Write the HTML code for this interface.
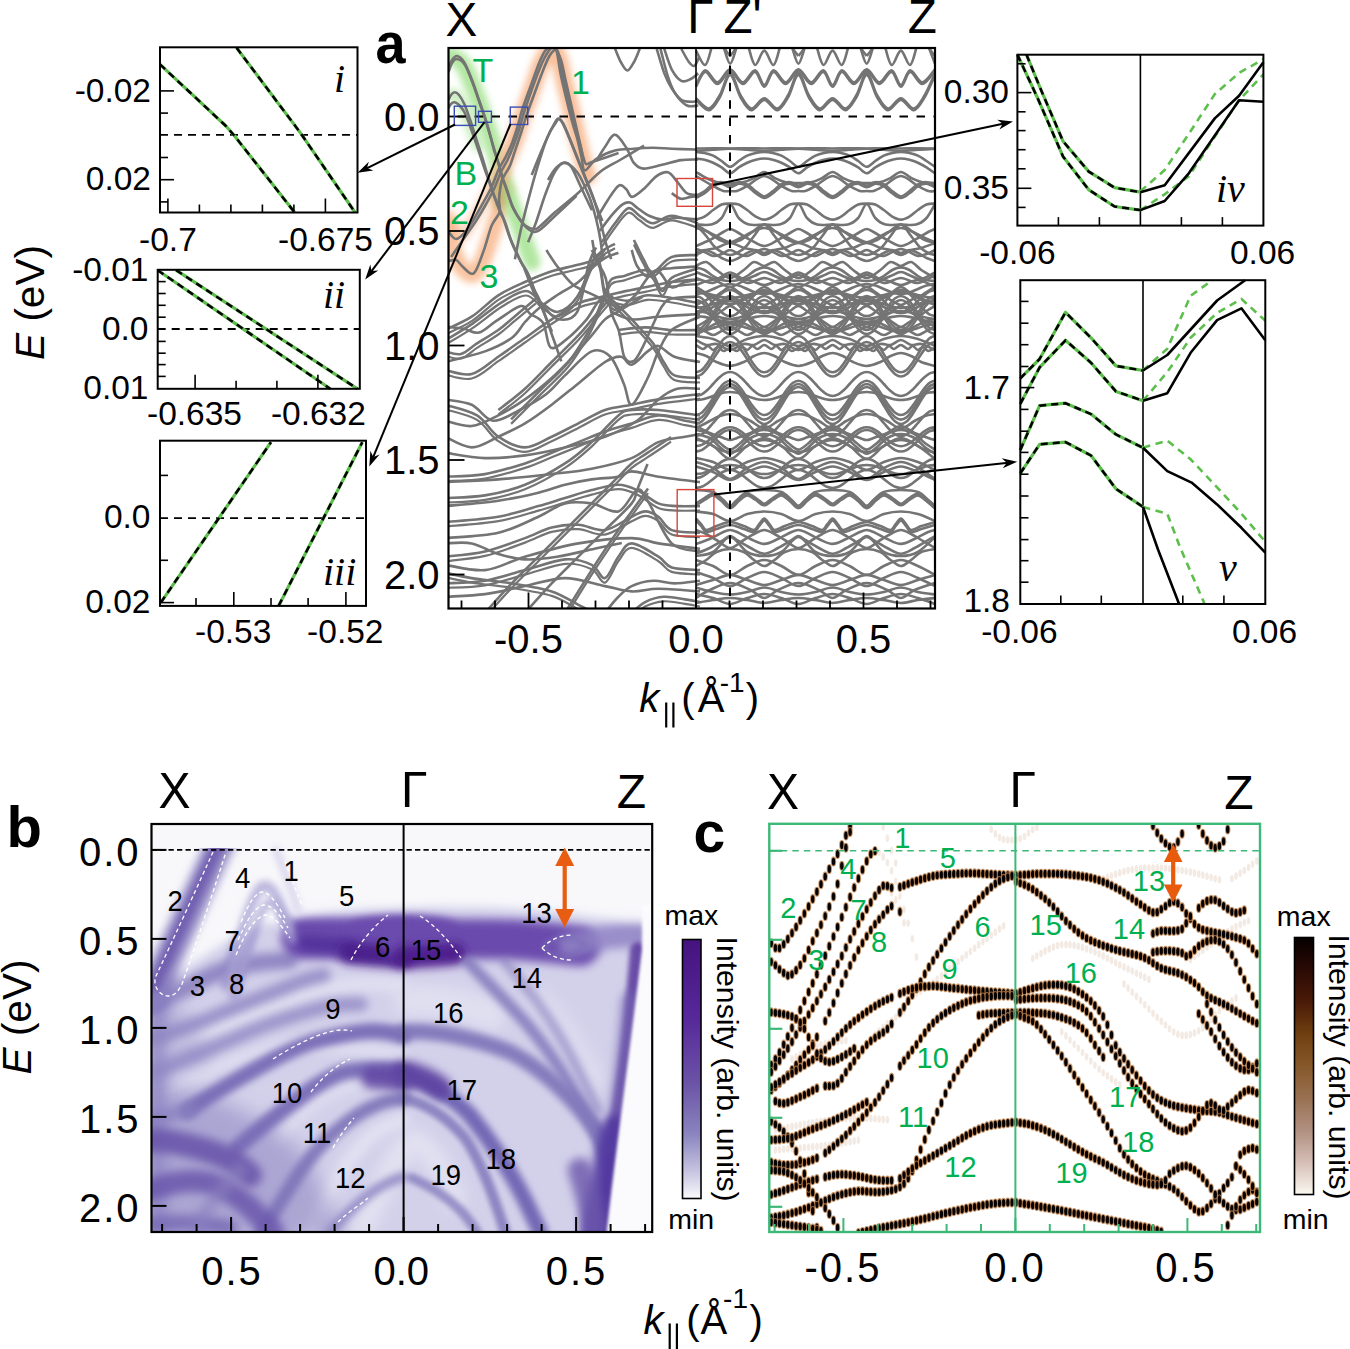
<!DOCTYPE html>
<html><head><meta charset="utf-8"><style>
html,body{margin:0;padding:0;background:#fff;overflow:hidden;}
svg{display:block;}
</style></head><body>
<svg width="1350" height="1349" viewBox="0 0 1350 1349">
<rect width="1350" height="1349" fill="#fff"/>
<defs><clipPath id="ca"><rect x="448.5" y="48" width="486.5" height="560.5"/></clipPath>
<filter id="glow" filterUnits="userSpaceOnUse" x="0" y="0" width="1350" height="1349"><feGaussianBlur stdDeviation="3.5"/></filter></defs>
<g clip-path="url(#ca)">
<path d="M449.0,225.0 C449.5,228.3 450.5,238.8 452.0,245.0 C453.5,251.2 455.7,257.5 458.0,262.0 C460.3,266.5 463.3,270.0 466.0,272.0 C468.7,274.0 471.3,275.7 474.0,274.0 C476.7,272.3 479.3,267.7 482.0,262.0 C484.7,256.3 487.3,247.8 490.0,240.0 C492.7,232.2 495.5,223.3 498.0,215.0 C500.5,206.7 503.8,194.2 505.0,190.0" fill="none" stroke="#f8b88e" stroke-width="17" stroke-opacity="0.85" stroke-linecap="round" filter="url(#glow)"/>
<path d="M449.0,215.0 C450.0,217.8 452.8,228.5 455.0,232.0 C457.2,235.5 459.5,237.2 462.0,236.0 C464.5,234.8 467.0,229.7 470.0,225.0 C473.0,220.3 476.7,213.8 480.0,208.0 C483.3,202.2 486.7,196.0 490.0,190.0 C493.3,184.0 498.3,175.0 500.0,172.0" fill="none" stroke="#f8b88e" stroke-width="12" stroke-opacity="0.6" stroke-linecap="round" filter="url(#glow)"/>
<path d="M449.0,56.0 C450.2,56.3 453.5,56.3 456.0,58.0 C458.5,59.7 461.3,61.7 464.0,66.0 C466.7,70.3 469.5,78.0 472.0,84.0 C474.5,90.0 476.8,96.0 479.0,102.0 C481.2,108.0 483.0,114.0 485.0,120.0 C487.0,126.0 489.2,132.2 491.0,138.0 C492.8,143.8 494.3,149.3 496.0,155.0 C497.7,160.7 499.3,166.5 501.0,172.0 C502.7,177.5 504.2,182.5 506.0,188.0 C507.8,193.5 509.8,198.8 512.0,205.0 C514.2,211.2 516.7,218.3 519.0,225.0 C521.3,231.7 523.8,238.8 526.0,245.0 C528.2,251.2 531.0,259.2 532.0,262.0" fill="none" stroke="#a8e496" stroke-width="17" stroke-opacity="0.9" stroke-linecap="round" filter="url(#glow)"/>
<path d="M449.0,95.0 C450.2,95.2 453.5,93.8 456.0,96.0 C458.5,98.2 461.7,103.3 464.0,108.0 C466.3,112.7 467.7,117.7 470.0,124.0 C472.3,130.3 476.7,142.3 478.0,146.0" fill="none" stroke="#a8e496" stroke-width="12" stroke-opacity="0.6" stroke-linecap="round" filter="url(#glow)"/>
<path d="M500.0,178.0 C501.0,175.0 503.8,165.5 506.0,160.0 C508.2,154.5 510.7,151.0 513.0,145.0 C515.3,139.0 517.7,130.8 520.0,124.0 C522.3,117.2 524.7,110.7 527.0,104.0 C529.3,97.3 531.7,90.7 534.0,84.0 C536.3,77.3 538.7,69.3 541.0,64.0 C543.3,58.7 546.0,54.5 548.0,52.0 C550.0,49.5 551.2,48.0 553.0,49.0 C554.8,50.0 557.2,52.8 559.0,58.0 C560.8,63.2 562.2,72.3 564.0,80.0 C565.8,87.7 568.2,96.3 570.0,104.0 C571.8,111.7 573.3,118.7 575.0,126.0 C576.7,133.3 578.3,141.0 580.0,148.0 C581.7,155.0 583.7,163.3 585.0,168.0 C586.3,172.7 587.5,174.7 588.0,176.0" fill="none" stroke="#f8b88e" stroke-width="17" stroke-opacity="0.9" stroke-linecap="round" filter="url(#glow)"/>
<ellipse cx="499" cy="193" rx="8" ry="17" fill="#c4a560" fill-opacity="0.7" filter="url(#glow)"/>
<path d="M448.5,68.0 C449.1,66.7 450.6,62.0 452.0,60.0 C453.4,58.0 455.0,55.7 457.0,56.0 C459.0,56.3 461.5,58.0 464.0,62.0 C466.5,66.0 469.5,73.7 472.0,80.0 C474.5,86.3 476.8,93.7 479.0,100.0 C481.2,106.3 483.2,112.2 485.0,118.0 C486.8,123.8 488.5,129.7 490.0,135.0 C491.5,140.3 492.7,145.5 494.0,150.0 C495.3,154.5 496.7,157.5 498.0,162.0 C499.3,166.5 500.7,172.7 502.0,177.0 C503.3,181.3 504.5,183.7 506.0,188.0 C507.5,192.3 509.7,199.3 511.0,203.0 C512.3,206.7 512.8,207.7 514.0,210.0 C515.2,212.3 516.5,214.4 518.4,217.0 C520.2,219.6 522.5,223.6 525.1,225.6 C527.7,227.6 531.6,228.8 534.0,229.0 C536.4,229.2 536.0,229.6 539.5,226.8 C543.0,224.0 548.8,217.8 555.0,212.3 C561.2,206.8 569.5,200.7 577.0,194.0 C584.5,187.3 592.8,177.7 600.0,172.0 C607.2,166.3 612.7,164.4 620.0,160.0 C627.3,155.6 640.0,148.0 644.0,145.6" fill="none" stroke="#747474" stroke-width="2.6" stroke-linejoin="round"/>
<path d="M448.5,72.0 C449.1,70.5 450.6,65.2 452.0,63.0 C453.4,60.8 454.8,58.7 457.0,59.0 C459.2,59.3 462.3,60.8 465.0,65.0 C467.7,69.2 470.5,77.5 473.0,84.0 C475.5,90.5 477.8,97.8 480.0,104.0 C482.2,110.2 484.2,115.3 486.0,121.0 C487.8,126.7 489.5,132.8 491.0,138.0 C492.5,143.2 493.7,147.5 495.0,152.0 C496.3,156.5 497.7,160.5 499.0,165.0 C500.3,169.5 501.7,174.8 503.0,179.0 C504.3,183.2 505.5,185.7 507.0,190.0 C508.5,194.3 510.5,201.2 512.0,205.0 C513.5,208.8 514.7,210.5 516.0,213.0 C517.3,215.5 518.2,217.5 520.0,220.0 C521.8,222.5 524.7,226.0 527.0,228.0 C529.3,230.0 531.7,231.8 534.0,232.0 C536.3,232.2 537.3,231.8 541.0,229.0 C544.7,226.2 550.1,220.5 556.0,215.0 C561.9,209.5 573.1,199.1 576.5,195.9" fill="none" stroke="#747474" stroke-width="2.6" stroke-linejoin="round"/>
<path d="M448.5,100.0 C448.9,99.2 450.0,96.3 451.0,95.0 C452.0,93.7 453.3,92.2 454.6,92.2 C455.9,92.2 457.4,93.0 459.0,95.0 C460.6,97.0 462.4,99.8 464.3,104.0 C466.2,108.2 468.4,114.8 470.2,120.0 C472.0,125.2 473.4,130.0 475.0,135.0 C476.6,140.0 478.3,145.3 479.8,150.0 C481.3,154.7 482.8,159.0 484.0,163.0 C485.2,167.0 486.0,170.2 487.2,174.0 C488.4,177.8 489.8,182.2 491.0,186.0 C492.2,189.8 493.3,193.3 494.7,197.0 C496.1,200.7 497.8,204.7 499.1,208.0 C500.5,211.3 501.1,211.9 502.8,216.7 C504.5,221.5 507.6,231.6 509.5,236.8 C511.4,242.0 512.1,243.8 514.0,247.9 C515.9,252.0 518.4,257.1 520.6,261.2 C522.8,265.3 525.1,267.8 527.3,272.4 C529.5,277.0 532.0,284.4 534.0,289.0 C536.0,293.6 537.5,295.2 539.5,300.0 C541.5,304.8 543.9,312.2 546.0,318.0 C548.1,323.8 549.4,327.8 552.0,335.0 C554.6,342.2 559.8,357.0 561.3,361.4" fill="none" stroke="#747474" stroke-width="2.6" stroke-linejoin="round"/>
<path d="M448.5,108.0 C448.9,107.3 450.0,105.0 451.0,104.0 C452.0,103.0 453.3,102.1 454.6,102.3 C455.9,102.5 457.4,103.4 459.0,105.0 C460.6,106.6 462.5,108.5 464.3,112.0 C466.1,115.5 468.1,120.8 470.0,126.0 C471.9,131.2 474.2,137.7 476.0,143.0 C477.8,148.3 479.5,153.5 481.0,158.0 C482.5,162.5 483.7,166.2 485.0,170.0 C486.3,173.8 487.7,177.2 489.0,181.0 C490.3,184.8 491.7,189.2 493.0,193.0 C494.3,196.8 495.7,200.5 497.0,204.0 C498.3,207.5 499.7,211.0 501.0,214.0 C502.3,217.0 503.3,217.7 505.0,222.0 C506.7,226.3 509.2,235.2 511.0,240.0 C512.8,244.8 514.2,247.0 516.0,251.0 C517.8,255.0 519.8,259.8 522.0,264.0 C524.2,268.2 526.8,271.3 529.0,276.0 C531.2,280.7 533.0,287.0 535.0,292.0 C537.0,297.0 538.2,299.4 541.0,306.0 C543.8,312.6 550.2,327.4 552.0,331.7" fill="none" stroke="#747474" stroke-width="2.6" stroke-linejoin="round"/>
<path d="M551.0,46.0 C550.0,46.8 546.9,48.3 545.0,51.0 C543.1,53.7 541.9,56.1 539.4,62.3 C536.9,68.5 532.7,80.5 529.8,88.4 C526.9,96.4 524.2,103.3 522.1,110.0 C520.0,116.7 518.8,122.6 516.9,128.5 C515.0,134.4 513.0,140.7 511.0,145.6 C509.0,150.5 507.1,154.1 505.0,158.2 C502.9,162.3 500.6,165.2 498.4,170.0 C496.2,174.8 494.3,181.1 491.7,186.7 C489.1,192.3 485.8,198.0 482.8,203.4 C479.8,208.8 476.9,214.2 473.9,219.0 C470.9,223.8 468.0,229.0 465.0,232.3 C462.0,235.6 458.4,238.6 456.1,239.0 C453.8,239.4 452.3,236.3 451.0,235.0 C449.7,233.7 448.9,231.7 448.5,231.0" fill="none" stroke="#747474" stroke-width="2.6" stroke-linejoin="round"/>
<path d="M553.0,46.0 C552.2,47.0 549.8,49.2 548.0,52.0 C546.2,54.8 544.7,56.8 542.0,63.0 C539.3,69.2 534.9,81.0 532.0,89.0 C529.1,97.0 526.7,104.2 524.5,111.0 C522.3,117.8 520.9,124.0 519.0,130.0 C517.1,136.0 514.9,142.0 513.0,147.0 C511.1,152.0 509.5,155.8 507.5,160.0 C505.5,164.2 503.2,167.2 501.0,172.0 C498.8,176.8 496.7,183.3 494.0,189.0 C491.3,194.7 488.0,200.7 485.0,206.0 C482.0,211.3 479.0,216.3 476.0,221.0 C473.0,225.7 471.2,228.0 467.0,234.0 C462.8,240.0 453.7,253.2 451.1,257.0" fill="none" stroke="#747474" stroke-width="2.6" stroke-linejoin="round"/>
<path d="M556.0,48.0 C555.0,49.2 552.0,51.7 550.0,55.0 C548.0,58.3 546.5,61.8 544.0,68.0 C541.5,74.2 537.8,84.3 535.0,92.0 C532.2,99.7 529.3,107.2 527.0,114.0 C524.7,120.8 523.0,126.9 521.0,133.0 C519.0,139.1 516.8,145.4 515.0,150.8 C513.2,156.2 511.5,161.9 510.0,165.6 C508.5,169.3 507.1,170.6 505.8,173.0 C504.5,175.4 503.0,177.2 502.0,180.0 C501.0,182.8 500.5,186.7 500.0,190.0 C499.5,193.3 499.1,196.3 499.0,200.0 C498.9,203.7 500.7,208.0 499.5,212.3 C498.3,216.6 494.3,219.3 491.7,225.6 C489.1,231.9 486.5,242.7 483.9,250.1 C481.3,257.5 478.3,266.2 476.1,270.1 C473.9,274.0 473.0,274.2 470.6,273.5 C468.2,272.8 464.4,268.2 462.0,266.0 C459.6,263.8 458.4,260.9 456.1,260.1 C453.9,259.3 449.8,260.9 448.5,261.0" fill="none" stroke="#747474" stroke-width="2.6" stroke-linejoin="round"/>
<path d="M549.0,47.0 C550.2,47.3 554.1,44.5 556.0,49.0 C557.9,53.5 558.9,65.6 560.6,73.9 C562.3,82.2 564.5,91.0 566.4,99.0 C568.3,107.0 570.4,115.5 572.2,122.0 C574.0,128.6 575.7,132.5 577.2,138.3 C578.8,144.1 580.2,151.7 581.5,157.0 C582.8,162.3 582.4,170.1 584.8,170.4 C587.2,170.8 591.1,162.4 596.1,159.1 C601.1,155.8 608.7,152.3 615.0,150.6 C621.3,148.9 627.6,149.2 633.9,148.7 C640.2,148.2 646.5,147.8 652.8,147.8 C659.1,147.8 664.5,148.4 671.7,148.7 C678.9,149.0 692.0,149.4 696.0,149.5" fill="none" stroke="#747474" stroke-width="2.6" stroke-linejoin="round"/>
<path d="M552.0,47.0 C553.0,47.8 556.2,47.2 558.0,52.0 C559.8,56.8 561.2,67.8 563.0,76.0 C564.8,84.2 567.1,93.0 569.0,101.0 C570.9,109.0 572.8,117.5 574.5,124.0 C576.2,130.5 577.6,134.7 579.0,140.0 C580.4,145.3 581.8,152.0 583.0,156.0 C584.2,160.0 584.5,163.0 586.0,164.0 C587.5,165.0 586.6,163.8 592.0,162.0 C597.4,160.2 614.1,154.6 618.6,153.1" fill="none" stroke="#747474" stroke-width="2.6" stroke-linejoin="round"/>
<path d="M555.0,48.0 C556.0,50.0 559.2,54.3 561.0,60.0 C562.8,65.7 564.3,74.7 566.0,82.0 C567.7,89.3 569.3,96.7 571.0,104.0 C572.7,111.3 574.1,117.8 576.0,126.0 C577.9,134.2 581.2,148.8 582.2,153.3" fill="none" stroke="#747474" stroke-width="2.6" stroke-linejoin="round"/>
<path d="M531.7,175.0 C533.2,171.2 538.0,159.2 541.0,152.0 C544.0,144.8 547.7,136.7 550.0,132.0 C552.3,127.3 553.5,126.1 555.0,124.0 C556.5,121.9 557.4,119.2 558.7,119.2 C560.0,119.2 561.1,120.5 563.0,124.0 C564.9,127.5 567.5,134.0 570.0,140.0 C572.5,146.0 575.3,153.3 578.0,160.0 C580.7,166.7 583.7,174.2 586.0,180.0 C588.3,185.8 589.3,188.2 592.0,195.0 C594.7,201.8 600.7,216.7 602.4,221.0" fill="none" stroke="#747474" stroke-width="2.6" stroke-linejoin="round"/>
<path d="M548.0,180.0 C549.3,178.0 553.1,170.9 556.0,168.0 C558.9,165.1 562.7,162.5 565.4,162.5 C568.1,162.5 569.6,164.2 572.0,168.0 C574.4,171.8 576.7,177.9 580.0,185.0 C583.3,192.1 589.9,206.1 591.9,210.3" fill="none" stroke="#747474" stroke-width="2.6" stroke-linejoin="round"/>
<path d="M615.1,48.8 C616.1,51.0 618.8,58.4 620.8,62.0 C622.9,65.6 625.2,70.5 627.4,70.5 C629.6,70.5 632.0,65.6 634.0,62.0 C636.1,58.4 638.8,51.0 639.7,48.8" fill="none" stroke="#747474" stroke-width="2.6" stroke-linejoin="round"/>
<path d="M656.7,48.8 C658.0,52.9 661.8,66.7 664.3,73.4 C666.8,80.0 669.0,84.1 671.8,88.5 C674.7,92.9 677.8,97.6 681.3,99.8 C684.8,102.0 689.8,101.6 692.6,101.7 C695.5,101.9 697.4,100.9 698.3,100.8" fill="none" stroke="#747474" stroke-width="2.6" stroke-linejoin="round"/>
<path d="M660.5,48.8 C661.8,53.5 665.5,69.6 668.1,77.1 C670.6,84.7 672.5,89.4 675.6,94.1 C678.8,98.9 683.2,103.6 687.0,105.5 C690.7,107.4 696.4,105.5 698.3,105.5" fill="none" stroke="#747474" stroke-width="2.6" stroke-linejoin="round"/>
<path d="M664.3,48.8 C665.5,52.2 669.0,64.2 671.8,69.6 C674.7,74.9 678.1,79.3 681.3,80.9 C684.4,82.5 687.9,80.3 690.7,79.0 C693.6,77.8 697.0,74.3 698.3,73.4" fill="none" stroke="#747474" stroke-width="2.6" stroke-linejoin="round"/>
<path d="M681.3,48.8 C682.6,51.0 686.7,59.2 688.9,62.0 C691.1,64.8 692.8,66.7 694.5,65.8 C696.3,64.8 698.5,57.9 699.3,56.3" fill="none" stroke="#747474" stroke-width="2.6" stroke-linejoin="round"/>
<path d="M514.9,259.2 C515.8,254.5 518.4,240.7 520.6,230.9 C522.8,221.1 525.3,211.4 528.1,200.7 C530.9,190.0 534.4,177.1 537.6,166.7 C540.7,156.3 544.2,145.6 547.0,138.3 C549.8,131.1 552.7,126.5 554.6,123.2 C556.4,119.9 556.9,118.5 558.3,118.5 C559.8,118.5 561.2,119.9 563.1,123.2 C564.9,126.5 566.7,131.1 569.7,138.3 C572.7,145.6 577.2,157.2 581.0,166.7 C584.8,176.1 589.2,186.2 592.3,195.0 C595.5,203.8 597.7,211.7 599.9,219.6 C602.1,227.4 603.7,235.6 605.6,242.2 C607.4,248.8 610.3,256.4 611.2,259.2" fill="none" stroke="#747474" stroke-width="2.6" stroke-linejoin="round"/>
<path d="M596.1,161.0 C597.7,158.5 602.4,150.3 605.6,145.9 C608.7,141.5 611.5,134.2 615.0,134.6 C618.5,134.9 623.2,143.1 626.3,147.8 C629.5,152.5 631.1,159.4 633.9,162.9 C636.7,166.4 638.6,168.2 643.3,168.6 C648.1,168.9 655.9,166.2 662.2,164.8 C668.5,163.4 675.1,160.9 681.1,160.1 C687.1,159.2 695.3,159.6 698.1,159.5" fill="none" stroke="#747474" stroke-width="2.6" stroke-linejoin="round"/>
<path d="M528.1,242.2 C529.4,239.1 532.8,231.2 535.7,223.3 C538.5,215.5 542.0,203.5 545.1,195.0 C548.3,186.5 551.4,177.7 554.6,172.3 C557.7,167.0 560.2,162.9 564.0,162.9 C567.8,162.9 573.1,167.0 577.2,172.3 C581.3,177.7 585.7,188.4 588.6,195.0 C591.4,201.6 592.7,206.7 594.2,212.0 C595.8,217.4 596.9,222.1 598.0,227.1 C599.1,232.2 600.0,236.9 600.8,242.2 C601.6,247.6 602.4,256.4 602.7,259.2" fill="none" stroke="#747474" stroke-width="2.6" stroke-linejoin="round"/>
<path d="M596.1,219.6 C598.0,216.4 603.7,206.3 607.4,200.7 C611.2,195.0 615.6,187.4 618.8,185.6 C621.9,183.7 624.1,187.4 626.3,189.3 C628.5,191.2 629.2,196.9 632.0,196.9 C634.8,196.9 639.2,192.8 643.3,189.3 C647.4,185.9 652.5,178.9 656.6,176.1 C660.7,173.3 664.4,171.4 667.9,172.3 C671.4,173.3 674.2,178.3 677.3,181.8 C680.5,185.2 683.3,190.9 686.8,193.1 C690.2,195.3 696.2,194.7 698.1,195.0" fill="none" stroke="#747474" stroke-width="2.6" stroke-linejoin="round"/>
<path d="M599.9,230.9 C601.8,228.4 607.4,220.2 611.2,215.8 C615.0,211.4 619.4,206.7 622.6,204.4 C625.7,202.2 627.6,201.9 630.1,202.6 C632.6,203.2 634.5,206.0 637.7,208.2 C640.8,210.4 644.9,213.9 649.0,215.8 C653.1,217.7 657.5,219.2 662.2,219.6 C666.9,219.9 671.4,217.7 677.3,217.7 C683.3,217.7 694.7,219.2 698.1,219.6" fill="none" stroke="#747474" stroke-width="2.6" stroke-linejoin="round"/>
<path d="M601.8,242.2 C604.0,239.1 610.6,229.0 615.0,223.3 C619.4,217.7 624.1,209.5 628.2,208.2 C632.3,207.0 635.5,213.3 639.6,215.8 C643.7,218.3 647.4,223.3 652.8,223.3 C658.1,223.3 664.1,215.8 671.7,215.8 C679.2,215.8 693.7,222.1 698.1,223.3" fill="none" stroke="#747474" stroke-width="2.6" stroke-linejoin="round"/>
<path d="M601.8,246.7 C604.0,243.6 610.6,233.5 615.0,227.8 C619.4,222.2 624.1,214.0 628.2,212.7 C632.3,211.5 635.5,217.8 639.6,220.3 C643.7,222.8 647.4,227.8 652.8,227.8 C658.1,227.8 664.1,220.3 671.7,220.3 C679.2,220.3 693.7,226.6 698.1,227.8" fill="none" stroke="#747474" stroke-width="2.2" stroke-linejoin="round"/>
<path d="M671.7,193.1 C673.2,194.1 678.0,198.2 681.1,198.8 C684.3,199.4 687.7,197.4 690.6,196.9 C693.4,196.4 696.9,196.1 698.1,195.9" fill="none" stroke="#747474" stroke-width="2.6" stroke-linejoin="round"/>
<path d="M448.8,338.2 C452.9,335.7 464.5,329.1 473.3,323.1 C482.1,317.1 492.9,307.7 501.7,302.3 C510.5,297.0 519.3,290.7 526.2,291.0 C533.2,291.3 537.9,300.8 543.2,304.2 C548.6,307.7 552.7,313.0 558.3,311.8 C564.0,310.5 571.6,304.9 577.2,296.7 C582.9,288.5 588.2,270.2 592.3,262.7 C596.4,255.1 598.0,254.5 601.8,251.3 C605.6,248.2 612.8,245.0 615.0,243.8" fill="none" stroke="#747474" stroke-width="2.6" stroke-linejoin="round"/>
<path d="M448.8,342.7 C452.9,340.2 464.5,333.6 473.3,327.6 C482.1,321.6 492.9,312.2 501.7,306.8 C510.5,301.5 519.3,295.2 526.2,295.5 C533.2,295.8 537.9,305.3 543.2,308.7 C548.6,312.2 552.7,317.5 558.3,316.3 C564.0,315.0 571.6,309.4 577.2,301.2 C582.9,293.0 588.2,274.7 592.3,267.2 C596.4,259.6 598.0,259.0 601.8,255.8 C605.6,252.7 612.8,249.5 615.0,248.3" fill="none" stroke="#747474" stroke-width="2.2" stroke-linejoin="round"/>
<path d="M448.8,326.9 C451.3,327.2 458.9,327.8 463.9,328.8 C468.9,329.7 473.6,333.8 479.0,332.6 C484.4,331.3 489.1,325.6 496.0,321.2 C502.9,316.8 514.9,307.4 520.6,306.1 C526.2,304.9 526.2,310.8 530.0,313.7 C533.8,316.5 539.8,317.4 543.2,323.1 C546.7,328.8 546.7,345.2 550.8,347.7 C554.9,350.2 561.8,342.9 567.8,338.2 C573.8,333.5 581.0,325.9 586.7,319.3 C592.3,312.7 597.1,300.1 601.8,298.6 C606.5,297.0 609.7,310.2 615.0,309.9 C620.4,309.6 627.6,303.0 633.9,296.7 C640.2,290.4 646.5,276.8 652.8,272.1 C659.1,267.4 664.1,269.3 671.7,268.3 C679.2,267.4 693.7,266.8 698.1,266.4" fill="none" stroke="#747474" stroke-width="2.6" stroke-linejoin="round"/>
<path d="M511.1,419.4 C515.8,414.7 530.0,400.6 539.4,391.1 C548.9,381.7 559.9,372.2 567.8,362.8 C575.7,353.3 581.9,342.3 586.7,334.4 C591.4,326.6 593.3,321.9 596.1,315.6 C598.9,309.3 601.2,302.6 603.7,296.7 C606.2,290.7 607.8,283.1 611.2,279.7 C614.7,276.2 619.1,277.5 624.4,275.9 C629.8,274.3 638.6,270.5 643.3,270.2 C648.1,269.9 649.6,270.5 652.8,274.0 C655.9,277.5 659.1,290.4 662.2,291.0 C665.4,291.6 665.7,281.6 671.7,277.8 C677.7,274.0 693.7,269.9 698.1,268.3" fill="none" stroke="#747474" stroke-width="2.6" stroke-linejoin="round"/>
<path d="M511.1,423.9 C515.8,419.2 530.0,405.1 539.4,395.6 C548.9,386.2 559.9,376.7 567.8,367.3 C575.7,357.8 581.9,346.8 586.7,338.9 C591.4,331.1 593.3,326.4 596.1,320.1 C598.9,313.8 601.2,307.1 603.7,301.2 C606.2,295.2 607.8,287.6 611.2,284.2 C614.7,280.7 619.1,282.0 624.4,280.4 C629.8,278.8 638.6,275.0 643.3,274.7 C648.1,274.4 649.6,275.0 652.8,278.5 C655.9,282.0 659.1,294.9 662.2,295.5 C665.4,296.1 665.7,286.1 671.7,282.3 C677.7,278.5 693.7,274.4 698.1,272.8" fill="none" stroke="#747474" stroke-width="2.2" stroke-linejoin="round"/>
<path d="M592.3,240.0 C593.0,243.1 593.9,252.6 596.1,258.9 C598.3,265.2 603.0,269.0 605.6,277.8 C608.1,286.6 609.0,303.0 611.2,311.8 C613.4,320.6 616.6,323.1 618.8,330.7 C621.0,338.2 621.9,352.1 624.4,357.1 C627.0,362.2 630.7,362.8 633.9,360.9 C637.0,359.0 640.2,351.8 643.3,345.8 C646.5,339.8 649.6,331.6 652.8,325.0 C655.9,318.4 659.1,310.5 662.2,306.1 C665.4,301.7 665.7,300.1 671.7,298.6 C677.7,297.0 693.7,297.0 698.1,296.7" fill="none" stroke="#747474" stroke-width="2.6" stroke-linejoin="round"/>
<path d="M633.9,240.0 C635.5,243.1 640.2,253.5 643.3,258.9 C646.5,264.2 648.1,272.4 652.8,272.1 C657.5,271.8 664.1,259.8 671.7,257.0 C679.2,254.2 693.7,255.4 698.1,255.1" fill="none" stroke="#747474" stroke-width="2.6" stroke-linejoin="round"/>
<path d="M633.9,244.5 C635.5,247.6 640.2,258.0 643.3,263.4 C646.5,268.7 648.1,276.9 652.8,276.6 C657.5,276.3 664.1,264.3 671.7,261.5 C679.2,258.7 693.7,259.9 698.1,259.6" fill="none" stroke="#747474" stroke-width="2.2" stroke-linejoin="round"/>
<path d="M524.3,268.3 C526.2,273.1 532.5,290.4 535.7,296.7 C538.8,303.0 539.4,302.3 543.2,306.1 C547.0,309.9 552.7,318.4 558.3,319.3 C564.0,320.3 572.2,320.9 577.2,311.8 C582.3,302.6 585.4,275.3 588.6,264.6 C591.7,253.9 594.9,250.4 596.1,247.6" fill="none" stroke="#747474" stroke-width="2.6" stroke-linejoin="round"/>
<path d="M445.0,330.0 C449.4,327.8 462.8,322.5 471.7,316.7 C480.6,310.9 489.5,301.1 498.3,295.3 C507.2,289.6 516.1,286.0 525.0,282.0 C533.9,278.0 543.7,274.0 551.7,271.3 C559.7,268.7 566.4,267.8 573.0,266.0 C579.7,264.2 586.4,263.3 591.7,260.7 C597.0,258.0 602.8,251.8 605.0,250.0" fill="none" stroke="#747474" stroke-width="2.6" stroke-linejoin="round"/>
<path d="M445.0,334.5 C449.4,332.3 462.8,327.0 471.7,321.2 C480.6,315.4 489.5,305.6 498.3,299.8 C507.2,294.1 516.1,290.5 525.0,286.5 C533.9,282.5 543.7,278.5 551.7,275.8 C559.7,273.2 566.4,272.3 573.0,270.5 C579.7,268.7 586.4,267.8 591.7,265.2 C597.0,262.5 602.8,256.3 605.0,254.5" fill="none" stroke="#747474" stroke-width="2.2" stroke-linejoin="round"/>
<path d="M445.0,362.0 C451.7,360.3 473.9,355.4 485.0,351.4 C496.1,347.4 505.0,342.9 511.7,338.0 C518.4,333.1 520.6,326.9 525.0,322.0 C529.5,317.1 533.0,313.1 538.4,308.7 C543.7,304.2 550.4,299.8 557.0,295.3 C563.7,290.9 572.1,286.9 578.4,282.0 C584.6,277.1 589.9,270.0 594.4,266.0 C598.8,262.0 601.0,260.2 605.0,258.0 C609.0,255.8 616.2,253.6 618.4,252.7" fill="none" stroke="#747474" stroke-width="2.6" stroke-linejoin="round"/>
<path d="M445.0,370.0 C449.4,370.7 462.8,376.3 471.7,374.0 C480.6,371.8 489.5,362.7 498.3,356.7 C507.2,350.7 516.1,344.2 525.0,338.0 C533.9,331.8 542.8,325.1 551.7,319.4 C560.6,313.6 570.8,306.9 578.4,303.3 C585.9,299.8 590.4,299.8 597.0,298.0 C603.7,296.2 610.4,294.5 618.4,292.7 C626.4,290.9 636.2,289.1 645.1,287.3 C653.9,285.6 662.6,283.3 671.7,282.0 C680.9,280.7 695.3,279.8 700.0,279.3" fill="none" stroke="#747474" stroke-width="2.6" stroke-linejoin="round"/>
<path d="M445.0,374.5 C449.4,375.2 462.8,380.8 471.7,378.5 C480.6,376.3 489.5,367.2 498.3,361.2 C507.2,355.2 516.1,348.7 525.0,342.5 C533.9,336.3 542.8,329.6 551.7,323.9 C560.6,318.1 570.8,311.4 578.4,307.8 C585.9,304.3 590.4,304.3 597.0,302.5 C603.7,300.7 610.4,299.0 618.4,297.2 C626.4,295.4 636.2,293.6 645.1,291.8 C653.9,290.1 662.6,287.8 671.7,286.5 C680.9,285.2 695.3,284.3 700.0,283.8" fill="none" stroke="#747474" stroke-width="2.2" stroke-linejoin="round"/>
<path d="M445.0,399.4 C449.4,400.3 463.7,401.2 471.7,404.7 C479.7,408.3 485.0,419.8 493.0,420.7 C501.0,421.6 510.8,414.5 519.7,410.0 C528.6,405.6 538.8,399.8 546.4,394.0 C553.9,388.3 557.5,382.5 565.0,375.4 C572.6,368.3 584.1,354.5 591.7,351.4 C599.3,348.2 605.0,351.4 610.4,356.7 C615.7,362.0 620.2,375.4 623.7,383.4 C627.3,391.4 627.7,405.6 631.7,404.7 C635.7,403.8 643.3,386.9 647.7,378.0 C652.2,369.1 654.4,359.4 658.4,351.4 C662.4,343.4 664.8,335.8 671.7,330.0 C678.7,324.2 695.3,318.9 700.0,316.7" fill="none" stroke="#747474" stroke-width="2.6" stroke-linejoin="round"/>
<path d="M445.0,404.7 C450.3,406.5 468.1,410.0 477.0,415.4 C485.9,420.7 490.3,431.4 498.3,436.7 C506.3,442.1 516.1,447.4 525.0,447.4 C533.9,447.4 542.8,440.7 551.7,436.7 C560.6,432.7 569.5,427.8 578.4,423.4 C587.3,418.9 596.2,413.2 605.0,410.0 C613.9,406.9 622.8,406.5 631.7,404.7 C640.6,402.9 647.0,401.2 658.4,399.4 C669.8,397.6 693.1,394.9 700.0,394.0" fill="none" stroke="#747474" stroke-width="2.6" stroke-linejoin="round"/>
<path d="M445.0,409.2 C450.3,411.0 468.1,414.5 477.0,419.9 C485.9,425.2 490.3,435.9 498.3,441.2 C506.3,446.6 516.1,451.9 525.0,451.9 C533.9,451.9 542.8,445.2 551.7,441.2 C560.6,437.2 569.5,432.3 578.4,427.9 C587.3,423.4 596.2,417.7 605.0,414.5 C613.9,411.4 622.8,411.0 631.7,409.2 C640.6,407.4 647.0,405.7 658.4,403.9 C669.8,402.1 693.1,399.4 700.0,398.5" fill="none" stroke="#747474" stroke-width="2.2" stroke-linejoin="round"/>
<path d="M445.0,436.7 C449.4,438.5 462.8,447.4 471.7,447.4 C480.6,447.4 489.5,440.7 498.3,436.7 C507.2,432.7 516.1,428.7 525.0,423.4 C533.9,418.0 542.8,411.4 551.7,404.7 C560.6,398.0 569.5,390.5 578.4,383.4 C587.3,376.3 597.9,366.5 605.0,362.0 C612.2,357.6 616.6,356.3 621.0,356.7 C625.5,357.1 627.3,365.6 631.7,364.7 C636.2,363.8 643.3,354.5 647.7,351.4 C652.2,348.2 653.9,345.1 658.4,346.0 C662.8,346.9 667.5,354.0 674.4,356.7 C681.3,359.4 695.7,361.1 700.0,362.0" fill="none" stroke="#747474" stroke-width="2.6" stroke-linejoin="round"/>
<path d="M445.0,476.7 C451.7,476.3 471.7,476.3 485.0,474.1 C498.3,471.8 513.9,466.9 525.0,463.4 C536.1,459.8 542.8,456.3 551.7,452.7 C560.6,449.2 569.5,445.6 578.4,442.1 C587.3,438.5 596.2,434.5 605.0,431.4 C613.9,428.3 622.8,426.0 631.7,423.4 C640.6,420.7 649.5,415.8 658.4,415.4 C667.3,414.9 678.1,419.4 685.1,420.7 C692.0,422.0 697.5,422.9 700.0,423.4" fill="none" stroke="#747474" stroke-width="2.6" stroke-linejoin="round"/>
<path d="M445.0,481.2 C451.7,480.8 471.7,480.8 485.0,478.6 C498.3,476.3 513.9,471.4 525.0,467.9 C536.1,464.3 542.8,460.8 551.7,457.2 C560.6,453.7 569.5,450.1 578.4,446.6 C587.3,443.0 596.2,439.0 605.0,435.9 C613.9,432.8 622.8,430.5 631.7,427.9 C640.6,425.2 649.5,420.3 658.4,419.9 C667.3,419.4 678.1,423.9 685.1,425.2 C692.0,426.5 697.5,427.4 700.0,427.9" fill="none" stroke="#747474" stroke-width="2.2" stroke-linejoin="round"/>
<path d="M445.0,482.1 C453.9,481.6 480.6,480.7 498.3,479.4 C516.1,478.1 536.1,475.8 551.7,474.1 C567.3,472.3 578.4,471.4 591.7,468.7 C605.0,466.1 620.6,462.5 631.7,458.1 C642.8,453.6 649.5,445.6 658.4,442.1 C667.3,438.5 678.1,438.1 685.1,436.7 C692.0,435.4 697.5,434.5 700.0,434.0" fill="none" stroke="#747474" stroke-width="2.6" stroke-linejoin="round"/>
<path d="M445.0,498.1 C451.7,497.6 471.7,497.6 485.0,495.4 C498.3,493.2 511.7,490.1 525.0,484.7 C538.4,479.4 553.9,470.5 565.0,463.4 C576.1,456.3 582.8,450.1 591.7,442.1 C600.6,434.0 611.7,420.7 618.4,415.4 C625.0,410.0 625.0,410.9 631.7,410.0 C638.4,409.2 647.0,409.2 658.4,410.0 C669.8,410.9 693.1,414.5 700.0,415.4" fill="none" stroke="#747474" stroke-width="2.6" stroke-linejoin="round"/>
<path d="M445.0,502.6 C451.7,502.1 471.7,502.1 485.0,499.9 C498.3,497.7 511.7,494.6 525.0,489.2 C538.4,483.9 553.9,475.0 565.0,467.9 C576.1,460.8 582.8,454.6 591.7,446.6 C600.6,438.5 611.7,425.2 618.4,419.9 C625.0,414.5 625.0,415.4 631.7,414.5 C638.4,413.7 647.0,413.7 658.4,414.5 C669.8,415.4 693.1,419.0 700.0,419.9" fill="none" stroke="#747474" stroke-width="2.2" stroke-linejoin="round"/>
<path d="M445.0,506.1 C453.9,505.2 482.8,503.0 498.3,500.7 C513.9,498.5 527.2,495.4 538.4,492.7 C549.5,490.1 556.1,487.0 565.0,484.7 C573.9,482.5 582.8,480.7 591.7,479.4 C600.6,478.1 611.7,478.1 618.4,476.7 C625.0,475.4 625.0,471.4 631.7,471.4 C638.4,471.4 647.0,474.9 658.4,476.7 C669.8,478.5 693.1,481.2 700.0,482.1" fill="none" stroke="#747474" stroke-width="2.6" stroke-linejoin="round"/>
<path d="M445.0,522.1 C453.9,521.2 482.8,519.4 498.3,516.7 C513.9,514.1 527.2,509.2 538.4,506.1 C549.5,503.0 556.1,500.7 565.0,498.1 C573.9,495.4 582.8,492.3 591.7,490.1 C600.6,487.8 610.8,484.7 618.4,484.7 C625.9,484.7 630.4,487.0 637.1,490.1 C643.7,493.2 651.7,500.7 658.4,503.4 C665.1,506.1 670.1,505.6 677.1,506.1 C684.0,506.5 696.2,506.1 700.0,506.1" fill="none" stroke="#747474" stroke-width="2.6" stroke-linejoin="round"/>
<path d="M445.0,526.6 C453.9,525.7 482.8,523.9 498.3,521.2 C513.9,518.6 527.2,513.7 538.4,510.6 C549.5,507.5 556.1,505.2 565.0,502.6 C573.9,499.9 582.8,496.8 591.7,494.6 C600.6,492.3 610.8,489.2 618.4,489.2 C625.9,489.2 630.4,491.5 637.1,494.6 C643.7,497.7 651.7,505.2 658.4,507.9 C665.1,510.6 670.1,510.1 677.1,510.6 C684.0,511.0 696.2,510.6 700.0,510.6" fill="none" stroke="#747474" stroke-width="2.2" stroke-linejoin="round"/>
<path d="M445.0,538.1 C453.9,537.2 482.8,536.3 498.3,532.7 C513.9,529.2 527.2,521.6 538.4,516.7 C549.5,511.8 556.1,505.6 565.0,503.4 C573.9,501.2 582.8,502.1 591.7,503.4 C600.6,504.7 610.8,513.6 618.4,511.4 C625.9,509.2 632.2,491.8 637.1,490.1 C641.9,488.3 641.9,491.8 647.7,500.7 C653.5,509.6 663.0,535.0 671.7,543.4 C680.4,551.9 695.3,550.1 700.0,551.4" fill="none" stroke="#747474" stroke-width="2.6" stroke-linejoin="round"/>
<path d="M445.0,556.7 C451.7,555.9 471.7,554.5 485.0,551.4 C498.3,548.3 513.9,542.1 525.0,538.1 C536.1,534.1 542.8,529.6 551.7,527.4 C560.6,525.2 569.5,524.3 578.4,524.7 C587.3,525.2 596.2,531.4 605.0,530.1 C613.9,528.7 625.0,519.8 631.7,516.7 C638.4,513.6 640.6,511.4 645.1,511.4 C649.5,511.4 653.9,513.6 658.4,516.7 C662.8,519.8 664.8,527.4 671.7,530.1 C678.7,532.7 695.3,532.3 700.0,532.7" fill="none" stroke="#747474" stroke-width="2.6" stroke-linejoin="round"/>
<path d="M445.0,561.2 C451.7,560.4 471.7,559.0 485.0,555.9 C498.3,552.8 513.9,546.6 525.0,542.6 C536.1,538.6 542.8,534.1 551.7,531.9 C560.6,529.7 569.5,528.8 578.4,529.2 C587.3,529.7 596.2,535.9 605.0,534.6 C613.9,533.2 625.0,524.3 631.7,521.2 C638.4,518.1 640.6,515.9 645.1,515.9 C649.5,515.9 653.9,518.1 658.4,521.2 C662.8,524.3 664.8,531.9 671.7,534.6 C678.7,537.2 695.3,536.8 700.0,537.2" fill="none" stroke="#747474" stroke-width="2.2" stroke-linejoin="round"/>
<path d="M445.0,564.8 C451.7,565.6 471.7,571.4 485.0,570.1 C498.3,568.8 509.5,561.2 525.0,556.7 C540.6,552.3 560.6,546.5 578.4,543.4 C596.2,540.3 618.4,538.1 631.7,538.1 C645.1,538.1 647.0,541.6 658.4,543.4 C669.8,545.2 693.1,547.9 700.0,548.7" fill="none" stroke="#747474" stroke-width="2.6" stroke-linejoin="round"/>
<path d="M445.0,583.4 C451.7,583.0 471.7,583.0 485.0,580.8 C498.3,578.5 511.7,573.6 525.0,570.1 C538.4,566.5 553.9,560.3 565.0,559.4 C576.1,558.5 585.0,561.6 591.7,564.8 C598.4,567.9 600.6,579.4 605.0,578.1 C609.5,576.8 613.9,562.5 618.4,556.7 C622.8,551.0 625.0,543.4 631.7,543.4 C638.4,543.4 651.7,552.7 658.4,556.7 C665.1,560.7 664.8,565.2 671.7,567.4 C678.7,569.6 695.3,569.6 700.0,570.1" fill="none" stroke="#747474" stroke-width="2.6" stroke-linejoin="round"/>
<path d="M445.0,587.9 C451.7,587.5 471.7,587.5 485.0,585.3 C498.3,583.0 511.7,578.1 525.0,574.6 C538.4,571.0 553.9,564.8 565.0,563.9 C576.1,563.0 585.0,566.1 591.7,569.3 C598.4,572.4 600.6,583.9 605.0,582.6 C609.5,581.3 613.9,567.0 618.4,561.2 C622.8,555.5 625.0,547.9 631.7,547.9 C638.4,547.9 651.7,557.2 658.4,561.2 C665.1,565.2 664.8,569.7 671.7,571.9 C678.7,574.1 695.3,574.1 700.0,574.6" fill="none" stroke="#747474" stroke-width="2.2" stroke-linejoin="round"/>
<path d="M445.0,596.8 C451.7,596.3 471.7,595.9 485.0,594.1 C498.3,592.3 511.7,588.8 525.0,586.1 C538.4,583.4 551.7,578.1 565.0,578.1 C578.4,578.1 593.9,583.9 605.0,586.1 C616.2,588.3 622.8,591.0 631.7,591.4 C640.6,591.9 647.0,588.8 658.4,588.8 C669.8,588.8 693.1,591.0 700.0,591.4" fill="none" stroke="#747474" stroke-width="2.6" stroke-linejoin="round"/>
<path d="M485.0,612.8 C489.5,607.9 502.8,592.8 511.7,583.4 C520.6,574.1 529.5,565.6 538.4,556.7 C547.2,547.9 556.1,539.0 565.0,530.1 C573.9,521.2 582.8,512.3 591.7,503.4 C600.6,494.5 611.7,483.4 618.4,476.7 C625.0,470.1 626.8,467.4 631.7,463.4 C636.6,459.4 641.2,457.1 647.7,452.7 C654.3,448.4 667.1,439.8 671.0,437.2" fill="none" stroke="#747474" stroke-width="2.6" stroke-linejoin="round"/>
<path d="M485.0,617.3 C489.5,612.4 502.8,597.3 511.7,587.9 C520.6,578.6 529.5,570.1 538.4,561.2 C547.2,552.4 556.1,543.5 565.0,534.6 C573.9,525.7 582.8,516.8 591.7,507.9 C600.6,499.0 611.7,487.9 618.4,481.2 C625.0,474.6 626.8,471.9 631.7,467.9 C636.6,463.9 641.2,461.6 647.7,457.2 C654.3,452.9 667.1,444.3 671.0,441.7" fill="none" stroke="#747474" stroke-width="2.2" stroke-linejoin="round"/>
<path d="M525.0,612.8 C529.5,607.9 542.8,592.8 551.7,583.4 C560.6,574.1 569.5,565.6 578.4,556.7 C587.3,547.9 596.2,539.0 605.0,530.1 C613.9,521.2 626.4,510.1 631.7,503.4 C637.1,496.7 634.4,496.6 637.1,490.1 C639.7,483.5 645.7,468.4 647.5,464.1" fill="none" stroke="#747474" stroke-width="2.6" stroke-linejoin="round"/>
<path d="M565.0,612.8 C569.5,605.7 582.8,583.9 591.7,570.1 C600.6,556.3 611.7,539.9 618.4,530.1 C625.0,520.3 626.8,518.3 631.7,511.4 C636.7,504.5 645.3,492.4 648.0,488.6" fill="none" stroke="#747474" stroke-width="2.6" stroke-linejoin="round"/>
<path d="M565.0,617.3 C569.5,610.2 582.8,588.4 591.7,574.6 C600.6,560.8 611.7,544.4 618.4,534.6 C625.0,524.8 626.8,522.8 631.7,515.9 C636.7,509.0 645.3,496.9 648.0,493.1" fill="none" stroke="#747474" stroke-width="2.2" stroke-linejoin="round"/>
<path d="M445.0,543.4 C449.4,543.4 462.8,541.6 471.7,543.4 C480.6,545.2 489.5,551.4 498.3,554.1 C507.2,556.7 515.2,559.0 525.0,559.4 C534.8,559.9 545.5,558.5 557.0,556.7 C568.6,555.0 583.6,551.1 594.4,548.7 C605.2,546.4 617.2,543.9 621.8,542.9" fill="none" stroke="#747474" stroke-width="2.6" stroke-linejoin="round"/>
<path d="M591.7,250.0 C593.0,252.2 597.5,256.2 599.7,263.3 C601.9,270.4 602.4,286.0 605.0,292.7 C607.7,299.3 611.3,298.9 615.7,303.3 C620.2,307.8 625.5,312.7 631.7,319.4 C637.9,326.0 647.7,336.2 653.1,343.4 C658.4,350.5 660.2,356.7 663.7,362.0 C667.3,367.4 668.3,372.7 674.4,375.4 C680.4,378.0 695.7,377.6 700.0,378.0" fill="none" stroke="#747474" stroke-width="2.6" stroke-linejoin="round"/>
<path d="M591.7,254.5 C593.0,256.7 597.5,260.7 599.7,267.8 C601.9,274.9 602.4,290.5 605.0,297.2 C607.7,303.8 611.3,303.4 615.7,307.8 C620.2,312.3 625.5,317.2 631.7,323.9 C637.9,330.5 647.7,340.7 653.1,347.9 C658.4,355.0 660.2,361.2 663.7,366.5 C667.3,371.9 668.3,377.2 674.4,379.9 C680.4,382.5 695.7,382.1 700.0,382.5" fill="none" stroke="#747474" stroke-width="2.2" stroke-linejoin="round"/>
<path d="M631.7,250.0 C632.6,252.7 634.4,261.6 637.1,266.0 C639.7,270.4 644.2,275.8 647.7,276.7 C651.3,277.6 654.4,269.6 658.4,271.3 C662.4,273.1 667.3,285.6 671.7,287.3 C676.2,289.1 680.4,283.3 685.1,282.0 C689.8,280.7 697.5,279.8 700.0,279.3" fill="none" stroke="#747474" stroke-width="2.6" stroke-linejoin="round"/>
<path d="M605.0,295.3 C608.6,296.2 619.3,300.7 626.4,300.7 C633.5,300.7 640.2,295.8 647.7,295.3 C655.3,294.9 663.0,296.7 671.7,298.0 C680.4,299.3 695.3,302.5 700.0,303.3" fill="none" stroke="#747474" stroke-width="2.6" stroke-linejoin="round"/>
<path d="M605.0,299.8 C608.6,300.7 619.3,305.2 626.4,305.2 C633.5,305.2 640.2,300.3 647.7,299.8 C655.3,299.4 663.0,301.2 671.7,302.5 C680.4,303.8 695.3,307.0 700.0,307.8" fill="none" stroke="#747474" stroke-width="2.2" stroke-linejoin="round"/>
<path d="M610.4,311.3 C613.9,312.7 623.7,318.5 631.7,319.4 C639.7,320.2 647.0,317.6 658.4,316.7 C669.8,315.8 693.1,314.5 700.0,314.0" fill="none" stroke="#747474" stroke-width="2.6" stroke-linejoin="round"/>
<path d="M618.4,330.0 C622.8,329.6 636.2,327.4 645.1,327.4 C653.9,327.4 662.6,329.6 671.7,330.0 C680.9,330.5 695.3,330.0 700.0,330.0" fill="none" stroke="#747474" stroke-width="2.6" stroke-linejoin="round"/>
<path d="M618.4,334.5 C622.8,334.1 636.2,331.9 645.1,331.9 C653.9,331.9 662.6,334.1 671.7,334.5 C680.9,335.0 695.3,334.5 700.0,334.5" fill="none" stroke="#747474" stroke-width="2.2" stroke-linejoin="round"/>
<path d="M445.0,420.7 C449.4,421.6 462.8,426.9 471.7,426.0 C480.6,425.2 489.5,419.8 498.3,415.4 C507.2,410.9 516.1,405.6 525.0,399.4 C533.9,393.1 543.7,385.1 551.7,378.0 C559.7,370.9 566.4,363.8 573.0,356.7 C579.7,349.6 586.4,341.6 591.7,335.4 C597.0,329.1 600.6,323.4 605.0,319.4 C609.5,315.4 612.2,315.1 618.4,311.3 C624.6,307.6 638.4,299.3 642.4,296.9" fill="none" stroke="#747474" stroke-width="2.6" stroke-linejoin="round"/>
<path d="M498.3,410.0 C502.8,406.5 516.1,396.7 525.0,388.7 C533.9,380.7 542.8,370.9 551.7,362.0 C560.6,353.1 571.3,342.9 578.4,335.4 C585.5,327.8 588.7,323.3 594.4,316.7 C600.1,310.0 609.6,299.0 612.6,295.4" fill="none" stroke="#747474" stroke-width="2.6" stroke-linejoin="round"/>
<path d="M498.3,414.5 C502.8,411.0 516.1,401.2 525.0,393.2 C533.9,385.2 542.8,375.4 551.7,366.5 C560.6,357.6 571.3,347.4 578.4,339.9 C585.5,332.3 588.7,327.8 594.4,321.2 C600.1,314.5 609.6,303.5 612.6,299.9" fill="none" stroke="#747474" stroke-width="2.2" stroke-linejoin="round"/>
<path d="M445.0,452.7 C451.7,453.6 471.7,457.6 485.0,458.1 C498.3,458.5 511.7,457.2 525.0,455.4 C538.4,453.6 551.7,450.5 565.0,447.4 C578.4,444.3 593.0,441.2 605.0,436.7 C617.0,432.3 628.2,426.9 637.1,420.7 C645.9,414.5 651.7,404.7 658.4,399.4 C665.1,394.0 670.1,390.5 677.1,388.7 C684.0,386.9 696.2,388.7 700.0,388.7" fill="none" stroke="#747474" stroke-width="2.6" stroke-linejoin="round"/>
<path d="M445.0,572.8 C449.4,573.6 460.6,576.3 471.7,578.1 C482.8,579.9 498.3,581.2 511.7,583.4 C525.0,585.6 540.6,587.9 551.7,591.4 C562.8,595.0 571.3,601.2 578.4,604.8 C585.5,608.3 591.7,611.4 594.4,612.8" fill="none" stroke="#747474" stroke-width="2.6" stroke-linejoin="round"/>
<path d="M445.0,577.3 C449.4,578.1 460.6,580.8 471.7,582.6 C482.8,584.4 498.3,585.7 511.7,587.9 C525.0,590.1 540.6,592.4 551.7,595.9 C562.8,599.5 571.3,605.7 578.4,609.3 C585.5,612.8 591.7,615.9 594.4,617.3" fill="none" stroke="#747474" stroke-width="2.2" stroke-linejoin="round"/>
<path d="M605.0,612.8 C607.3,610.1 613.9,601.2 618.4,596.8 C622.8,592.3 625.9,588.8 631.7,586.1 C637.5,583.4 645.9,581.2 653.1,580.8 C660.2,580.3 666.6,583.4 674.4,583.4 C682.2,583.4 695.7,581.2 700.0,580.8" fill="none" stroke="#747474" stroke-width="2.6" stroke-linejoin="round"/>
<path d="M631.7,612.8 C633.9,611.0 639.7,604.8 645.1,602.1 C650.4,599.4 657.1,597.2 663.7,596.8 C670.4,596.3 679.0,598.5 685.1,599.4 C691.1,600.3 697.5,601.6 700.0,602.1" fill="none" stroke="#747474" stroke-width="2.6" stroke-linejoin="round"/>
<path d="M631.7,617.3 C633.9,615.5 639.7,609.3 645.1,606.6 C650.4,603.9 657.1,601.7 663.7,601.3 C670.4,600.8 679.0,603.0 685.1,603.9 C691.1,604.8 697.5,606.1 700.0,606.6" fill="none" stroke="#747474" stroke-width="2.2" stroke-linejoin="round"/>
<path d="M546.4,250.0 C548.1,252.7 552.6,260.2 557.0,266.0 C561.5,271.8 566.8,279.8 573.0,284.7 C579.3,289.6 586.6,291.5 594.4,295.3 C602.1,299.2 615.2,305.8 619.4,307.9" fill="none" stroke="#747474" stroke-width="2.6" stroke-linejoin="round"/>
<path d="M445.0,351.4 C447.7,351.8 455.7,355.4 461.0,354.0 C466.3,352.7 470.8,347.4 477.0,343.4 C483.2,339.4 492.1,334.5 498.3,330.0 C504.6,325.6 508.1,321.9 514.4,316.7 C520.6,311.5 532.3,301.7 535.9,298.8" fill="none" stroke="#747474" stroke-width="2.6" stroke-linejoin="round"/>
<path d="M445.0,355.9 C447.7,356.3 455.7,359.9 461.0,358.5 C466.3,357.2 470.8,351.9 477.0,347.9 C483.2,343.9 492.1,339.0 498.3,334.5 C504.6,330.1 508.1,326.4 514.4,321.2 C520.6,316.0 532.3,306.2 535.9,303.3" fill="none" stroke="#747474" stroke-width="2.2" stroke-linejoin="round"/>
<path d="M696.0,50.6 C697.5,53.0 702.5,65.8 705.2,65.0 C707.9,64.2 710.5,50.5 712.0,46.0 C713.6,41.5 713.5,39.3 714.8,38.0 C716.1,36.7 718.5,36.7 719.9,38.0 C721.3,39.3 721.6,41.7 723.3,46.0 C725.0,50.3 727.9,63.7 730.1,63.7 C732.4,63.7 735.3,50.3 737.0,46.0 C738.7,41.7 739.0,39.3 740.4,38.0 C741.8,36.7 744.2,36.7 745.5,38.0 C746.8,39.3 746.6,41.5 748.2,46.0 C749.8,50.5 752.4,64.2 755.1,65.0 C757.7,65.8 761.2,50.6 764.3,50.6 C767.4,50.6 770.8,65.8 773.5,65.0 C776.2,64.2 778.7,50.5 780.3,46.0 C781.9,41.5 781.8,39.3 783.1,38.0 C784.4,36.7 786.8,36.7 788.2,38.0 C789.6,39.3 789.9,41.7 791.6,46.0 C793.3,50.3 796.2,63.7 798.4,63.7 C800.7,63.7 803.5,50.3 805.3,46.0 C807.0,41.7 807.2,39.3 808.7,38.0 C810.1,36.7 812.5,36.7 813.8,38.0 C815.1,39.3 814.9,41.5 816.5,46.0 C818.1,50.5 820.7,64.2 823.4,65.0 C826.0,65.8 829.5,50.6 832.6,50.6 C835.6,50.6 839.1,65.8 841.8,65.0 C844.5,64.2 847.0,50.5 848.6,46.0 C850.2,41.5 850.0,39.3 851.4,38.0 C852.7,36.7 855.0,36.7 856.5,38.0 C857.9,39.3 858.2,41.7 859.9,46.0 C861.6,50.3 864.4,63.7 866.7,63.7 C869.0,63.7 871.8,50.3 873.5,46.0 C875.3,41.7 875.5,39.3 877.0,38.0 C878.4,36.7 880.8,36.7 882.1,38.0 C883.4,39.3 883.2,41.5 884.8,46.0 C886.4,50.5 889.0,64.2 891.6,65.0 C894.3,65.8 897.8,50.6 900.9,50.6 C903.9,50.6 907.4,65.8 910.1,65.0 C912.8,64.2 915.3,50.5 916.9,46.0 C918.5,41.5 918.3,39.3 919.6,38.0 C920.9,36.7 923.3,36.7 924.8,38.0 C926.2,39.3 926.5,41.7 928.2,46.0 C929.9,50.3 933.9,60.8 935.0,63.7" fill="none" stroke="#747474" stroke-width="2.6" stroke-linejoin="round"/>
<path d="M720.6,38.0 C721.3,39.8 723.4,46.0 725.0,49.0 C726.6,52.0 729.3,54.8 730.1,56.0" fill="none" stroke="#747474" stroke-width="2.6" stroke-linejoin="round"/>
<path d="M739.7,38.0 C739.0,39.8 736.9,46.0 735.3,49.0 C733.7,52.0 731.0,54.8 730.1,56.0" fill="none" stroke="#747474" stroke-width="2.6" stroke-linejoin="round"/>
<path d="M788.9,38.0 C789.6,39.8 791.7,46.0 793.3,49.0 C794.9,52.0 797.6,54.8 798.4,56.0" fill="none" stroke="#747474" stroke-width="2.6" stroke-linejoin="round"/>
<path d="M808.0,38.0 C807.2,39.8 805.1,46.0 803.6,49.0 C802.0,52.0 799.3,54.8 798.4,56.0" fill="none" stroke="#747474" stroke-width="2.6" stroke-linejoin="round"/>
<path d="M857.2,38.0 C857.9,39.8 860.0,46.0 861.6,49.0 C863.2,52.0 865.9,54.8 866.7,56.0" fill="none" stroke="#747474" stroke-width="2.6" stroke-linejoin="round"/>
<path d="M876.3,38.0 C875.5,39.8 873.4,46.0 871.8,49.0 C870.2,52.0 867.6,54.8 866.7,56.0" fill="none" stroke="#747474" stroke-width="2.6" stroke-linejoin="round"/>
<path d="M925.4,38.0 C926.2,39.8 928.3,46.0 929.9,49.0 C931.5,52.0 934.1,54.8 935.0,56.0" fill="none" stroke="#747474" stroke-width="2.6" stroke-linejoin="round"/>
<path d="M696.0,85.1 C697.5,82.6 701.6,70.7 705.2,70.2 C708.8,69.7 713.4,82.5 717.5,82.3 C721.7,82.1 725.9,69.3 730.1,69.3 C734.4,69.3 738.6,82.1 742.8,82.3 C746.9,82.5 751.5,69.7 755.1,70.2 C758.7,70.7 761.2,85.1 764.3,85.1 C767.4,85.1 769.9,70.7 773.5,70.2 C777.1,69.7 781.6,82.5 785.8,82.3 C789.9,82.1 794.2,69.3 798.4,69.3 C802.6,69.3 806.9,82.1 811.1,82.3 C815.2,82.5 819.8,69.7 823.4,70.2 C826.9,70.7 829.5,85.1 832.6,85.1 C835.6,85.1 838.2,70.7 841.8,70.2 C845.4,69.7 849.9,82.5 854.1,82.3 C858.2,82.1 862.5,69.3 866.7,69.3 C870.9,69.3 875.2,82.1 879.3,82.3 C883.5,82.5 888.1,69.7 891.6,70.2 C895.2,70.7 897.8,85.1 900.9,85.1 C903.9,85.1 906.5,70.7 910.1,70.2 C913.7,69.7 918.2,82.5 922.4,82.3 C926.5,82.1 932.9,71.5 935.0,69.3" fill="none" stroke="#747474" stroke-width="2.6" stroke-linejoin="round"/>
<path d="M696.0,86.8 C697.5,84.3 701.6,72.5 705.2,72.0 C708.8,71.5 713.4,84.2 717.5,84.0 C721.7,83.8 725.9,71.0 730.1,71.0 C734.4,71.0 738.6,83.8 742.8,84.0 C746.9,84.2 751.5,71.5 755.1,72.0 C758.7,72.5 761.2,86.8 764.3,86.8 C767.4,86.8 769.9,72.5 773.5,72.0 C777.1,71.5 781.6,84.2 785.8,84.0 C789.9,83.8 794.2,71.0 798.4,71.0 C802.6,71.0 806.9,83.8 811.1,84.0 C815.2,84.2 819.8,71.5 823.4,72.0 C826.9,72.5 829.5,86.8 832.6,86.8 C835.6,86.8 838.2,72.5 841.8,72.0 C845.4,71.5 849.9,84.2 854.1,84.0 C858.2,83.8 862.5,71.0 866.7,71.0 C870.9,71.0 875.2,83.8 879.3,84.0 C883.5,84.2 888.1,71.5 891.6,72.0 C895.2,72.5 897.8,86.8 900.9,86.8 C903.9,86.8 906.5,72.5 910.1,72.0 C913.7,71.5 918.2,84.2 922.4,84.0 C926.5,83.8 932.9,73.2 935.0,71.0" fill="none" stroke="#747474" stroke-width="2.6" stroke-linejoin="round"/>
<path d="M696.0,98.2 C698.2,99.9 705.0,109.0 709.0,108.5 C713.0,108.0 716.4,100.9 719.9,95.0 C723.4,89.1 726.7,73.0 730.1,73.0 C733.6,73.0 736.9,89.1 740.4,95.0 C743.9,100.9 747.3,108.0 751.3,108.5 C755.3,109.0 760.0,98.2 764.3,98.2 C768.6,98.2 773.3,109.0 777.3,108.5 C781.2,108.0 784.7,100.9 788.2,95.0 C791.7,89.1 795.0,73.0 798.4,73.0 C801.8,73.0 805.1,89.1 808.7,95.0 C812.2,100.9 815.6,108.0 819.6,108.5 C823.6,109.0 828.2,98.2 832.6,98.2 C836.9,98.2 841.6,109.0 845.5,108.5 C849.5,108.0 852.9,100.9 856.5,95.0 C860.0,89.1 863.3,73.0 866.7,73.0 C870.1,73.0 873.4,89.1 877.0,95.0 C880.5,100.9 883.9,108.0 887.9,108.5 C891.9,109.0 896.5,98.2 900.9,98.2 C905.2,98.2 909.8,109.0 913.8,108.5 C917.8,108.0 921.2,100.9 924.8,95.0 C928.3,89.1 933.3,76.7 935.0,73.0" fill="none" stroke="#747474" stroke-width="2.6" stroke-linejoin="round"/>
<path d="M696.0,99.9 C698.2,101.6 705.0,110.7 709.0,110.2 C713.0,109.7 716.4,102.9 719.9,97.0 C723.4,91.1 726.7,75.0 730.1,75.0 C733.6,75.0 736.9,91.1 740.4,97.0 C743.9,102.9 747.3,109.7 751.3,110.2 C755.3,110.7 760.0,99.9 764.3,99.9 C768.6,99.9 773.3,110.7 777.3,110.2 C781.2,109.7 784.7,102.9 788.2,97.0 C791.7,91.1 795.0,75.0 798.4,75.0 C801.8,75.0 805.1,91.1 808.7,97.0 C812.2,102.9 815.6,109.7 819.6,110.2 C823.6,110.7 828.2,99.9 832.6,99.9 C836.9,99.9 841.6,110.7 845.5,110.2 C849.5,109.7 852.9,102.9 856.5,97.0 C860.0,91.1 863.3,75.0 866.7,75.0 C870.1,75.0 873.4,91.1 877.0,97.0 C880.5,102.9 883.9,109.7 887.9,110.2 C891.9,110.7 896.5,99.9 900.9,99.9 C905.2,99.9 909.8,110.7 913.8,110.2 C917.8,109.7 921.2,102.9 924.8,97.0 C928.3,91.1 933.3,78.7 935.0,75.0" fill="none" stroke="#747474" stroke-width="2.6" stroke-linejoin="round"/>
<path d="M696.0,148.5 C698.8,148.5 707.4,148.3 713.1,148.3 C718.8,148.3 724.5,148.5 730.1,148.5 C735.8,148.5 741.5,148.3 747.2,148.3 C752.9,148.3 758.6,148.5 764.3,148.5 C770.0,148.5 775.7,148.3 781.4,148.3 C787.0,148.3 792.7,148.5 798.4,148.5 C804.1,148.5 809.8,148.3 815.5,148.3 C821.2,148.3 826.9,148.5 832.6,148.5 C838.3,148.5 844.0,148.3 849.6,148.3 C855.3,148.3 861.0,148.5 866.7,148.5 C872.4,148.5 878.1,148.3 883.8,148.3 C889.5,148.3 895.2,148.5 900.9,148.5 C906.5,148.5 912.2,148.3 917.9,148.3 C923.6,148.3 932.2,148.5 935.0,148.5" fill="none" stroke="#747474" stroke-width="2.6" stroke-linejoin="round"/>
<path d="M696.0,151.0 C698.8,150.8 707.4,150.2 713.1,149.8 C718.8,149.4 724.5,148.8 730.1,148.8 C735.8,148.8 741.5,149.4 747.2,149.8 C752.9,150.2 758.6,151.0 764.3,151.0 C770.0,151.0 775.7,150.2 781.4,149.8 C787.0,149.4 792.7,148.8 798.4,148.8 C804.1,148.8 809.8,149.4 815.5,149.8 C821.2,150.2 826.9,151.0 832.6,151.0 C838.3,151.0 844.0,150.2 849.6,149.8 C855.3,149.4 861.0,148.8 866.7,148.8 C872.4,148.8 878.1,149.4 883.8,149.8 C889.5,150.2 895.2,151.0 900.9,151.0 C906.5,151.0 912.2,150.2 917.9,149.8 C923.6,149.4 932.2,149.0 935.0,148.8" fill="none" stroke="#747474" stroke-width="2.6" stroke-linejoin="round"/>
<path d="M696.0,152.0 C697.4,152.2 701.7,152.4 704.5,153.0 C707.4,153.6 710.2,154.3 713.1,155.6 C715.9,156.9 718.8,159.1 721.6,161.0 C724.5,162.9 727.3,166.8 730.1,166.8 C733.0,166.8 735.8,162.9 738.7,161.0 C741.5,159.1 744.4,156.9 747.2,155.6 C750.1,154.3 752.9,153.6 755.8,153.0 C758.6,152.4 761.4,152.0 764.3,152.0 C767.1,152.0 770.0,152.4 772.8,153.0 C775.7,153.6 778.5,154.3 781.4,155.6 C784.2,156.9 787.0,159.1 789.9,161.0 C792.7,162.9 795.6,166.8 798.4,166.8 C801.3,166.8 804.1,162.9 807.0,161.0 C809.8,159.1 812.7,156.9 815.5,155.6 C818.3,154.3 821.2,153.6 824.0,153.0 C826.9,152.4 829.7,152.0 832.6,152.0 C835.4,152.0 838.3,152.4 841.1,153.0 C844.0,153.6 846.8,154.3 849.6,155.6 C852.5,156.9 855.3,159.1 858.2,161.0 C861.0,162.9 863.9,166.8 866.7,166.8 C869.6,166.8 872.4,162.9 875.3,161.0 C878.1,159.1 880.9,156.9 883.8,155.6 C886.6,154.3 889.5,153.6 892.3,153.0 C895.2,152.4 898.0,152.0 900.9,152.0 C903.7,152.0 906.5,152.4 909.4,153.0 C912.2,153.6 915.1,154.3 917.9,155.6 C920.8,156.9 923.6,159.1 926.5,161.0 C929.3,162.9 933.6,165.8 935.0,166.8" fill="none" stroke="#747474" stroke-width="2.6" stroke-linejoin="round"/>
<path d="M696.0,158.5 C697.4,158.7 701.7,159.0 704.5,159.7 C707.4,160.4 710.2,161.4 713.1,162.7 C715.9,164.0 718.8,165.6 721.6,167.4 C724.5,169.2 727.3,173.3 730.1,173.3 C733.0,173.3 735.8,169.2 738.7,167.4 C741.5,165.6 744.4,164.0 747.2,162.7 C750.1,161.4 752.9,160.4 755.8,159.7 C758.6,159.0 761.4,158.5 764.3,158.5 C767.1,158.5 770.0,159.0 772.8,159.7 C775.7,160.4 778.5,161.4 781.4,162.7 C784.2,164.0 787.0,165.6 789.9,167.4 C792.7,169.2 795.6,173.3 798.4,173.3 C801.3,173.3 804.1,169.2 807.0,167.4 C809.8,165.6 812.7,164.0 815.5,162.7 C818.3,161.4 821.2,160.4 824.0,159.7 C826.9,159.0 829.7,158.5 832.6,158.5 C835.4,158.5 838.3,159.0 841.1,159.7 C844.0,160.4 846.8,161.4 849.6,162.7 C852.5,164.0 855.3,165.6 858.2,167.4 C861.0,169.2 863.9,173.3 866.7,173.3 C869.6,173.3 872.4,169.2 875.3,167.4 C878.1,165.6 880.9,164.0 883.8,162.7 C886.6,161.4 889.5,160.4 892.3,159.7 C895.2,159.0 898.0,158.5 900.9,158.5 C903.7,158.5 906.5,159.0 909.4,159.7 C912.2,160.4 915.1,161.4 917.9,162.7 C920.8,164.0 923.6,165.6 926.5,167.4 C929.3,169.2 933.6,172.3 935.0,173.3" fill="none" stroke="#747474" stroke-width="2.6" stroke-linejoin="round"/>
<path d="M696.0,172.0 C697.7,173.0 702.8,176.3 706.2,178.0 C709.7,179.7 712.5,181.2 716.5,182.0 C720.5,182.8 725.6,183.0 730.1,183.0 C734.7,183.0 739.8,182.8 743.8,182.0 C747.8,181.2 750.6,179.7 754.0,178.0 C757.5,176.3 760.9,172.0 764.3,172.0 C767.7,172.0 771.1,176.3 774.5,178.0 C777.9,179.7 780.8,181.2 784.8,182.0 C788.8,182.8 793.9,183.0 798.4,183.0 C803.0,183.0 808.1,182.8 812.1,182.0 C816.1,181.2 818.9,179.7 822.3,178.0 C825.7,176.3 829.2,172.0 832.6,172.0 C836.0,172.0 839.4,176.3 842.8,178.0 C846.2,179.7 849.1,181.2 853.1,182.0 C857.0,182.8 862.2,183.0 866.7,183.0 C871.3,183.0 876.4,182.8 880.4,182.0 C884.4,181.2 887.2,179.7 890.6,178.0 C894.0,176.3 897.4,172.0 900.9,172.0 C904.3,172.0 907.7,176.3 911.1,178.0 C914.5,179.7 917.4,181.2 921.3,182.0 C925.3,182.8 932.7,182.8 935.0,183.0" fill="none" stroke="#747474" stroke-width="2.6" stroke-linejoin="round"/>
<path d="M696.0,176.0 C698.8,177.7 708.5,183.5 713.1,186.0 C717.6,188.5 720.5,190.2 723.3,191.0 C726.2,191.8 727.9,191.0 730.1,191.0 C732.4,191.0 734.1,191.8 737.0,191.0 C739.8,190.2 742.7,188.5 747.2,186.0 C751.8,183.5 758.6,176.0 764.3,176.0 C770.0,176.0 776.8,183.5 781.4,186.0 C785.9,188.5 788.8,190.2 791.6,191.0 C794.4,191.8 796.2,191.0 798.4,191.0 C800.7,191.0 802.4,191.8 805.3,191.0 C808.1,190.2 810.9,188.5 815.5,186.0 C820.1,183.5 826.9,176.0 832.6,176.0 C838.3,176.0 845.1,183.5 849.6,186.0 C854.2,188.5 857.0,190.2 859.9,191.0 C862.7,191.8 864.4,191.0 866.7,191.0 C869.0,191.0 870.7,191.8 873.5,191.0 C876.4,190.2 879.2,188.5 883.8,186.0 C888.3,183.5 895.2,176.0 900.9,176.0 C906.5,176.0 913.4,183.5 917.9,186.0 C922.5,188.5 925.3,190.2 928.2,191.0 C931.0,191.8 933.9,191.0 935.0,191.0" fill="none" stroke="#747474" stroke-width="2.6" stroke-linejoin="round"/>
<path d="M696.0,219.6 C697.4,219.1 701.7,218.2 704.5,216.6 C707.4,215.0 710.2,212.0 713.1,210.0 C715.9,208.0 718.8,205.6 721.6,204.5 C724.5,203.4 727.3,203.6 730.1,203.6 C733.0,203.6 735.8,203.4 738.7,204.5 C741.5,205.6 744.4,208.0 747.2,210.0 C750.1,212.0 752.9,215.0 755.8,216.6 C758.6,218.2 761.4,219.6 764.3,219.6 C767.1,219.6 770.0,218.2 772.8,216.6 C775.7,215.0 778.5,212.0 781.4,210.0 C784.2,208.0 787.0,205.6 789.9,204.5 C792.7,203.4 795.6,203.6 798.4,203.6 C801.3,203.6 804.1,203.4 807.0,204.5 C809.8,205.6 812.7,208.0 815.5,210.0 C818.3,212.0 821.2,215.0 824.0,216.6 C826.9,218.2 829.7,219.6 832.6,219.6 C835.4,219.6 838.3,218.2 841.1,216.6 C844.0,215.0 846.8,212.0 849.6,210.0 C852.5,208.0 855.3,205.6 858.2,204.5 C861.0,203.4 863.9,203.6 866.7,203.6 C869.6,203.6 872.4,203.4 875.3,204.5 C878.1,205.6 880.9,208.0 883.8,210.0 C886.6,212.0 889.5,215.0 892.3,216.6 C895.2,218.2 898.0,219.6 900.9,219.6 C903.7,219.6 906.5,218.2 909.4,216.6 C912.2,215.0 915.1,212.0 917.9,210.0 C920.8,208.0 923.6,205.6 926.5,204.5 C929.3,203.4 933.6,203.8 935.0,203.6" fill="none" stroke="#747474" stroke-width="2.6" stroke-linejoin="round"/>
<path d="M696.0,224.5 C698.6,224.5 707.1,225.6 711.4,224.5 C715.6,223.4 718.5,221.4 721.6,218.0 C724.7,214.6 727.3,204.0 730.1,204.0 C733.0,204.0 735.5,214.6 738.7,218.0 C741.8,221.4 744.7,223.4 748.9,224.5 C753.2,225.6 759.2,224.5 764.3,224.5 C769.4,224.5 775.4,225.6 779.7,224.5 C783.9,223.4 786.8,221.4 789.9,218.0 C793.0,214.6 795.6,204.0 798.4,204.0 C801.3,204.0 803.8,214.6 807.0,218.0 C810.1,221.4 812.9,223.4 817.2,224.5 C821.5,225.6 827.5,224.5 832.6,224.5 C837.7,224.5 843.7,225.6 847.9,224.5 C852.2,223.4 855.0,221.4 858.2,218.0 C861.3,214.6 863.9,204.0 866.7,204.0 C869.6,204.0 872.1,214.6 875.3,218.0 C878.4,221.4 881.2,223.4 885.5,224.5 C889.8,225.6 895.7,224.5 900.9,224.5 C906.0,224.5 912.0,225.6 916.2,224.5 C920.5,223.4 923.3,221.4 926.5,218.0 C929.6,214.6 933.6,206.3 935.0,204.0" fill="none" stroke="#747474" stroke-width="2.6" stroke-linejoin="round"/>
<path d="M696.0,224.5 C698.0,225.8 704.0,229.4 708.0,232.0 C711.9,234.6 716.2,238.2 719.9,240.0 C723.6,241.8 726.7,242.8 730.1,242.8 C733.6,242.8 736.7,241.8 740.4,240.0 C744.1,238.2 748.4,234.6 752.3,232.0 C756.3,229.4 760.3,224.5 764.3,224.5 C768.3,224.5 772.3,229.4 776.2,232.0 C780.2,234.6 784.5,238.2 788.2,240.0 C791.9,241.8 795.0,242.8 798.4,242.8 C801.8,242.8 805.0,241.8 808.7,240.0 C812.4,238.2 816.6,234.6 820.6,232.0 C824.6,229.4 828.6,224.5 832.6,224.5 C836.6,224.5 840.5,229.4 844.5,232.0 C848.5,234.6 852.8,238.2 856.5,240.0 C860.2,241.8 863.3,242.8 866.7,242.8 C870.1,242.8 873.3,241.8 877.0,240.0 C880.7,238.2 884.9,234.6 888.9,232.0 C892.9,229.4 896.9,224.5 900.9,224.5 C904.8,224.5 908.8,229.4 912.8,232.0 C916.8,234.6 921.1,238.2 924.8,240.0 C928.5,241.8 933.3,242.3 935.0,242.8" fill="none" stroke="#747474" stroke-width="2.6" stroke-linejoin="round"/>
<path d="M696.0,224.5 C697.7,226.4 703.1,232.2 706.2,236.0 C709.4,239.8 711.9,244.2 714.8,247.0 C717.6,249.8 720.8,251.7 723.3,253.0 C725.9,254.3 727.9,255.0 730.1,255.0 C732.4,255.0 734.4,254.3 737.0,253.0 C739.5,251.7 742.7,249.8 745.5,247.0 C748.4,244.2 750.9,239.8 754.0,236.0 C757.2,232.2 760.9,224.5 764.3,224.5 C767.7,224.5 771.4,232.2 774.5,236.0 C777.7,239.8 780.2,244.2 783.1,247.0 C785.9,249.8 789.0,251.7 791.6,253.0 C794.2,254.3 796.2,255.0 798.4,255.0 C800.7,255.0 802.7,254.3 805.3,253.0 C807.8,251.7 810.9,249.8 813.8,247.0 C816.6,244.2 819.2,239.8 822.3,236.0 C825.5,232.2 829.2,224.5 832.6,224.5 C836.0,224.5 839.7,232.2 842.8,236.0 C845.9,239.8 848.5,244.2 851.4,247.0 C854.2,249.8 857.3,251.7 859.9,253.0 C862.4,254.3 864.4,255.0 866.7,255.0 C869.0,255.0 871.0,254.3 873.5,253.0 C876.1,251.7 879.2,249.8 882.1,247.0 C884.9,244.2 887.5,239.8 890.6,236.0 C893.7,232.2 897.4,224.5 900.9,224.5 C904.3,224.5 908.0,232.2 911.1,236.0 C914.2,239.8 916.8,244.2 919.6,247.0 C922.5,249.8 925.6,251.7 928.2,253.0 C930.7,254.3 933.9,254.7 935.0,255.0" fill="none" stroke="#747474" stroke-width="2.6" stroke-linejoin="round"/>
<path d="M696.0,255.0 C697.7,254.2 702.8,251.2 706.2,250.0 C709.7,248.8 712.5,249.2 716.5,248.0 C720.5,246.8 725.6,243.0 730.1,243.0 C734.7,243.0 739.8,246.8 743.8,248.0 C747.8,249.2 750.6,248.8 754.0,250.0 C757.5,251.2 760.9,255.0 764.3,255.0 C767.7,255.0 771.1,251.2 774.5,250.0 C777.9,248.8 780.8,249.2 784.8,248.0 C788.8,246.8 793.9,243.0 798.4,243.0 C803.0,243.0 808.1,246.8 812.1,248.0 C816.1,249.2 818.9,248.8 822.3,250.0 C825.7,251.2 829.2,255.0 832.6,255.0 C836.0,255.0 839.4,251.2 842.8,250.0 C846.2,248.8 849.1,249.2 853.1,248.0 C857.0,246.8 862.2,243.0 866.7,243.0 C871.3,243.0 876.4,246.8 880.4,248.0 C884.4,249.2 887.2,248.8 890.6,250.0 C894.0,251.2 897.4,255.0 900.9,255.0 C904.3,255.0 907.7,251.2 911.1,250.0 C914.5,248.8 917.4,249.2 921.3,248.0 C925.3,246.8 932.7,243.8 935.0,243.0" fill="none" stroke="#747474" stroke-width="2.6" stroke-linejoin="round"/>
<path d="M696.0,266.0 C697.7,265.3 702.8,261.3 706.2,262.0 C709.7,262.7 712.5,267.3 716.5,270.0 C720.5,272.7 725.6,278.0 730.1,278.0 C734.7,278.0 739.8,272.7 743.8,270.0 C747.8,267.3 750.6,262.7 754.0,262.0 C757.5,261.3 760.9,266.0 764.3,266.0 C767.7,266.0 771.1,261.3 774.5,262.0 C777.9,262.7 780.8,267.3 784.8,270.0 C788.8,272.7 793.9,278.0 798.4,278.0 C803.0,278.0 808.1,272.7 812.1,270.0 C816.1,267.3 818.9,262.7 822.3,262.0 C825.7,261.3 829.2,266.0 832.6,266.0 C836.0,266.0 839.4,261.3 842.8,262.0 C846.2,262.7 849.1,267.3 853.1,270.0 C857.0,272.7 862.2,278.0 866.7,278.0 C871.3,278.0 876.4,272.7 880.4,270.0 C884.4,267.3 887.2,262.7 890.6,262.0 C894.0,261.3 897.4,266.0 900.9,266.0 C904.3,266.0 907.7,261.3 911.1,262.0 C914.5,262.7 917.4,267.3 921.3,270.0 C925.3,272.7 932.7,276.7 935.0,278.0" fill="none" stroke="#747474" stroke-width="2.6" stroke-linejoin="round"/>
<path d="M696.0,228.0 C697.7,228.5 702.3,229.3 706.2,231.0 C710.2,232.7 715.9,236.1 719.9,238.0 C723.9,239.9 726.7,242.2 730.1,242.2 C733.6,242.2 736.4,239.9 740.4,238.0 C744.4,236.1 750.1,232.7 754.0,231.0 C758.0,229.3 760.9,228.0 764.3,228.0 C767.7,228.0 770.5,229.3 774.5,231.0 C778.5,232.7 784.2,236.1 788.2,238.0 C792.2,239.9 795.0,242.2 798.4,242.2 C801.8,242.2 804.7,239.9 808.7,238.0 C812.7,236.1 818.3,232.7 822.3,231.0 C826.3,229.3 829.2,228.0 832.6,228.0 C836.0,228.0 838.8,229.3 842.8,231.0 C846.8,232.7 852.5,236.1 856.5,238.0 C860.5,239.9 863.3,242.2 866.7,242.2 C870.1,242.2 873.0,239.9 877.0,238.0 C880.9,236.1 886.6,232.7 890.6,231.0 C894.6,229.3 897.4,228.0 900.9,228.0 C904.3,228.0 907.1,229.3 911.1,231.0 C915.1,232.7 920.8,236.1 924.8,238.0 C928.7,239.9 933.3,241.5 935.0,242.2" fill="none" stroke="#747474" stroke-width="2.6" stroke-linejoin="round"/>
<path d="M696.0,246.0 C698.3,245.0 705.1,242.3 709.7,240.0 C714.2,237.7 719.9,233.8 723.3,232.0 C726.7,230.2 727.9,229.0 730.1,229.0 C732.4,229.0 733.6,230.2 737.0,232.0 C740.4,233.8 746.1,237.7 750.6,240.0 C755.2,242.3 759.7,246.0 764.3,246.0 C768.8,246.0 773.4,242.3 777.9,240.0 C782.5,237.7 788.2,233.8 791.6,232.0 C795.0,230.2 796.2,229.0 798.4,229.0 C800.7,229.0 801.8,230.2 805.3,232.0 C808.7,233.8 814.4,237.7 818.9,240.0 C823.5,242.3 828.0,246.0 832.6,246.0 C837.1,246.0 841.7,242.3 846.2,240.0 C850.8,237.7 856.5,233.8 859.9,232.0 C863.3,230.2 864.4,229.0 866.7,229.0 C869.0,229.0 870.1,230.2 873.5,232.0 C877.0,233.8 882.6,237.7 887.2,240.0 C891.8,242.3 896.3,246.0 900.9,246.0 C905.4,246.0 910.0,242.3 914.5,240.0 C919.1,237.7 924.8,233.8 928.2,232.0 C931.6,230.2 933.9,229.5 935.0,229.0" fill="none" stroke="#747474" stroke-width="2.6" stroke-linejoin="round"/>
<path d="M696.0,249.0 C697.4,249.5 701.7,250.8 704.5,252.0 C707.4,253.2 710.2,255.7 713.1,256.0 C715.9,256.3 718.8,255.0 721.6,254.0 C724.5,253.0 727.3,250.0 730.1,250.0 C733.0,250.0 735.8,253.0 738.7,254.0 C741.5,255.0 744.4,256.3 747.2,256.0 C750.1,255.7 752.9,253.2 755.8,252.0 C758.6,250.8 761.4,249.0 764.3,249.0 C767.1,249.0 770.0,250.8 772.8,252.0 C775.7,253.2 778.5,255.7 781.4,256.0 C784.2,256.3 787.0,255.0 789.9,254.0 C792.7,253.0 795.6,250.0 798.4,250.0 C801.3,250.0 804.1,253.0 807.0,254.0 C809.8,255.0 812.7,256.3 815.5,256.0 C818.3,255.7 821.2,253.2 824.0,252.0 C826.9,250.8 829.7,249.0 832.6,249.0 C835.4,249.0 838.3,250.8 841.1,252.0 C844.0,253.2 846.8,255.7 849.6,256.0 C852.5,256.3 855.3,255.0 858.2,254.0 C861.0,253.0 863.9,250.0 866.7,250.0 C869.6,250.0 872.4,253.0 875.3,254.0 C878.1,255.0 880.9,256.3 883.8,256.0 C886.6,255.7 889.5,253.2 892.3,252.0 C895.2,250.8 898.0,249.0 900.9,249.0 C903.7,249.0 906.5,250.8 909.4,252.0 C912.2,253.2 915.1,255.7 917.9,256.0 C920.8,256.3 923.6,255.0 926.5,254.0 C929.3,253.0 933.6,250.7 935.0,250.0" fill="none" stroke="#747474" stroke-width="2.6" stroke-linejoin="round"/>
<path d="M696.0,253.0 C697.4,252.5 701.7,250.0 704.5,250.0 C707.4,250.0 710.2,251.7 713.1,253.0 C715.9,254.3 718.8,256.7 721.6,258.0 C724.5,259.3 727.3,261.0 730.1,261.0 C733.0,261.0 735.8,259.3 738.7,258.0 C741.5,256.7 744.4,254.3 747.2,253.0 C750.1,251.7 752.9,250.0 755.8,250.0 C758.6,250.0 761.4,253.0 764.3,253.0 C767.1,253.0 770.0,250.0 772.8,250.0 C775.7,250.0 778.5,251.7 781.4,253.0 C784.2,254.3 787.0,256.7 789.9,258.0 C792.7,259.3 795.6,261.0 798.4,261.0 C801.3,261.0 804.1,259.3 807.0,258.0 C809.8,256.7 812.7,254.3 815.5,253.0 C818.3,251.7 821.2,250.0 824.0,250.0 C826.9,250.0 829.7,253.0 832.6,253.0 C835.4,253.0 838.3,250.0 841.1,250.0 C844.0,250.0 846.8,251.7 849.6,253.0 C852.5,254.3 855.3,256.7 858.2,258.0 C861.0,259.3 863.9,261.0 866.7,261.0 C869.6,261.0 872.4,259.3 875.3,258.0 C878.1,256.7 880.9,254.3 883.8,253.0 C886.6,251.7 889.5,250.0 892.3,250.0 C895.2,250.0 898.0,253.0 900.9,253.0 C903.7,253.0 906.5,250.0 909.4,250.0 C912.2,250.0 915.1,251.7 917.9,253.0 C920.8,254.3 923.6,256.7 926.5,258.0 C929.3,259.3 933.6,260.5 935.0,261.0" fill="none" stroke="#747474" stroke-width="2.6" stroke-linejoin="round"/>
<path d="M696.0,267.4 C697.4,267.8 701.7,268.6 704.5,270.0 C707.4,271.4 710.2,274.3 713.1,276.0 C715.9,277.7 718.8,279.2 721.6,280.0 C724.5,280.8 727.3,281.0 730.1,281.0 C733.0,281.0 735.8,280.8 738.7,280.0 C741.5,279.2 744.4,277.7 747.2,276.0 C750.1,274.3 752.9,271.4 755.8,270.0 C758.6,268.6 761.4,267.4 764.3,267.4 C767.1,267.4 770.0,268.6 772.8,270.0 C775.7,271.4 778.5,274.3 781.4,276.0 C784.2,277.7 787.0,279.2 789.9,280.0 C792.7,280.8 795.6,281.0 798.4,281.0 C801.3,281.0 804.1,280.8 807.0,280.0 C809.8,279.2 812.7,277.7 815.5,276.0 C818.3,274.3 821.2,271.4 824.0,270.0 C826.9,268.6 829.7,267.4 832.6,267.4 C835.4,267.4 838.3,268.6 841.1,270.0 C844.0,271.4 846.8,274.3 849.6,276.0 C852.5,277.7 855.3,279.2 858.2,280.0 C861.0,280.8 863.9,281.0 866.7,281.0 C869.6,281.0 872.4,280.8 875.3,280.0 C878.1,279.2 880.9,277.7 883.8,276.0 C886.6,274.3 889.5,271.4 892.3,270.0 C895.2,268.6 898.0,267.4 900.9,267.4 C903.7,267.4 906.5,268.6 909.4,270.0 C912.2,271.4 915.1,274.3 917.9,276.0 C920.8,277.7 923.6,279.2 926.5,280.0 C929.3,280.8 933.6,280.8 935.0,281.0" fill="none" stroke="#747474" stroke-width="2.6" stroke-linejoin="round"/>
<path d="M696.0,272.0 C697.7,272.7 702.8,274.8 706.2,276.0 C709.7,277.2 712.5,279.6 716.5,279.0 C720.5,278.4 725.6,272.5 730.1,272.5 C734.7,272.5 739.8,278.4 743.8,279.0 C747.8,279.6 750.6,277.2 754.0,276.0 C757.5,274.8 760.9,272.0 764.3,272.0 C767.7,272.0 771.1,274.8 774.5,276.0 C777.9,277.2 780.8,279.6 784.8,279.0 C788.8,278.4 793.9,272.5 798.4,272.5 C803.0,272.5 808.1,278.4 812.1,279.0 C816.1,279.6 818.9,277.2 822.3,276.0 C825.7,274.8 829.2,272.0 832.6,272.0 C836.0,272.0 839.4,274.8 842.8,276.0 C846.2,277.2 849.1,279.6 853.1,279.0 C857.0,278.4 862.2,272.5 866.7,272.5 C871.3,272.5 876.4,278.4 880.4,279.0 C884.4,279.6 887.2,277.2 890.6,276.0 C894.0,274.8 897.4,272.0 900.9,272.0 C904.3,272.0 907.7,274.8 911.1,276.0 C914.5,277.2 917.4,279.6 921.3,279.0 C925.3,278.4 932.7,273.6 935.0,272.5" fill="none" stroke="#747474" stroke-width="2.6" stroke-linejoin="round"/>
<path d="M696.0,278.0 C698.8,278.8 707.4,283.5 713.1,283.0 C718.8,282.5 724.5,275.0 730.1,275.0 C735.8,275.0 741.5,282.5 747.2,283.0 C752.9,283.5 758.6,278.0 764.3,278.0 C770.0,278.0 775.7,283.5 781.4,283.0 C787.0,282.5 792.7,275.0 798.4,275.0 C804.1,275.0 809.8,282.5 815.5,283.0 C821.2,283.5 826.9,278.0 832.6,278.0 C838.3,278.0 844.0,283.5 849.6,283.0 C855.3,282.5 861.0,275.0 866.7,275.0 C872.4,275.0 878.1,282.5 883.8,283.0 C889.5,283.5 895.2,278.0 900.9,278.0 C906.5,278.0 912.2,283.5 917.9,283.0 C923.6,282.5 932.2,276.3 935.0,275.0" fill="none" stroke="#747474" stroke-width="2.6" stroke-linejoin="round"/>
<path d="M696.0,285.0 C698.8,284.2 707.4,279.7 713.1,280.0 C718.8,280.3 724.5,287.0 730.1,287.0 C735.8,287.0 741.5,280.3 747.2,280.0 C752.9,279.7 758.6,285.0 764.3,285.0 C770.0,285.0 775.7,279.7 781.4,280.0 C787.0,280.3 792.7,287.0 798.4,287.0 C804.1,287.0 809.8,280.3 815.5,280.0 C821.2,279.7 826.9,285.0 832.6,285.0 C838.3,285.0 844.0,279.7 849.6,280.0 C855.3,280.3 861.0,287.0 866.7,287.0 C872.4,287.0 878.1,280.3 883.8,280.0 C889.5,279.7 895.2,285.0 900.9,285.0 C906.5,285.0 912.2,279.7 917.9,280.0 C923.6,280.3 932.2,285.8 935.0,287.0" fill="none" stroke="#747474" stroke-width="2.6" stroke-linejoin="round"/>
<path d="M696.0,294.0 C697.4,293.8 701.7,293.3 704.5,292.5 C707.4,291.7 710.2,290.2 713.1,289.0 C715.9,287.8 718.8,286.3 721.6,285.5 C724.5,284.7 727.3,284.0 730.1,284.0 C733.0,284.0 735.8,284.7 738.7,285.5 C741.5,286.3 744.4,287.8 747.2,289.0 C750.1,290.2 752.9,291.7 755.8,292.5 C758.6,293.3 761.4,294.0 764.3,294.0 C767.1,294.0 770.0,293.3 772.8,292.5 C775.7,291.7 778.5,290.2 781.4,289.0 C784.2,287.8 787.0,286.3 789.9,285.5 C792.7,284.7 795.6,284.0 798.4,284.0 C801.3,284.0 804.1,284.7 807.0,285.5 C809.8,286.3 812.7,287.8 815.5,289.0 C818.3,290.2 821.2,291.7 824.0,292.5 C826.9,293.3 829.7,294.0 832.6,294.0 C835.4,294.0 838.3,293.3 841.1,292.5 C844.0,291.7 846.8,290.2 849.6,289.0 C852.5,287.8 855.3,286.3 858.2,285.5 C861.0,284.7 863.9,284.0 866.7,284.0 C869.6,284.0 872.4,284.7 875.3,285.5 C878.1,286.3 880.9,287.8 883.8,289.0 C886.6,290.2 889.5,291.7 892.3,292.5 C895.2,293.3 898.0,294.0 900.9,294.0 C903.7,294.0 906.5,293.3 909.4,292.5 C912.2,291.7 915.1,290.2 917.9,289.0 C920.8,287.8 923.6,286.3 926.5,285.5 C929.3,284.7 933.6,284.2 935.0,284.0" fill="none" stroke="#747474" stroke-width="2.6" stroke-linejoin="round"/>
<path d="M696.0,287.0 C697.4,287.8 701.7,290.3 704.5,292.0 C707.4,293.7 710.2,297.0 713.1,297.0 C715.9,297.0 718.8,293.7 721.6,292.0 C724.5,290.3 727.3,287.0 730.1,287.0 C733.0,287.0 735.8,290.3 738.7,292.0 C741.5,293.7 744.4,297.0 747.2,297.0 C750.1,297.0 752.9,293.7 755.8,292.0 C758.6,290.3 761.4,287.0 764.3,287.0 C767.1,287.0 770.0,290.3 772.8,292.0 C775.7,293.7 778.5,297.0 781.4,297.0 C784.2,297.0 787.0,293.7 789.9,292.0 C792.7,290.3 795.6,287.0 798.4,287.0 C801.3,287.0 804.1,290.3 807.0,292.0 C809.8,293.7 812.7,297.0 815.5,297.0 C818.3,297.0 821.2,293.7 824.0,292.0 C826.9,290.3 829.7,287.0 832.6,287.0 C835.4,287.0 838.3,290.3 841.1,292.0 C844.0,293.7 846.8,297.0 849.6,297.0 C852.5,297.0 855.3,293.7 858.2,292.0 C861.0,290.3 863.9,287.0 866.7,287.0 C869.6,287.0 872.4,290.3 875.3,292.0 C878.1,293.7 880.9,297.0 883.8,297.0 C886.6,297.0 889.5,293.7 892.3,292.0 C895.2,290.3 898.0,287.0 900.9,287.0 C903.7,287.0 906.5,290.3 909.4,292.0 C912.2,293.7 915.1,297.0 917.9,297.0 C920.8,297.0 923.6,293.7 926.5,292.0 C929.3,290.3 933.6,287.8 935.0,287.0" fill="none" stroke="#747474" stroke-width="2.6" stroke-linejoin="round"/>
<path d="M696.0,292.0 C697.4,292.1 701.7,292.4 704.5,292.9 C707.4,293.4 710.2,294.3 713.1,295.0 C715.9,295.7 718.8,296.6 721.6,297.1 C724.5,297.6 727.3,298.0 730.1,298.0 C733.0,298.0 735.8,297.6 738.7,297.1 C741.5,296.6 744.4,295.7 747.2,295.0 C750.1,294.3 752.9,293.4 755.8,292.9 C758.6,292.4 761.4,292.0 764.3,292.0 C767.1,292.0 770.0,292.4 772.8,292.9 C775.7,293.4 778.5,294.3 781.4,295.0 C784.2,295.7 787.0,296.6 789.9,297.1 C792.7,297.6 795.6,298.0 798.4,298.0 C801.3,298.0 804.1,297.6 807.0,297.1 C809.8,296.6 812.7,295.7 815.5,295.0 C818.3,294.3 821.2,293.4 824.0,292.9 C826.9,292.4 829.7,292.0 832.6,292.0 C835.4,292.0 838.3,292.4 841.1,292.9 C844.0,293.4 846.8,294.3 849.6,295.0 C852.5,295.7 855.3,296.6 858.2,297.1 C861.0,297.6 863.9,298.0 866.7,298.0 C869.6,298.0 872.4,297.6 875.3,297.1 C878.1,296.6 880.9,295.7 883.8,295.0 C886.6,294.3 889.5,293.4 892.3,292.9 C895.2,292.4 898.0,292.0 900.9,292.0 C903.7,292.0 906.5,292.4 909.4,292.9 C912.2,293.4 915.1,294.3 917.9,295.0 C920.8,295.7 923.6,296.6 926.5,297.1 C929.3,297.6 933.6,297.9 935.0,298.0" fill="none" stroke="#747474" stroke-width="2.6" stroke-linejoin="round"/>
<path d="M696.0,292.0 C697.4,292.3 701.7,292.8 704.5,293.8 C707.4,294.8 710.2,296.6 713.1,298.0 C715.9,299.4 718.8,301.2 721.6,302.2 C724.5,303.2 727.3,304.0 730.1,304.0 C733.0,304.0 735.8,303.2 738.7,302.2 C741.5,301.2 744.4,299.4 747.2,298.0 C750.1,296.6 752.9,294.8 755.8,293.8 C758.6,292.8 761.4,292.0 764.3,292.0 C767.1,292.0 770.0,292.8 772.8,293.8 C775.7,294.8 778.5,296.6 781.4,298.0 C784.2,299.4 787.0,301.2 789.9,302.2 C792.7,303.2 795.6,304.0 798.4,304.0 C801.3,304.0 804.1,303.2 807.0,302.2 C809.8,301.2 812.7,299.4 815.5,298.0 C818.3,296.6 821.2,294.8 824.0,293.8 C826.9,292.8 829.7,292.0 832.6,292.0 C835.4,292.0 838.3,292.8 841.1,293.8 C844.0,294.8 846.8,296.6 849.6,298.0 C852.5,299.4 855.3,301.2 858.2,302.2 C861.0,303.2 863.9,304.0 866.7,304.0 C869.6,304.0 872.4,303.2 875.3,302.2 C878.1,301.2 880.9,299.4 883.8,298.0 C886.6,296.6 889.5,294.8 892.3,293.8 C895.2,292.8 898.0,292.0 900.9,292.0 C903.7,292.0 906.5,292.8 909.4,293.8 C912.2,294.8 915.1,296.6 917.9,298.0 C920.8,299.4 923.6,301.2 926.5,302.2 C929.3,303.2 933.6,303.7 935.0,304.0" fill="none" stroke="#747474" stroke-width="2.6" stroke-linejoin="round"/>
<path d="M696.0,305.0 C697.4,304.3 701.7,302.3 704.5,301.0 C707.4,299.7 710.2,297.0 713.1,297.0 C715.9,297.0 718.8,299.7 721.6,301.0 C724.5,302.3 727.3,305.0 730.1,305.0 C733.0,305.0 735.8,302.3 738.7,301.0 C741.5,299.7 744.4,297.0 747.2,297.0 C750.1,297.0 752.9,299.7 755.8,301.0 C758.6,302.3 761.4,305.0 764.3,305.0 C767.1,305.0 770.0,302.3 772.8,301.0 C775.7,299.7 778.5,297.0 781.4,297.0 C784.2,297.0 787.0,299.7 789.9,301.0 C792.7,302.3 795.6,305.0 798.4,305.0 C801.3,305.0 804.1,302.3 807.0,301.0 C809.8,299.7 812.7,297.0 815.5,297.0 C818.3,297.0 821.2,299.7 824.0,301.0 C826.9,302.3 829.7,305.0 832.6,305.0 C835.4,305.0 838.3,302.3 841.1,301.0 C844.0,299.7 846.8,297.0 849.6,297.0 C852.5,297.0 855.3,299.7 858.2,301.0 C861.0,302.3 863.9,305.0 866.7,305.0 C869.6,305.0 872.4,302.3 875.3,301.0 C878.1,299.7 880.9,297.0 883.8,297.0 C886.6,297.0 889.5,299.7 892.3,301.0 C895.2,302.3 898.0,305.0 900.9,305.0 C903.7,305.0 906.5,302.3 909.4,301.0 C912.2,299.7 915.1,297.0 917.9,297.0 C920.8,297.0 923.6,299.7 926.5,301.0 C929.3,302.3 933.6,304.3 935.0,305.0" fill="none" stroke="#747474" stroke-width="2.6" stroke-linejoin="round"/>
<path d="M696.0,308.0 C697.4,307.8 701.7,307.5 704.5,306.8 C707.4,306.1 710.2,304.9 713.1,304.0 C715.9,303.1 718.8,301.9 721.6,301.2 C724.5,300.5 727.3,300.0 730.1,300.0 C733.0,300.0 735.8,300.5 738.7,301.2 C741.5,301.9 744.4,303.1 747.2,304.0 C750.1,304.9 752.9,306.1 755.8,306.8 C758.6,307.5 761.4,308.0 764.3,308.0 C767.1,308.0 770.0,307.5 772.8,306.8 C775.7,306.1 778.5,304.9 781.4,304.0 C784.2,303.1 787.0,301.9 789.9,301.2 C792.7,300.5 795.6,300.0 798.4,300.0 C801.3,300.0 804.1,300.5 807.0,301.2 C809.8,301.9 812.7,303.1 815.5,304.0 C818.3,304.9 821.2,306.1 824.0,306.8 C826.9,307.5 829.7,308.0 832.6,308.0 C835.4,308.0 838.3,307.5 841.1,306.8 C844.0,306.1 846.8,304.9 849.6,304.0 C852.5,303.1 855.3,301.9 858.2,301.2 C861.0,300.5 863.9,300.0 866.7,300.0 C869.6,300.0 872.4,300.5 875.3,301.2 C878.1,301.9 880.9,303.1 883.8,304.0 C886.6,304.9 889.5,306.1 892.3,306.8 C895.2,307.5 898.0,308.0 900.9,308.0 C903.7,308.0 906.5,307.5 909.4,306.8 C912.2,306.1 915.1,304.9 917.9,304.0 C920.8,303.1 923.6,301.9 926.5,301.2 C929.3,300.5 933.6,300.2 935.0,300.0" fill="none" stroke="#747474" stroke-width="2.6" stroke-linejoin="round"/>
<path d="M696.0,313.0 C697.4,312.7 701.7,312.2 704.5,311.2 C707.4,310.2 710.2,308.4 713.1,307.0 C715.9,305.6 718.8,303.8 721.6,302.8 C724.5,301.8 727.3,301.0 730.1,301.0 C733.0,301.0 735.8,301.8 738.7,302.8 C741.5,303.8 744.4,305.6 747.2,307.0 C750.1,308.4 752.9,310.2 755.8,311.2 C758.6,312.2 761.4,313.0 764.3,313.0 C767.1,313.0 770.0,312.2 772.8,311.2 C775.7,310.2 778.5,308.4 781.4,307.0 C784.2,305.6 787.0,303.8 789.9,302.8 C792.7,301.8 795.6,301.0 798.4,301.0 C801.3,301.0 804.1,301.8 807.0,302.8 C809.8,303.8 812.7,305.6 815.5,307.0 C818.3,308.4 821.2,310.2 824.0,311.2 C826.9,312.2 829.7,313.0 832.6,313.0 C835.4,313.0 838.3,312.2 841.1,311.2 C844.0,310.2 846.8,308.4 849.6,307.0 C852.5,305.6 855.3,303.8 858.2,302.8 C861.0,301.8 863.9,301.0 866.7,301.0 C869.6,301.0 872.4,301.8 875.3,302.8 C878.1,303.8 880.9,305.6 883.8,307.0 C886.6,308.4 889.5,310.2 892.3,311.2 C895.2,312.2 898.0,313.0 900.9,313.0 C903.7,313.0 906.5,312.2 909.4,311.2 C912.2,310.2 915.1,308.4 917.9,307.0 C920.8,305.6 923.6,303.8 926.5,302.8 C929.3,301.8 933.6,301.3 935.0,301.0" fill="none" stroke="#747474" stroke-width="2.6" stroke-linejoin="round"/>
<path d="M696.0,306.0 C697.4,306.8 701.7,309.3 704.5,311.0 C707.4,312.7 710.2,316.0 713.1,316.0 C715.9,316.0 718.8,312.7 721.6,311.0 C724.5,309.3 727.3,306.0 730.1,306.0 C733.0,306.0 735.8,309.3 738.7,311.0 C741.5,312.7 744.4,316.0 747.2,316.0 C750.1,316.0 752.9,312.7 755.8,311.0 C758.6,309.3 761.4,306.0 764.3,306.0 C767.1,306.0 770.0,309.3 772.8,311.0 C775.7,312.7 778.5,316.0 781.4,316.0 C784.2,316.0 787.0,312.7 789.9,311.0 C792.7,309.3 795.6,306.0 798.4,306.0 C801.3,306.0 804.1,309.3 807.0,311.0 C809.8,312.7 812.7,316.0 815.5,316.0 C818.3,316.0 821.2,312.7 824.0,311.0 C826.9,309.3 829.7,306.0 832.6,306.0 C835.4,306.0 838.3,309.3 841.1,311.0 C844.0,312.7 846.8,316.0 849.6,316.0 C852.5,316.0 855.3,312.7 858.2,311.0 C861.0,309.3 863.9,306.0 866.7,306.0 C869.6,306.0 872.4,309.3 875.3,311.0 C878.1,312.7 880.9,316.0 883.8,316.0 C886.6,316.0 889.5,312.7 892.3,311.0 C895.2,309.3 898.0,306.0 900.9,306.0 C903.7,306.0 906.5,309.3 909.4,311.0 C912.2,312.7 915.1,316.0 917.9,316.0 C920.8,316.0 923.6,312.7 926.5,311.0 C929.3,309.3 933.6,306.8 935.0,306.0" fill="none" stroke="#747474" stroke-width="2.6" stroke-linejoin="round"/>
<path d="M696.0,311.0 C697.4,311.2 701.7,311.5 704.5,312.2 C707.4,312.9 710.2,314.1 713.1,315.0 C715.9,315.9 718.8,317.1 721.6,317.8 C724.5,318.5 727.3,319.0 730.1,319.0 C733.0,319.0 735.8,318.5 738.7,317.8 C741.5,317.1 744.4,315.9 747.2,315.0 C750.1,314.1 752.9,312.9 755.8,312.2 C758.6,311.5 761.4,311.0 764.3,311.0 C767.1,311.0 770.0,311.5 772.8,312.2 C775.7,312.9 778.5,314.1 781.4,315.0 C784.2,315.9 787.0,317.1 789.9,317.8 C792.7,318.5 795.6,319.0 798.4,319.0 C801.3,319.0 804.1,318.5 807.0,317.8 C809.8,317.1 812.7,315.9 815.5,315.0 C818.3,314.1 821.2,312.9 824.0,312.2 C826.9,311.5 829.7,311.0 832.6,311.0 C835.4,311.0 838.3,311.5 841.1,312.2 C844.0,312.9 846.8,314.1 849.6,315.0 C852.5,315.9 855.3,317.1 858.2,317.8 C861.0,318.5 863.9,319.0 866.7,319.0 C869.6,319.0 872.4,318.5 875.3,317.8 C878.1,317.1 880.9,315.9 883.8,315.0 C886.6,314.1 889.5,312.9 892.3,312.2 C895.2,311.5 898.0,311.0 900.9,311.0 C903.7,311.0 906.5,311.5 909.4,312.2 C912.2,312.9 915.1,314.1 917.9,315.0 C920.8,315.9 923.6,317.1 926.5,317.8 C929.3,318.5 933.6,318.8 935.0,319.0" fill="none" stroke="#747474" stroke-width="2.6" stroke-linejoin="round"/>
<path d="M696.0,316.0 C697.4,316.1 701.7,316.4 704.5,316.9 C707.4,317.4 710.2,318.3 713.1,319.0 C715.9,319.7 718.8,320.6 721.6,321.1 C724.5,321.6 727.3,322.0 730.1,322.0 C733.0,322.0 735.8,321.6 738.7,321.1 C741.5,320.6 744.4,319.7 747.2,319.0 C750.1,318.3 752.9,317.4 755.8,316.9 C758.6,316.4 761.4,316.0 764.3,316.0 C767.1,316.0 770.0,316.4 772.8,316.9 C775.7,317.4 778.5,318.3 781.4,319.0 C784.2,319.7 787.0,320.6 789.9,321.1 C792.7,321.6 795.6,322.0 798.4,322.0 C801.3,322.0 804.1,321.6 807.0,321.1 C809.8,320.6 812.7,319.7 815.5,319.0 C818.3,318.3 821.2,317.4 824.0,316.9 C826.9,316.4 829.7,316.0 832.6,316.0 C835.4,316.0 838.3,316.4 841.1,316.9 C844.0,317.4 846.8,318.3 849.6,319.0 C852.5,319.7 855.3,320.6 858.2,321.1 C861.0,321.6 863.9,322.0 866.7,322.0 C869.6,322.0 872.4,321.6 875.3,321.1 C878.1,320.6 880.9,319.7 883.8,319.0 C886.6,318.3 889.5,317.4 892.3,316.9 C895.2,316.4 898.0,316.0 900.9,316.0 C903.7,316.0 906.5,316.4 909.4,316.9 C912.2,317.4 915.1,318.3 917.9,319.0 C920.8,319.7 923.6,320.6 926.5,321.1 C929.3,321.6 933.6,321.9 935.0,322.0" fill="none" stroke="#747474" stroke-width="2.6" stroke-linejoin="round"/>
<path d="M696.0,327.0 C697.4,326.2 701.7,323.7 704.5,322.0 C707.4,320.3 710.2,317.0 713.1,317.0 C715.9,317.0 718.8,320.3 721.6,322.0 C724.5,323.7 727.3,327.0 730.1,327.0 C733.0,327.0 735.8,323.7 738.7,322.0 C741.5,320.3 744.4,317.0 747.2,317.0 C750.1,317.0 752.9,320.3 755.8,322.0 C758.6,323.7 761.4,327.0 764.3,327.0 C767.1,327.0 770.0,323.7 772.8,322.0 C775.7,320.3 778.5,317.0 781.4,317.0 C784.2,317.0 787.0,320.3 789.9,322.0 C792.7,323.7 795.6,327.0 798.4,327.0 C801.3,327.0 804.1,323.7 807.0,322.0 C809.8,320.3 812.7,317.0 815.5,317.0 C818.3,317.0 821.2,320.3 824.0,322.0 C826.9,323.7 829.7,327.0 832.6,327.0 C835.4,327.0 838.3,323.7 841.1,322.0 C844.0,320.3 846.8,317.0 849.6,317.0 C852.5,317.0 855.3,320.3 858.2,322.0 C861.0,323.7 863.9,327.0 866.7,327.0 C869.6,327.0 872.4,323.7 875.3,322.0 C878.1,320.3 880.9,317.0 883.8,317.0 C886.6,317.0 889.5,320.3 892.3,322.0 C895.2,323.7 898.0,327.0 900.9,327.0 C903.7,327.0 906.5,323.7 909.4,322.0 C912.2,320.3 915.1,317.0 917.9,317.0 C920.8,317.0 923.6,320.3 926.5,322.0 C929.3,323.7 933.6,326.2 935.0,327.0" fill="none" stroke="#747474" stroke-width="2.6" stroke-linejoin="round"/>
<path d="M696.0,331.0 C697.4,330.7 701.7,330.2 704.5,329.2 C707.4,328.2 710.2,326.4 713.1,325.0 C715.9,323.6 718.8,321.8 721.6,320.8 C724.5,319.8 727.3,319.0 730.1,319.0 C733.0,319.0 735.8,319.8 738.7,320.8 C741.5,321.8 744.4,323.6 747.2,325.0 C750.1,326.4 752.9,328.2 755.8,329.2 C758.6,330.2 761.4,331.0 764.3,331.0 C767.1,331.0 770.0,330.2 772.8,329.2 C775.7,328.2 778.5,326.4 781.4,325.0 C784.2,323.6 787.0,321.8 789.9,320.8 C792.7,319.8 795.6,319.0 798.4,319.0 C801.3,319.0 804.1,319.8 807.0,320.8 C809.8,321.8 812.7,323.6 815.5,325.0 C818.3,326.4 821.2,328.2 824.0,329.2 C826.9,330.2 829.7,331.0 832.6,331.0 C835.4,331.0 838.3,330.2 841.1,329.2 C844.0,328.2 846.8,326.4 849.6,325.0 C852.5,323.6 855.3,321.8 858.2,320.8 C861.0,319.8 863.9,319.0 866.7,319.0 C869.6,319.0 872.4,319.8 875.3,320.8 C878.1,321.8 880.9,323.6 883.8,325.0 C886.6,326.4 889.5,328.2 892.3,329.2 C895.2,330.2 898.0,331.0 900.9,331.0 C903.7,331.0 906.5,330.2 909.4,329.2 C912.2,328.2 915.1,326.4 917.9,325.0 C920.8,323.6 923.6,321.8 926.5,320.8 C929.3,319.8 933.6,319.3 935.0,319.0" fill="none" stroke="#747474" stroke-width="2.6" stroke-linejoin="round"/>
<path d="M696.0,332.0 C697.4,331.8 701.7,331.5 704.5,330.8 C707.4,330.1 710.2,328.9 713.1,328.0 C715.9,327.1 718.8,325.9 721.6,325.2 C724.5,324.5 727.3,324.0 730.1,324.0 C733.0,324.0 735.8,324.5 738.7,325.2 C741.5,325.9 744.4,327.1 747.2,328.0 C750.1,328.9 752.9,330.1 755.8,330.8 C758.6,331.5 761.4,332.0 764.3,332.0 C767.1,332.0 770.0,331.5 772.8,330.8 C775.7,330.1 778.5,328.9 781.4,328.0 C784.2,327.1 787.0,325.9 789.9,325.2 C792.7,324.5 795.6,324.0 798.4,324.0 C801.3,324.0 804.1,324.5 807.0,325.2 C809.8,325.9 812.7,327.1 815.5,328.0 C818.3,328.9 821.2,330.1 824.0,330.8 C826.9,331.5 829.7,332.0 832.6,332.0 C835.4,332.0 838.3,331.5 841.1,330.8 C844.0,330.1 846.8,328.9 849.6,328.0 C852.5,327.1 855.3,325.9 858.2,325.2 C861.0,324.5 863.9,324.0 866.7,324.0 C869.6,324.0 872.4,324.5 875.3,325.2 C878.1,325.9 880.9,327.1 883.8,328.0 C886.6,328.9 889.5,330.1 892.3,330.8 C895.2,331.5 898.0,332.0 900.9,332.0 C903.7,332.0 906.5,331.5 909.4,330.8 C912.2,330.1 915.1,328.9 917.9,328.0 C920.8,327.1 923.6,325.9 926.5,325.2 C929.3,324.5 933.6,324.2 935.0,324.0" fill="none" stroke="#747474" stroke-width="2.6" stroke-linejoin="round"/>
<path d="M696.0,327.0 C697.4,327.7 701.7,329.7 704.5,331.0 C707.4,332.3 710.2,335.0 713.1,335.0 C715.9,335.0 718.8,332.3 721.6,331.0 C724.5,329.7 727.3,327.0 730.1,327.0 C733.0,327.0 735.8,329.7 738.7,331.0 C741.5,332.3 744.4,335.0 747.2,335.0 C750.1,335.0 752.9,332.3 755.8,331.0 C758.6,329.7 761.4,327.0 764.3,327.0 C767.1,327.0 770.0,329.7 772.8,331.0 C775.7,332.3 778.5,335.0 781.4,335.0 C784.2,335.0 787.0,332.3 789.9,331.0 C792.7,329.7 795.6,327.0 798.4,327.0 C801.3,327.0 804.1,329.7 807.0,331.0 C809.8,332.3 812.7,335.0 815.5,335.0 C818.3,335.0 821.2,332.3 824.0,331.0 C826.9,329.7 829.7,327.0 832.6,327.0 C835.4,327.0 838.3,329.7 841.1,331.0 C844.0,332.3 846.8,335.0 849.6,335.0 C852.5,335.0 855.3,332.3 858.2,331.0 C861.0,329.7 863.9,327.0 866.7,327.0 C869.6,327.0 872.4,329.7 875.3,331.0 C878.1,332.3 880.9,335.0 883.8,335.0 C886.6,335.0 889.5,332.3 892.3,331.0 C895.2,329.7 898.0,327.0 900.9,327.0 C903.7,327.0 906.5,329.7 909.4,331.0 C912.2,332.3 915.1,335.0 917.9,335.0 C920.8,335.0 923.6,332.3 926.5,331.0 C929.3,329.7 933.6,327.7 935.0,327.0" fill="none" stroke="#747474" stroke-width="2.6" stroke-linejoin="round"/>
<path d="M696.0,330.0 C697.0,329.6 699.8,329.1 701.7,327.7 C703.6,326.3 705.5,323.9 707.4,321.5 C709.3,319.1 711.2,315.8 713.1,313.0 C715.0,310.2 716.9,306.9 718.8,304.5 C720.7,302.1 722.5,299.7 724.4,298.3 C726.3,296.9 728.2,296.0 730.1,296.0 C732.0,296.0 733.9,296.9 735.8,298.3 C737.7,299.7 739.6,302.1 741.5,304.5 C743.4,306.9 745.3,310.2 747.2,313.0 C749.1,315.8 751.0,319.1 752.9,321.5 C754.8,323.9 756.7,326.3 758.6,327.7 C760.5,329.1 762.4,330.0 764.3,330.0 C766.2,330.0 768.1,329.1 770.0,327.7 C771.9,326.3 773.8,323.9 775.7,321.5 C777.6,319.1 779.5,315.8 781.4,313.0 C783.3,310.2 785.2,306.9 787.1,304.5 C789.0,302.1 790.8,299.7 792.7,298.3 C794.6,296.9 796.5,296.0 798.4,296.0 C800.3,296.0 802.2,296.9 804.1,298.3 C806.0,299.7 807.9,302.1 809.8,304.5 C811.7,306.9 813.6,310.2 815.5,313.0 C817.4,315.8 819.3,319.1 821.2,321.5 C823.1,323.9 825.0,326.3 826.9,327.7 C828.8,329.1 830.7,330.0 832.6,330.0 C834.5,330.0 836.4,329.1 838.3,327.7 C840.2,326.3 842.0,323.9 843.9,321.5 C845.8,319.1 847.7,315.8 849.6,313.0 C851.5,310.2 853.4,306.9 855.3,304.5 C857.2,302.1 859.1,299.7 861.0,298.3 C862.9,296.9 864.8,296.0 866.7,296.0 C868.6,296.0 870.5,296.9 872.4,298.3 C874.3,299.7 876.2,302.1 878.1,304.5 C880.0,306.9 881.9,310.2 883.8,313.0 C885.7,315.8 887.6,319.1 889.5,321.5 C891.4,323.9 893.3,326.3 895.2,327.7 C897.1,329.1 899.0,330.0 900.9,330.0 C902.8,330.0 904.7,329.1 906.6,327.7 C908.5,326.3 910.3,323.9 912.2,321.5 C914.1,319.1 916.0,315.8 917.9,313.0 C919.8,310.2 921.7,306.9 923.6,304.5 C925.5,302.1 927.4,299.7 929.3,298.3 C931.2,296.9 934.0,296.4 935.0,296.0" fill="none" stroke="#747474" stroke-width="2.6" stroke-linejoin="round"/>
<path d="M696.0,334.0 C697.0,333.6 699.8,333.1 701.7,331.7 C703.6,330.3 705.5,327.9 707.4,325.5 C709.3,323.1 711.2,319.8 713.1,317.0 C715.0,314.2 716.9,310.9 718.8,308.5 C720.7,306.1 722.5,303.7 724.4,302.3 C726.3,300.9 728.2,300.0 730.1,300.0 C732.0,300.0 733.9,300.9 735.8,302.3 C737.7,303.7 739.6,306.1 741.5,308.5 C743.4,310.9 745.3,314.2 747.2,317.0 C749.1,319.8 751.0,323.1 752.9,325.5 C754.8,327.9 756.7,330.3 758.6,331.7 C760.5,333.1 762.4,334.0 764.3,334.0 C766.2,334.0 768.1,333.1 770.0,331.7 C771.9,330.3 773.8,327.9 775.7,325.5 C777.6,323.1 779.5,319.8 781.4,317.0 C783.3,314.2 785.2,310.9 787.1,308.5 C789.0,306.1 790.8,303.7 792.7,302.3 C794.6,300.9 796.5,300.0 798.4,300.0 C800.3,300.0 802.2,300.9 804.1,302.3 C806.0,303.7 807.9,306.1 809.8,308.5 C811.7,310.9 813.6,314.2 815.5,317.0 C817.4,319.8 819.3,323.1 821.2,325.5 C823.1,327.9 825.0,330.3 826.9,331.7 C828.8,333.1 830.7,334.0 832.6,334.0 C834.5,334.0 836.4,333.1 838.3,331.7 C840.2,330.3 842.0,327.9 843.9,325.5 C845.8,323.1 847.7,319.8 849.6,317.0 C851.5,314.2 853.4,310.9 855.3,308.5 C857.2,306.1 859.1,303.7 861.0,302.3 C862.9,300.9 864.8,300.0 866.7,300.0 C868.6,300.0 870.5,300.9 872.4,302.3 C874.3,303.7 876.2,306.1 878.1,308.5 C880.0,310.9 881.9,314.2 883.8,317.0 C885.7,319.8 887.6,323.1 889.5,325.5 C891.4,327.9 893.3,330.3 895.2,331.7 C897.1,333.1 899.0,334.0 900.9,334.0 C902.8,334.0 904.7,333.1 906.6,331.7 C908.5,330.3 910.3,327.9 912.2,325.5 C914.1,323.1 916.0,319.8 917.9,317.0 C919.8,314.2 921.7,310.9 923.6,308.5 C925.5,306.1 927.4,303.7 929.3,302.3 C931.2,300.9 934.0,300.4 935.0,300.0" fill="none" stroke="#747474" stroke-width="2.6" stroke-linejoin="round"/>
<path d="M696.0,296.0 C697.0,296.4 699.8,296.9 701.7,298.3 C703.6,299.7 705.5,302.1 707.4,304.5 C709.3,306.9 711.2,310.2 713.1,313.0 C715.0,315.8 716.9,319.1 718.8,321.5 C720.7,323.9 722.5,326.3 724.4,327.7 C726.3,329.1 728.2,330.0 730.1,330.0 C732.0,330.0 733.9,329.1 735.8,327.7 C737.7,326.3 739.6,323.9 741.5,321.5 C743.4,319.1 745.3,315.8 747.2,313.0 C749.1,310.2 751.0,306.9 752.9,304.5 C754.8,302.1 756.7,299.7 758.6,298.3 C760.5,296.9 762.4,296.0 764.3,296.0 C766.2,296.0 768.1,296.9 770.0,298.3 C771.9,299.7 773.8,302.1 775.7,304.5 C777.6,306.9 779.5,310.2 781.4,313.0 C783.3,315.8 785.2,319.1 787.1,321.5 C789.0,323.9 790.8,326.3 792.7,327.7 C794.6,329.1 796.5,330.0 798.4,330.0 C800.3,330.0 802.2,329.1 804.1,327.7 C806.0,326.3 807.9,323.9 809.8,321.5 C811.7,319.1 813.6,315.8 815.5,313.0 C817.4,310.2 819.3,306.9 821.2,304.5 C823.1,302.1 825.0,299.7 826.9,298.3 C828.8,296.9 830.7,296.0 832.6,296.0 C834.5,296.0 836.4,296.9 838.3,298.3 C840.2,299.7 842.0,302.1 843.9,304.5 C845.8,306.9 847.7,310.2 849.6,313.0 C851.5,315.8 853.4,319.1 855.3,321.5 C857.2,323.9 859.1,326.3 861.0,327.7 C862.9,329.1 864.8,330.0 866.7,330.0 C868.6,330.0 870.5,329.1 872.4,327.7 C874.3,326.3 876.2,323.9 878.1,321.5 C880.0,319.1 881.9,315.8 883.8,313.0 C885.7,310.2 887.6,306.9 889.5,304.5 C891.4,302.1 893.3,299.7 895.2,298.3 C897.1,296.9 899.0,296.0 900.9,296.0 C902.8,296.0 904.7,296.9 906.6,298.3 C908.5,299.7 910.3,302.1 912.2,304.5 C914.1,306.9 916.0,310.2 917.9,313.0 C919.8,315.8 921.7,319.1 923.6,321.5 C925.5,323.9 927.4,326.3 929.3,327.7 C931.2,329.1 934.0,329.6 935.0,330.0" fill="none" stroke="#747474" stroke-width="2.6" stroke-linejoin="round"/>
<path d="M696.0,300.0 C697.0,300.4 699.8,300.9 701.7,302.3 C703.6,303.7 705.5,306.1 707.4,308.5 C709.3,310.9 711.2,314.2 713.1,317.0 C715.0,319.8 716.9,323.1 718.8,325.5 C720.7,327.9 722.5,330.3 724.4,331.7 C726.3,333.1 728.2,334.0 730.1,334.0 C732.0,334.0 733.9,333.1 735.8,331.7 C737.7,330.3 739.6,327.9 741.5,325.5 C743.4,323.1 745.3,319.8 747.2,317.0 C749.1,314.2 751.0,310.9 752.9,308.5 C754.8,306.1 756.7,303.7 758.6,302.3 C760.5,300.9 762.4,300.0 764.3,300.0 C766.2,300.0 768.1,300.9 770.0,302.3 C771.9,303.7 773.8,306.1 775.7,308.5 C777.6,310.9 779.5,314.2 781.4,317.0 C783.3,319.8 785.2,323.1 787.1,325.5 C789.0,327.9 790.8,330.3 792.7,331.7 C794.6,333.1 796.5,334.0 798.4,334.0 C800.3,334.0 802.2,333.1 804.1,331.7 C806.0,330.3 807.9,327.9 809.8,325.5 C811.7,323.1 813.6,319.8 815.5,317.0 C817.4,314.2 819.3,310.9 821.2,308.5 C823.1,306.1 825.0,303.7 826.9,302.3 C828.8,300.9 830.7,300.0 832.6,300.0 C834.5,300.0 836.4,300.9 838.3,302.3 C840.2,303.7 842.0,306.1 843.9,308.5 C845.8,310.9 847.7,314.2 849.6,317.0 C851.5,319.8 853.4,323.1 855.3,325.5 C857.2,327.9 859.1,330.3 861.0,331.7 C862.9,333.1 864.8,334.0 866.7,334.0 C868.6,334.0 870.5,333.1 872.4,331.7 C874.3,330.3 876.2,327.9 878.1,325.5 C880.0,323.1 881.9,319.8 883.8,317.0 C885.7,314.2 887.6,310.9 889.5,308.5 C891.4,306.1 893.3,303.7 895.2,302.3 C897.1,300.9 899.0,300.0 900.9,300.0 C902.8,300.0 904.7,300.9 906.6,302.3 C908.5,303.7 910.3,306.1 912.2,308.5 C914.1,310.9 916.0,314.2 917.9,317.0 C919.8,319.8 921.7,323.1 923.6,325.5 C925.5,327.9 927.4,330.3 929.3,331.7 C931.2,333.1 934.0,333.6 935.0,334.0" fill="none" stroke="#747474" stroke-width="2.6" stroke-linejoin="round"/>
<path d="M696.0,312.0 C697.0,311.8 699.8,311.4 701.7,310.5 C703.6,309.6 705.5,308.1 707.4,306.5 C709.3,304.9 711.2,302.8 713.1,301.0 C715.0,299.2 716.9,297.1 718.8,295.5 C720.7,293.9 722.5,292.4 724.4,291.5 C726.3,290.6 728.2,290.0 730.1,290.0 C732.0,290.0 733.9,290.6 735.8,291.5 C737.7,292.4 739.6,293.9 741.5,295.5 C743.4,297.1 745.3,299.2 747.2,301.0 C749.1,302.8 751.0,304.9 752.9,306.5 C754.8,308.1 756.7,309.6 758.6,310.5 C760.5,311.4 762.4,312.0 764.3,312.0 C766.2,312.0 768.1,311.4 770.0,310.5 C771.9,309.6 773.8,308.1 775.7,306.5 C777.6,304.9 779.5,302.8 781.4,301.0 C783.3,299.2 785.2,297.1 787.1,295.5 C789.0,293.9 790.8,292.4 792.7,291.5 C794.6,290.6 796.5,290.0 798.4,290.0 C800.3,290.0 802.2,290.6 804.1,291.5 C806.0,292.4 807.9,293.9 809.8,295.5 C811.7,297.1 813.6,299.2 815.5,301.0 C817.4,302.8 819.3,304.9 821.2,306.5 C823.1,308.1 825.0,309.6 826.9,310.5 C828.8,311.4 830.7,312.0 832.6,312.0 C834.5,312.0 836.4,311.4 838.3,310.5 C840.2,309.6 842.0,308.1 843.9,306.5 C845.8,304.9 847.7,302.8 849.6,301.0 C851.5,299.2 853.4,297.1 855.3,295.5 C857.2,293.9 859.1,292.4 861.0,291.5 C862.9,290.6 864.8,290.0 866.7,290.0 C868.6,290.0 870.5,290.6 872.4,291.5 C874.3,292.4 876.2,293.9 878.1,295.5 C880.0,297.1 881.9,299.2 883.8,301.0 C885.7,302.8 887.6,304.9 889.5,306.5 C891.4,308.1 893.3,309.6 895.2,310.5 C897.1,311.4 899.0,312.0 900.9,312.0 C902.8,312.0 904.7,311.4 906.6,310.5 C908.5,309.6 910.3,308.1 912.2,306.5 C914.1,304.9 916.0,302.8 917.9,301.0 C919.8,299.2 921.7,297.1 923.6,295.5 C925.5,293.9 927.4,292.4 929.3,291.5 C931.2,290.6 934.0,290.2 935.0,290.0" fill="none" stroke="#747474" stroke-width="2.6" stroke-linejoin="round"/>
<path d="M696.0,290.0 C697.0,290.3 699.8,290.6 701.7,291.7 C703.6,292.8 705.5,294.6 707.4,296.5 C709.3,298.4 711.2,300.8 713.1,303.0 C715.0,305.2 716.9,307.6 718.8,309.5 C720.7,311.4 722.5,313.2 724.4,314.3 C726.3,315.4 728.2,316.0 730.1,316.0 C732.0,316.0 733.9,315.4 735.8,314.3 C737.7,313.2 739.6,311.4 741.5,309.5 C743.4,307.6 745.3,305.2 747.2,303.0 C749.1,300.8 751.0,298.4 752.9,296.5 C754.8,294.6 756.7,292.8 758.6,291.7 C760.5,290.6 762.4,290.0 764.3,290.0 C766.2,290.0 768.1,290.6 770.0,291.7 C771.9,292.8 773.8,294.6 775.7,296.5 C777.6,298.4 779.5,300.8 781.4,303.0 C783.3,305.2 785.2,307.6 787.1,309.5 C789.0,311.4 790.8,313.2 792.7,314.3 C794.6,315.4 796.5,316.0 798.4,316.0 C800.3,316.0 802.2,315.4 804.1,314.3 C806.0,313.2 807.9,311.4 809.8,309.5 C811.7,307.6 813.6,305.2 815.5,303.0 C817.4,300.8 819.3,298.4 821.2,296.5 C823.1,294.6 825.0,292.8 826.9,291.7 C828.8,290.6 830.7,290.0 832.6,290.0 C834.5,290.0 836.4,290.6 838.3,291.7 C840.2,292.8 842.0,294.6 843.9,296.5 C845.8,298.4 847.7,300.8 849.6,303.0 C851.5,305.2 853.4,307.6 855.3,309.5 C857.2,311.4 859.1,313.2 861.0,314.3 C862.9,315.4 864.8,316.0 866.7,316.0 C868.6,316.0 870.5,315.4 872.4,314.3 C874.3,313.2 876.2,311.4 878.1,309.5 C880.0,307.6 881.9,305.2 883.8,303.0 C885.7,300.8 887.6,298.4 889.5,296.5 C891.4,294.6 893.3,292.8 895.2,291.7 C897.1,290.6 899.0,290.0 900.9,290.0 C902.8,290.0 904.7,290.6 906.6,291.7 C908.5,292.8 910.3,294.6 912.2,296.5 C914.1,298.4 916.0,300.8 917.9,303.0 C919.8,305.2 921.7,307.6 923.6,309.5 C925.5,311.4 927.4,313.2 929.3,314.3 C931.2,315.4 934.0,315.7 935.0,316.0" fill="none" stroke="#747474" stroke-width="2.6" stroke-linejoin="round"/>
<path d="M696.0,336.0 C698.8,336.5 707.4,337.3 713.1,339.0 C718.8,340.7 724.5,346.0 730.1,346.0 C735.8,346.0 741.5,340.7 747.2,339.0 C752.9,337.3 758.6,336.0 764.3,336.0 C770.0,336.0 775.7,337.3 781.4,339.0 C787.0,340.7 792.7,346.0 798.4,346.0 C804.1,346.0 809.8,340.7 815.5,339.0 C821.2,337.3 826.9,336.0 832.6,336.0 C838.3,336.0 844.0,337.3 849.6,339.0 C855.3,340.7 861.0,346.0 866.7,346.0 C872.4,346.0 878.1,340.7 883.8,339.0 C889.5,337.3 895.2,336.0 900.9,336.0 C906.5,336.0 912.2,337.3 917.9,339.0 C923.6,340.7 932.2,344.8 935.0,346.0" fill="none" stroke="#747474" stroke-width="2.6" stroke-linejoin="round"/>
<path d="M696.0,340.0 C697.7,340.8 702.8,344.3 706.2,345.0 C709.7,345.7 712.5,343.2 716.5,344.0 C720.5,344.8 725.6,350.0 730.1,350.0 C734.7,350.0 739.8,344.8 743.8,344.0 C747.8,343.2 750.6,345.7 754.0,345.0 C757.5,344.3 760.9,340.0 764.3,340.0 C767.7,340.0 771.1,344.3 774.5,345.0 C777.9,345.7 780.8,343.2 784.8,344.0 C788.8,344.8 793.9,350.0 798.4,350.0 C803.0,350.0 808.1,344.8 812.1,344.0 C816.1,343.2 818.9,345.7 822.3,345.0 C825.7,344.3 829.2,340.0 832.6,340.0 C836.0,340.0 839.4,344.3 842.8,345.0 C846.2,345.7 849.1,343.2 853.1,344.0 C857.0,344.8 862.2,350.0 866.7,350.0 C871.3,350.0 876.4,344.8 880.4,344.0 C884.4,343.2 887.2,345.7 890.6,345.0 C894.0,344.3 897.4,340.0 900.9,340.0 C904.3,340.0 907.7,344.3 911.1,345.0 C914.5,345.7 917.4,343.2 921.3,344.0 C925.3,344.8 932.7,349.0 935.0,350.0" fill="none" stroke="#747474" stroke-width="2.6" stroke-linejoin="round"/>
<path d="M696.0,345.0 C697.1,345.7 700.8,348.8 702.8,349.0 C704.8,349.2 706.2,345.8 708.0,346.0 C709.7,346.2 711.4,349.8 713.1,350.0 C714.8,350.2 716.5,346.8 718.2,347.0 C719.9,347.2 721.3,350.8 723.3,351.0 C725.3,351.2 727.9,348.0 730.1,348.0 C732.4,348.0 735.0,351.2 737.0,351.0 C739.0,350.8 740.4,347.2 742.1,347.0 C743.8,346.8 745.5,350.2 747.2,350.0 C748.9,349.8 750.6,346.2 752.3,346.0 C754.0,345.8 755.5,349.2 757.5,349.0 C759.4,348.8 762.0,345.0 764.3,345.0 C766.6,345.0 769.1,348.8 771.1,349.0 C773.1,349.2 774.5,345.8 776.2,346.0 C777.9,346.2 779.7,349.8 781.4,350.0 C783.1,350.2 784.8,346.8 786.5,347.0 C788.2,347.2 789.6,350.8 791.6,351.0 C793.6,351.2 796.2,348.0 798.4,348.0 C800.7,348.0 803.3,351.2 805.3,351.0 C807.2,350.8 808.7,347.2 810.4,347.0 C812.1,346.8 813.8,350.2 815.5,350.0 C817.2,349.8 818.9,346.2 820.6,346.0 C822.3,345.8 823.8,349.2 825.7,349.0 C827.7,348.8 830.3,345.0 832.6,345.0 C834.8,345.0 837.4,348.8 839.4,349.0 C841.4,349.2 842.8,345.8 844.5,346.0 C846.2,346.2 847.9,349.8 849.6,350.0 C851.3,350.2 853.1,346.8 854.8,347.0 C856.5,347.2 857.9,350.8 859.9,351.0 C861.9,351.2 864.4,348.0 866.7,348.0 C869.0,348.0 871.6,351.2 873.5,351.0 C875.5,350.8 877.0,347.2 878.7,347.0 C880.4,346.8 882.1,350.2 883.8,350.0 C885.5,349.8 887.2,346.2 888.9,346.0 C890.6,345.8 892.0,349.2 894.0,349.0 C896.0,348.8 898.6,345.0 900.9,345.0 C903.1,345.0 905.7,348.8 907.7,349.0 C909.7,349.2 911.1,345.8 912.8,346.0 C914.5,346.2 916.2,349.8 917.9,350.0 C919.6,350.2 921.3,346.8 923.1,347.0 C924.8,347.2 926.2,350.8 928.2,351.0 C930.2,351.2 933.9,348.5 935.0,348.0" fill="none" stroke="#747474" stroke-width="2.6" stroke-linejoin="round"/>
<path d="M696.0,353.0 C697.7,353.5 702.8,354.5 706.2,356.0 C709.7,357.5 712.5,360.3 716.5,362.0 C720.5,363.7 725.6,366.0 730.1,366.0 C734.7,366.0 739.8,363.7 743.8,362.0 C747.8,360.3 750.6,357.5 754.0,356.0 C757.5,354.5 760.9,353.0 764.3,353.0 C767.7,353.0 771.1,354.5 774.5,356.0 C777.9,357.5 780.8,360.3 784.8,362.0 C788.8,363.7 793.9,366.0 798.4,366.0 C803.0,366.0 808.1,363.7 812.1,362.0 C816.1,360.3 818.9,357.5 822.3,356.0 C825.7,354.5 829.2,353.0 832.6,353.0 C836.0,353.0 839.4,354.5 842.8,356.0 C846.2,357.5 849.1,360.3 853.1,362.0 C857.0,363.7 862.2,366.0 866.7,366.0 C871.3,366.0 876.4,363.7 880.4,362.0 C884.4,360.3 887.2,357.5 890.6,356.0 C894.0,354.5 897.4,353.0 900.9,353.0 C904.3,353.0 907.7,354.5 911.1,356.0 C914.5,357.5 917.4,360.3 921.3,362.0 C925.3,363.7 932.7,365.3 935.0,366.0" fill="none" stroke="#747474" stroke-width="2.6" stroke-linejoin="round"/>
<path d="M696.0,530.0 C697.7,530.7 702.8,532.3 706.2,534.0 C709.7,535.7 712.5,537.7 716.5,540.0 C720.5,542.3 725.6,548.0 730.1,548.0 C734.7,548.0 739.8,542.3 743.8,540.0 C747.8,537.7 750.6,535.7 754.0,534.0 C757.5,532.3 760.9,530.0 764.3,530.0 C767.7,530.0 771.1,532.3 774.5,534.0 C777.9,535.7 780.8,537.7 784.8,540.0 C788.8,542.3 793.9,548.0 798.4,548.0 C803.0,548.0 808.1,542.3 812.1,540.0 C816.1,537.7 818.9,535.7 822.3,534.0 C825.7,532.3 829.2,530.0 832.6,530.0 C836.0,530.0 839.4,532.3 842.8,534.0 C846.2,535.7 849.1,537.7 853.1,540.0 C857.0,542.3 862.2,548.0 866.7,548.0 C871.3,548.0 876.4,542.3 880.4,540.0 C884.4,537.7 887.2,535.7 890.6,534.0 C894.0,532.3 897.4,530.0 900.9,530.0 C904.3,530.0 907.7,532.3 911.1,534.0 C914.5,535.7 917.4,537.7 921.3,540.0 C925.3,542.3 932.7,546.7 935.0,548.0" fill="none" stroke="#747474" stroke-width="2.6" stroke-linejoin="round"/>
<path d="M696.0,566.0 C697.7,565.0 702.8,562.3 706.2,560.0 C709.7,557.7 712.5,553.8 716.5,552.0 C720.5,550.2 725.6,549.0 730.1,549.0 C734.7,549.0 739.8,550.2 743.8,552.0 C747.8,553.8 750.6,557.7 754.0,560.0 C757.5,562.3 760.9,566.0 764.3,566.0 C767.7,566.0 771.1,562.3 774.5,560.0 C777.9,557.7 780.8,553.8 784.8,552.0 C788.8,550.2 793.9,549.0 798.4,549.0 C803.0,549.0 808.1,550.2 812.1,552.0 C816.1,553.8 818.9,557.7 822.3,560.0 C825.7,562.3 829.2,566.0 832.6,566.0 C836.0,566.0 839.4,562.3 842.8,560.0 C846.2,557.7 849.1,553.8 853.1,552.0 C857.0,550.2 862.2,549.0 866.7,549.0 C871.3,549.0 876.4,550.2 880.4,552.0 C884.4,553.8 887.2,557.7 890.6,560.0 C894.0,562.3 897.4,566.0 900.9,566.0 C904.3,566.0 907.7,562.3 911.1,560.0 C914.5,557.7 917.4,553.8 921.3,552.0 C925.3,550.2 932.7,549.5 935.0,549.0" fill="none" stroke="#747474" stroke-width="2.6" stroke-linejoin="round"/>
<path d="M696.0,572.0 C698.8,573.0 707.4,575.7 713.1,578.0 C718.8,580.3 724.5,586.0 730.1,586.0 C735.8,586.0 741.5,580.3 747.2,578.0 C752.9,575.7 758.6,572.0 764.3,572.0 C770.0,572.0 775.7,575.7 781.4,578.0 C787.0,580.3 792.7,586.0 798.4,586.0 C804.1,586.0 809.8,580.3 815.5,578.0 C821.2,575.7 826.9,572.0 832.6,572.0 C838.3,572.0 844.0,575.7 849.6,578.0 C855.3,580.3 861.0,586.0 866.7,586.0 C872.4,586.0 878.1,580.3 883.8,578.0 C889.5,575.7 895.2,572.0 900.9,572.0 C906.5,572.0 912.2,575.7 917.9,578.0 C923.6,580.3 932.2,584.7 935.0,586.0" fill="none" stroke="#747474" stroke-width="2.6" stroke-linejoin="round"/>
<path d="M696.0,598.0 C698.3,596.7 704.0,592.5 709.7,590.0 C715.3,587.5 723.3,583.0 730.1,583.0 C737.0,583.0 744.9,587.5 750.6,590.0 C756.3,592.5 759.7,598.0 764.3,598.0 C768.8,598.0 772.3,592.5 777.9,590.0 C783.6,587.5 791.6,583.0 798.4,583.0 C805.3,583.0 813.2,587.5 818.9,590.0 C824.6,592.5 828.0,598.0 832.6,598.0 C837.1,598.0 840.5,592.5 846.2,590.0 C851.9,587.5 859.9,583.0 866.7,583.0 C873.5,583.0 881.5,587.5 887.2,590.0 C892.9,592.5 896.3,598.0 900.9,598.0 C905.4,598.0 908.8,592.5 914.5,590.0 C920.2,587.5 931.6,584.2 935.0,583.0" fill="none" stroke="#747474" stroke-width="2.6" stroke-linejoin="round"/>
<path d="M696.0,415.0 C697.0,414.6 699.8,414.1 701.7,412.7 C703.6,411.3 705.5,408.9 707.4,406.4 C709.3,403.9 711.2,400.8 713.1,397.9 C715.0,395.0 716.9,391.8 718.8,389.3 C720.7,386.8 722.5,384.4 724.4,383.0 C726.3,381.6 728.2,380.7 730.1,380.7 C732.0,380.7 733.9,381.6 735.8,383.0 C737.7,384.4 739.6,386.8 741.5,389.3 C743.4,391.8 745.3,395.0 747.2,397.9 C749.1,400.8 751.0,403.9 752.9,406.4 C754.8,408.9 756.7,411.3 758.6,412.7 C760.5,414.1 762.4,415.0 764.3,415.0 C766.2,415.0 768.1,414.1 770.0,412.7 C771.9,411.3 773.8,408.9 775.7,406.4 C777.6,403.9 779.5,400.8 781.4,397.9 C783.3,395.0 785.2,391.8 787.1,389.3 C789.0,386.8 790.8,384.4 792.7,383.0 C794.6,381.6 796.5,380.7 798.4,380.7 C800.3,380.7 802.2,381.6 804.1,383.0 C806.0,384.4 807.9,386.8 809.8,389.3 C811.7,391.8 813.6,395.0 815.5,397.9 C817.4,400.8 819.3,403.9 821.2,406.4 C823.1,408.9 825.0,411.3 826.9,412.7 C828.8,414.1 830.7,415.0 832.6,415.0 C834.5,415.0 836.4,414.1 838.3,412.7 C840.2,411.3 842.0,408.9 843.9,406.4 C845.8,403.9 847.7,400.8 849.6,397.9 C851.5,395.0 853.4,391.8 855.3,389.3 C857.2,386.8 859.1,384.4 861.0,383.0 C862.9,381.6 864.8,380.7 866.7,380.7 C868.6,380.7 870.5,381.6 872.4,383.0 C874.3,384.4 876.2,386.8 878.1,389.3 C880.0,391.8 881.9,395.0 883.8,397.9 C885.7,400.8 887.6,403.9 889.5,406.4 C891.4,408.9 893.3,411.3 895.2,412.7 C897.1,414.1 899.0,415.0 900.9,415.0 C902.8,415.0 904.7,414.1 906.6,412.7 C908.5,411.3 910.3,408.9 912.2,406.4 C914.1,403.9 916.0,400.8 917.9,397.9 C919.8,395.0 921.7,391.8 923.6,389.3 C925.5,386.8 927.4,384.4 929.3,383.0 C931.2,381.6 934.0,381.1 935.0,380.7" fill="none" stroke="#747474" stroke-width="2.6" stroke-linejoin="round"/>
<path d="M696.0,419.6 C697.0,419.2 699.8,418.7 701.7,417.2 C703.6,415.7 705.5,413.3 707.4,410.7 C709.3,408.1 711.2,404.8 713.1,401.8 C715.0,398.8 716.9,395.5 718.8,392.9 C720.7,390.3 722.5,387.9 724.4,386.4 C726.3,384.9 728.2,384.0 730.1,384.0 C732.0,384.0 733.9,384.9 735.8,386.4 C737.7,387.9 739.6,390.3 741.5,392.9 C743.4,395.5 745.3,398.8 747.2,401.8 C749.1,404.8 751.0,408.1 752.9,410.7 C754.8,413.3 756.7,415.7 758.6,417.2 C760.5,418.7 762.4,419.6 764.3,419.6 C766.2,419.6 768.1,418.7 770.0,417.2 C771.9,415.7 773.8,413.3 775.7,410.7 C777.6,408.1 779.5,404.8 781.4,401.8 C783.3,398.8 785.2,395.5 787.1,392.9 C789.0,390.3 790.8,387.9 792.7,386.4 C794.6,384.9 796.5,384.0 798.4,384.0 C800.3,384.0 802.2,384.9 804.1,386.4 C806.0,387.9 807.9,390.3 809.8,392.9 C811.7,395.5 813.6,398.8 815.5,401.8 C817.4,404.8 819.3,408.1 821.2,410.7 C823.1,413.3 825.0,415.7 826.9,417.2 C828.8,418.7 830.7,419.6 832.6,419.6 C834.5,419.6 836.4,418.7 838.3,417.2 C840.2,415.7 842.0,413.3 843.9,410.7 C845.8,408.1 847.7,404.8 849.6,401.8 C851.5,398.8 853.4,395.5 855.3,392.9 C857.2,390.3 859.1,387.9 861.0,386.4 C862.9,384.9 864.8,384.0 866.7,384.0 C868.6,384.0 870.5,384.9 872.4,386.4 C874.3,387.9 876.2,390.3 878.1,392.9 C880.0,395.5 881.9,398.8 883.8,401.8 C885.7,404.8 887.6,408.1 889.5,410.7 C891.4,413.3 893.3,415.7 895.2,417.2 C897.1,418.7 899.0,419.6 900.9,419.6 C902.8,419.6 904.7,418.7 906.6,417.2 C908.5,415.7 910.3,413.3 912.2,410.7 C914.1,408.1 916.0,404.8 917.9,401.8 C919.8,398.8 921.7,395.5 923.6,392.9 C925.5,390.3 927.4,387.9 929.3,386.4 C931.2,384.9 934.0,384.4 935.0,384.0" fill="none" stroke="#747474" stroke-width="2.6" stroke-linejoin="round"/>
<path d="M696.0,424.0 C697.0,423.6 699.8,423.0 701.7,421.5 C703.6,420.0 705.5,417.5 707.4,414.8 C709.3,412.1 711.2,408.6 713.1,405.5 C715.0,402.4 716.9,398.9 718.8,396.2 C720.7,393.5 722.5,391.0 724.4,389.5 C726.3,388.0 728.2,387.0 730.1,387.0 C732.0,387.0 733.9,388.0 735.8,389.5 C737.7,391.0 739.6,393.5 741.5,396.2 C743.4,398.9 745.3,402.4 747.2,405.5 C749.1,408.6 751.0,412.1 752.9,414.8 C754.8,417.5 756.7,420.0 758.6,421.5 C760.5,423.0 762.4,424.0 764.3,424.0 C766.2,424.0 768.1,423.0 770.0,421.5 C771.9,420.0 773.8,417.5 775.7,414.8 C777.6,412.1 779.5,408.6 781.4,405.5 C783.3,402.4 785.2,398.9 787.1,396.2 C789.0,393.5 790.8,391.0 792.7,389.5 C794.6,388.0 796.5,387.0 798.4,387.0 C800.3,387.0 802.2,388.0 804.1,389.5 C806.0,391.0 807.9,393.5 809.8,396.2 C811.7,398.9 813.6,402.4 815.5,405.5 C817.4,408.6 819.3,412.1 821.2,414.8 C823.1,417.5 825.0,420.0 826.9,421.5 C828.8,423.0 830.7,424.0 832.6,424.0 C834.5,424.0 836.4,423.0 838.3,421.5 C840.2,420.0 842.0,417.5 843.9,414.8 C845.8,412.1 847.7,408.6 849.6,405.5 C851.5,402.4 853.4,398.9 855.3,396.2 C857.2,393.5 859.1,391.0 861.0,389.5 C862.9,388.0 864.8,387.0 866.7,387.0 C868.6,387.0 870.5,388.0 872.4,389.5 C874.3,391.0 876.2,393.5 878.1,396.2 C880.0,398.9 881.9,402.4 883.8,405.5 C885.7,408.6 887.6,412.1 889.5,414.8 C891.4,417.5 893.3,420.0 895.2,421.5 C897.1,423.0 899.0,424.0 900.9,424.0 C902.8,424.0 904.7,423.0 906.6,421.5 C908.5,420.0 910.3,417.5 912.2,414.8 C914.1,412.1 916.0,408.6 917.9,405.5 C919.8,402.4 921.7,398.9 923.6,396.2 C925.5,393.5 927.4,391.0 929.3,389.5 C931.2,388.0 934.0,387.4 935.0,387.0" fill="none" stroke="#747474" stroke-width="2.6" stroke-linejoin="round"/>
<path d="M696.0,372.3 C697.0,371.9 699.8,371.4 701.7,369.9 C703.6,368.4 705.5,365.8 707.4,363.2 C709.3,360.6 711.2,357.1 713.1,354.1 C715.0,351.1 716.9,347.7 718.8,345.1 C720.7,342.5 722.5,339.9 724.4,338.4 C726.3,336.9 728.2,336.0 730.1,336.0 C732.0,336.0 733.9,336.9 735.8,338.4 C737.7,339.9 739.6,342.5 741.5,345.1 C743.4,347.7 745.3,351.1 747.2,354.1 C749.1,357.1 751.0,360.6 752.9,363.2 C754.8,365.8 756.7,368.4 758.6,369.9 C760.5,371.4 762.4,372.3 764.3,372.3 C766.2,372.3 768.1,371.4 770.0,369.9 C771.9,368.4 773.8,365.8 775.7,363.2 C777.6,360.6 779.5,357.1 781.4,354.1 C783.3,351.1 785.2,347.7 787.1,345.1 C789.0,342.5 790.8,339.9 792.7,338.4 C794.6,336.9 796.5,336.0 798.4,336.0 C800.3,336.0 802.2,336.9 804.1,338.4 C806.0,339.9 807.9,342.5 809.8,345.1 C811.7,347.7 813.6,351.1 815.5,354.1 C817.4,357.1 819.3,360.6 821.2,363.2 C823.1,365.8 825.0,368.4 826.9,369.9 C828.8,371.4 830.7,372.3 832.6,372.3 C834.5,372.3 836.4,371.4 838.3,369.9 C840.2,368.4 842.0,365.8 843.9,363.2 C845.8,360.6 847.7,357.1 849.6,354.1 C851.5,351.1 853.4,347.7 855.3,345.1 C857.2,342.5 859.1,339.9 861.0,338.4 C862.9,336.9 864.8,336.0 866.7,336.0 C868.6,336.0 870.5,336.9 872.4,338.4 C874.3,339.9 876.2,342.5 878.1,345.1 C880.0,347.7 881.9,351.1 883.8,354.1 C885.7,357.1 887.6,360.6 889.5,363.2 C891.4,365.8 893.3,368.4 895.2,369.9 C897.1,371.4 899.0,372.3 900.9,372.3 C902.8,372.3 904.7,371.4 906.6,369.9 C908.5,368.4 910.3,365.8 912.2,363.2 C914.1,360.6 916.0,357.1 917.9,354.1 C919.8,351.1 921.7,347.7 923.6,345.1 C925.5,342.5 927.4,339.9 929.3,338.4 C931.2,336.9 934.0,336.4 935.0,336.0" fill="none" stroke="#747474" stroke-width="2.6" stroke-linejoin="round"/>
<path d="M696.0,376.5 C697.0,376.1 699.8,375.6 701.7,374.2 C703.6,372.8 705.5,370.4 707.4,367.9 C709.3,365.4 711.2,362.1 713.1,359.2 C715.0,356.3 716.9,353.1 718.8,350.6 C720.7,348.1 722.5,345.7 724.4,344.3 C726.3,342.9 728.2,342.0 730.1,342.0 C732.0,342.0 733.9,342.9 735.8,344.3 C737.7,345.7 739.6,348.1 741.5,350.6 C743.4,353.1 745.3,356.3 747.2,359.2 C749.1,362.1 751.0,365.4 752.9,367.9 C754.8,370.4 756.7,372.8 758.6,374.2 C760.5,375.6 762.4,376.5 764.3,376.5 C766.2,376.5 768.1,375.6 770.0,374.2 C771.9,372.8 773.8,370.4 775.7,367.9 C777.6,365.4 779.5,362.1 781.4,359.2 C783.3,356.3 785.2,353.1 787.1,350.6 C789.0,348.1 790.8,345.7 792.7,344.3 C794.6,342.9 796.5,342.0 798.4,342.0 C800.3,342.0 802.2,342.9 804.1,344.3 C806.0,345.7 807.9,348.1 809.8,350.6 C811.7,353.1 813.6,356.3 815.5,359.2 C817.4,362.1 819.3,365.4 821.2,367.9 C823.1,370.4 825.0,372.8 826.9,374.2 C828.8,375.6 830.7,376.5 832.6,376.5 C834.5,376.5 836.4,375.6 838.3,374.2 C840.2,372.8 842.0,370.4 843.9,367.9 C845.8,365.4 847.7,362.1 849.6,359.2 C851.5,356.3 853.4,353.1 855.3,350.6 C857.2,348.1 859.1,345.7 861.0,344.3 C862.9,342.9 864.8,342.0 866.7,342.0 C868.6,342.0 870.5,342.9 872.4,344.3 C874.3,345.7 876.2,348.1 878.1,350.6 C880.0,353.1 881.9,356.3 883.8,359.2 C885.7,362.1 887.6,365.4 889.5,367.9 C891.4,370.4 893.3,372.8 895.2,374.2 C897.1,375.6 899.0,376.5 900.9,376.5 C902.8,376.5 904.7,375.6 906.6,374.2 C908.5,372.8 910.3,370.4 912.2,367.9 C914.1,365.4 916.0,362.1 917.9,359.2 C919.8,356.3 921.7,353.1 923.6,350.6 C925.5,348.1 927.4,345.7 929.3,344.3 C931.2,342.9 934.0,342.4 935.0,342.0" fill="none" stroke="#747474" stroke-width="2.6" stroke-linejoin="round"/>
<path d="M696.0,446.2 C697.0,446.0 699.8,445.7 701.7,444.9 C703.6,444.1 705.5,442.8 707.4,441.4 C709.3,440.0 711.2,438.3 713.1,436.7 C715.0,435.1 716.9,433.3 718.8,431.9 C720.7,430.5 722.5,429.3 724.4,428.5 C726.3,427.7 728.2,427.2 730.1,427.2 C732.0,427.2 733.9,427.7 735.8,428.5 C737.7,429.3 739.6,430.5 741.5,431.9 C743.4,433.3 745.3,435.1 747.2,436.7 C749.1,438.3 751.0,440.0 752.9,441.4 C754.8,442.8 756.7,444.1 758.6,444.9 C760.5,445.7 762.4,446.2 764.3,446.2 C766.2,446.2 768.1,445.7 770.0,444.9 C771.9,444.1 773.8,442.8 775.7,441.4 C777.6,440.0 779.5,438.3 781.4,436.7 C783.3,435.1 785.2,433.3 787.1,431.9 C789.0,430.5 790.8,429.3 792.7,428.5 C794.6,427.7 796.5,427.2 798.4,427.2 C800.3,427.2 802.2,427.7 804.1,428.5 C806.0,429.3 807.9,430.5 809.8,431.9 C811.7,433.3 813.6,435.1 815.5,436.7 C817.4,438.3 819.3,440.0 821.2,441.4 C823.1,442.8 825.0,444.1 826.9,444.9 C828.8,445.7 830.7,446.2 832.6,446.2 C834.5,446.2 836.4,445.7 838.3,444.9 C840.2,444.1 842.0,442.8 843.9,441.4 C845.8,440.0 847.7,438.3 849.6,436.7 C851.5,435.1 853.4,433.3 855.3,431.9 C857.2,430.5 859.1,429.3 861.0,428.5 C862.9,427.7 864.8,427.2 866.7,427.2 C868.6,427.2 870.5,427.7 872.4,428.5 C874.3,429.3 876.2,430.5 878.1,431.9 C880.0,433.3 881.9,435.1 883.8,436.7 C885.7,438.3 887.6,440.0 889.5,441.4 C891.4,442.8 893.3,444.1 895.2,444.9 C897.1,445.7 899.0,446.2 900.9,446.2 C902.8,446.2 904.7,445.7 906.6,444.9 C908.5,444.1 910.3,442.8 912.2,441.4 C914.1,440.0 916.0,438.3 917.9,436.7 C919.8,435.1 921.7,433.3 923.6,431.9 C925.5,430.5 927.4,429.3 929.3,428.5 C931.2,427.7 934.0,427.4 935.0,427.2" fill="none" stroke="#747474" stroke-width="2.6" stroke-linejoin="round"/>
<path d="M696.0,451.5 C697.0,451.3 699.8,451.0 701.7,450.1 C703.6,449.2 705.5,447.7 707.4,446.1 C709.3,444.6 711.2,442.6 713.1,440.8 C715.0,439.0 716.9,437.0 718.8,435.4 C720.7,433.8 722.5,432.3 724.4,431.4 C726.3,430.5 728.2,430.0 730.1,430.0 C732.0,430.0 733.9,430.5 735.8,431.4 C737.7,432.3 739.6,433.8 741.5,435.4 C743.4,437.0 745.3,439.0 747.2,440.8 C749.1,442.6 751.0,444.6 752.9,446.1 C754.8,447.7 756.7,449.2 758.6,450.1 C760.5,451.0 762.4,451.5 764.3,451.5 C766.2,451.5 768.1,451.0 770.0,450.1 C771.9,449.2 773.8,447.7 775.7,446.1 C777.6,444.6 779.5,442.6 781.4,440.8 C783.3,439.0 785.2,437.0 787.1,435.4 C789.0,433.8 790.8,432.3 792.7,431.4 C794.6,430.5 796.5,430.0 798.4,430.0 C800.3,430.0 802.2,430.5 804.1,431.4 C806.0,432.3 807.9,433.8 809.8,435.4 C811.7,437.0 813.6,439.0 815.5,440.8 C817.4,442.6 819.3,444.6 821.2,446.1 C823.1,447.7 825.0,449.2 826.9,450.1 C828.8,451.0 830.7,451.5 832.6,451.5 C834.5,451.5 836.4,451.0 838.3,450.1 C840.2,449.2 842.0,447.7 843.9,446.1 C845.8,444.6 847.7,442.6 849.6,440.8 C851.5,439.0 853.4,437.0 855.3,435.4 C857.2,433.8 859.1,432.3 861.0,431.4 C862.9,430.5 864.8,430.0 866.7,430.0 C868.6,430.0 870.5,430.5 872.4,431.4 C874.3,432.3 876.2,433.8 878.1,435.4 C880.0,437.0 881.9,439.0 883.8,440.8 C885.7,442.6 887.6,444.6 889.5,446.1 C891.4,447.7 893.3,449.2 895.2,450.1 C897.1,451.0 899.0,451.5 900.9,451.5 C902.8,451.5 904.7,451.0 906.6,450.1 C908.5,449.2 910.3,447.7 912.2,446.1 C914.1,444.6 916.0,442.6 917.9,440.8 C919.8,439.0 921.7,437.0 923.6,435.4 C925.5,433.8 927.4,432.3 929.3,431.4 C931.2,430.5 934.0,430.2 935.0,430.0" fill="none" stroke="#747474" stroke-width="2.6" stroke-linejoin="round"/>
<path d="M696.0,478.0 C697.0,477.8 699.8,477.5 701.7,476.7 C703.6,475.9 705.5,474.6 707.4,473.2 C709.3,471.8 711.2,470.0 713.1,468.4 C715.0,466.8 716.9,465.1 718.8,463.7 C720.7,462.3 722.5,461.0 724.4,460.2 C726.3,459.4 728.2,458.9 730.1,458.9 C732.0,458.9 733.9,459.4 735.8,460.2 C737.7,461.0 739.6,462.3 741.5,463.7 C743.4,465.1 745.3,466.8 747.2,468.4 C749.1,470.0 751.0,471.8 752.9,473.2 C754.8,474.6 756.7,475.9 758.6,476.7 C760.5,477.5 762.4,478.0 764.3,478.0 C766.2,478.0 768.1,477.5 770.0,476.7 C771.9,475.9 773.8,474.6 775.7,473.2 C777.6,471.8 779.5,470.0 781.4,468.4 C783.3,466.8 785.2,465.1 787.1,463.7 C789.0,462.3 790.8,461.0 792.7,460.2 C794.6,459.4 796.5,458.9 798.4,458.9 C800.3,458.9 802.2,459.4 804.1,460.2 C806.0,461.0 807.9,462.3 809.8,463.7 C811.7,465.1 813.6,466.8 815.5,468.4 C817.4,470.0 819.3,471.8 821.2,473.2 C823.1,474.6 825.0,475.9 826.9,476.7 C828.8,477.5 830.7,478.0 832.6,478.0 C834.5,478.0 836.4,477.5 838.3,476.7 C840.2,475.9 842.0,474.6 843.9,473.2 C845.8,471.8 847.7,470.0 849.6,468.4 C851.5,466.8 853.4,465.1 855.3,463.7 C857.2,462.3 859.1,461.0 861.0,460.2 C862.9,459.4 864.8,458.9 866.7,458.9 C868.6,458.9 870.5,459.4 872.4,460.2 C874.3,461.0 876.2,462.3 878.1,463.7 C880.0,465.1 881.9,466.8 883.8,468.4 C885.7,470.0 887.6,471.8 889.5,473.2 C891.4,474.6 893.3,475.9 895.2,476.7 C897.1,477.5 899.0,478.0 900.9,478.0 C902.8,478.0 904.7,477.5 906.6,476.7 C908.5,475.9 910.3,474.6 912.2,473.2 C914.1,471.8 916.0,470.0 917.9,468.4 C919.8,466.8 921.7,465.1 923.6,463.7 C925.5,462.3 927.4,461.0 929.3,460.2 C931.2,459.4 934.0,459.1 935.0,458.9" fill="none" stroke="#747474" stroke-width="2.6" stroke-linejoin="round"/>
<path d="M696.0,474.0 C697.0,473.9 699.8,473.8 701.7,473.4 C703.6,473.0 705.5,472.4 707.4,471.8 C709.3,471.2 711.2,470.3 713.1,469.5 C715.0,468.7 716.9,467.8 718.8,467.2 C720.7,466.6 722.5,466.0 724.4,465.6 C726.3,465.2 728.2,465.0 730.1,465.0 C732.0,465.0 733.9,465.2 735.8,465.6 C737.7,466.0 739.6,466.6 741.5,467.2 C743.4,467.8 745.3,468.7 747.2,469.5 C749.1,470.3 751.0,471.2 752.9,471.8 C754.8,472.4 756.7,473.0 758.6,473.4 C760.5,473.8 762.4,474.0 764.3,474.0 C766.2,474.0 768.1,473.8 770.0,473.4 C771.9,473.0 773.8,472.4 775.7,471.8 C777.6,471.2 779.5,470.3 781.4,469.5 C783.3,468.7 785.2,467.8 787.1,467.2 C789.0,466.6 790.8,466.0 792.7,465.6 C794.6,465.2 796.5,465.0 798.4,465.0 C800.3,465.0 802.2,465.2 804.1,465.6 C806.0,466.0 807.9,466.6 809.8,467.2 C811.7,467.8 813.6,468.7 815.5,469.5 C817.4,470.3 819.3,471.2 821.2,471.8 C823.1,472.4 825.0,473.0 826.9,473.4 C828.8,473.8 830.7,474.0 832.6,474.0 C834.5,474.0 836.4,473.8 838.3,473.4 C840.2,473.0 842.0,472.4 843.9,471.8 C845.8,471.2 847.7,470.3 849.6,469.5 C851.5,468.7 853.4,467.8 855.3,467.2 C857.2,466.6 859.1,466.0 861.0,465.6 C862.9,465.2 864.8,465.0 866.7,465.0 C868.6,465.0 870.5,465.2 872.4,465.6 C874.3,466.0 876.2,466.6 878.1,467.2 C880.0,467.8 881.9,468.7 883.8,469.5 C885.7,470.3 887.6,471.2 889.5,471.8 C891.4,472.4 893.3,473.0 895.2,473.4 C897.1,473.8 899.0,474.0 900.9,474.0 C902.8,474.0 904.7,473.8 906.6,473.4 C908.5,473.0 910.3,472.4 912.2,471.8 C914.1,471.2 916.0,470.3 917.9,469.5 C919.8,468.7 921.7,467.8 923.6,467.2 C925.5,466.6 927.4,466.0 929.3,465.6 C931.2,465.2 934.0,465.1 935.0,465.0" fill="none" stroke="#747474" stroke-width="2.6" stroke-linejoin="round"/>
<path d="M696.0,396.0 C697.0,395.7 699.8,395.4 701.7,394.4 C703.6,393.4 705.5,391.7 707.4,390.0 C709.3,388.3 711.2,386.0 713.1,384.0 C715.0,382.0 716.9,379.7 718.8,378.0 C720.7,376.3 722.5,374.6 724.4,373.6 C726.3,372.6 728.2,372.0 730.1,372.0 C732.0,372.0 733.9,372.6 735.8,373.6 C737.7,374.6 739.6,376.3 741.5,378.0 C743.4,379.7 745.3,382.0 747.2,384.0 C749.1,386.0 751.0,388.3 752.9,390.0 C754.8,391.7 756.7,393.4 758.6,394.4 C760.5,395.4 762.4,396.0 764.3,396.0 C766.2,396.0 768.1,395.4 770.0,394.4 C771.9,393.4 773.8,391.7 775.7,390.0 C777.6,388.3 779.5,386.0 781.4,384.0 C783.3,382.0 785.2,379.7 787.1,378.0 C789.0,376.3 790.8,374.6 792.7,373.6 C794.6,372.6 796.5,372.0 798.4,372.0 C800.3,372.0 802.2,372.6 804.1,373.6 C806.0,374.6 807.9,376.3 809.8,378.0 C811.7,379.7 813.6,382.0 815.5,384.0 C817.4,386.0 819.3,388.3 821.2,390.0 C823.1,391.7 825.0,393.4 826.9,394.4 C828.8,395.4 830.7,396.0 832.6,396.0 C834.5,396.0 836.4,395.4 838.3,394.4 C840.2,393.4 842.0,391.7 843.9,390.0 C845.8,388.3 847.7,386.0 849.6,384.0 C851.5,382.0 853.4,379.7 855.3,378.0 C857.2,376.3 859.1,374.6 861.0,373.6 C862.9,372.6 864.8,372.0 866.7,372.0 C868.6,372.0 870.5,372.6 872.4,373.6 C874.3,374.6 876.2,376.3 878.1,378.0 C880.0,379.7 881.9,382.0 883.8,384.0 C885.7,386.0 887.6,388.3 889.5,390.0 C891.4,391.7 893.3,393.4 895.2,394.4 C897.1,395.4 899.0,396.0 900.9,396.0 C902.8,396.0 904.7,395.4 906.6,394.4 C908.5,393.4 910.3,391.7 912.2,390.0 C914.1,388.3 916.0,386.0 917.9,384.0 C919.8,382.0 921.7,379.7 923.6,378.0 C925.5,376.3 927.4,374.6 929.3,373.6 C931.2,372.6 934.0,372.3 935.0,372.0" fill="none" stroke="#747474" stroke-width="2.6" stroke-linejoin="round"/>
<path d="M696.0,400.0 C697.0,399.9 699.8,399.8 701.7,399.5 C703.6,399.2 705.5,398.6 707.4,398.0 C709.3,397.4 711.2,396.7 713.1,396.0 C715.0,395.3 716.9,394.6 718.8,394.0 C720.7,393.4 722.5,392.8 724.4,392.5 C726.3,392.2 728.2,392.0 730.1,392.0 C732.0,392.0 733.9,392.2 735.8,392.5 C737.7,392.8 739.6,393.4 741.5,394.0 C743.4,394.6 745.3,395.3 747.2,396.0 C749.1,396.7 751.0,397.4 752.9,398.0 C754.8,398.6 756.7,399.2 758.6,399.5 C760.5,399.8 762.4,400.0 764.3,400.0 C766.2,400.0 768.1,399.8 770.0,399.5 C771.9,399.2 773.8,398.6 775.7,398.0 C777.6,397.4 779.5,396.7 781.4,396.0 C783.3,395.3 785.2,394.6 787.1,394.0 C789.0,393.4 790.8,392.8 792.7,392.5 C794.6,392.2 796.5,392.0 798.4,392.0 C800.3,392.0 802.2,392.2 804.1,392.5 C806.0,392.8 807.9,393.4 809.8,394.0 C811.7,394.6 813.6,395.3 815.5,396.0 C817.4,396.7 819.3,397.4 821.2,398.0 C823.1,398.6 825.0,399.2 826.9,399.5 C828.8,399.8 830.7,400.0 832.6,400.0 C834.5,400.0 836.4,399.8 838.3,399.5 C840.2,399.2 842.0,398.6 843.9,398.0 C845.8,397.4 847.7,396.7 849.6,396.0 C851.5,395.3 853.4,394.6 855.3,394.0 C857.2,393.4 859.1,392.8 861.0,392.5 C862.9,392.2 864.8,392.0 866.7,392.0 C868.6,392.0 870.5,392.2 872.4,392.5 C874.3,392.8 876.2,393.4 878.1,394.0 C880.0,394.6 881.9,395.3 883.8,396.0 C885.7,396.7 887.6,397.4 889.5,398.0 C891.4,398.6 893.3,399.2 895.2,399.5 C897.1,399.8 899.0,400.0 900.9,400.0 C902.8,400.0 904.7,399.8 906.6,399.5 C908.5,399.2 910.3,398.6 912.2,398.0 C914.1,397.4 916.0,396.7 917.9,396.0 C919.8,395.3 921.7,394.6 923.6,394.0 C925.5,393.4 927.4,392.8 929.3,392.5 C931.2,392.2 934.0,392.1 935.0,392.0" fill="none" stroke="#747474" stroke-width="2.6" stroke-linejoin="round"/>
<path d="M696.0,436.0 C697.0,435.7 699.8,435.4 701.7,434.3 C703.6,433.2 705.5,431.4 707.4,429.5 C709.3,427.6 711.2,425.2 713.1,423.0 C715.0,420.8 716.9,418.4 718.8,416.5 C720.7,414.6 722.5,412.8 724.4,411.7 C726.3,410.6 728.2,410.0 730.1,410.0 C732.0,410.0 733.9,410.6 735.8,411.7 C737.7,412.8 739.6,414.6 741.5,416.5 C743.4,418.4 745.3,420.8 747.2,423.0 C749.1,425.2 751.0,427.6 752.9,429.5 C754.8,431.4 756.7,433.2 758.6,434.3 C760.5,435.4 762.4,436.0 764.3,436.0 C766.2,436.0 768.1,435.4 770.0,434.3 C771.9,433.2 773.8,431.4 775.7,429.5 C777.6,427.6 779.5,425.2 781.4,423.0 C783.3,420.8 785.2,418.4 787.1,416.5 C789.0,414.6 790.8,412.8 792.7,411.7 C794.6,410.6 796.5,410.0 798.4,410.0 C800.3,410.0 802.2,410.6 804.1,411.7 C806.0,412.8 807.9,414.6 809.8,416.5 C811.7,418.4 813.6,420.8 815.5,423.0 C817.4,425.2 819.3,427.6 821.2,429.5 C823.1,431.4 825.0,433.2 826.9,434.3 C828.8,435.4 830.7,436.0 832.6,436.0 C834.5,436.0 836.4,435.4 838.3,434.3 C840.2,433.2 842.0,431.4 843.9,429.5 C845.8,427.6 847.7,425.2 849.6,423.0 C851.5,420.8 853.4,418.4 855.3,416.5 C857.2,414.6 859.1,412.8 861.0,411.7 C862.9,410.6 864.8,410.0 866.7,410.0 C868.6,410.0 870.5,410.6 872.4,411.7 C874.3,412.8 876.2,414.6 878.1,416.5 C880.0,418.4 881.9,420.8 883.8,423.0 C885.7,425.2 887.6,427.6 889.5,429.5 C891.4,431.4 893.3,433.2 895.2,434.3 C897.1,435.4 899.0,436.0 900.9,436.0 C902.8,436.0 904.7,435.4 906.6,434.3 C908.5,433.2 910.3,431.4 912.2,429.5 C914.1,427.6 916.0,425.2 917.9,423.0 C919.8,420.8 921.7,418.4 923.6,416.5 C925.5,414.6 927.4,412.8 929.3,411.7 C931.2,410.6 934.0,410.3 935.0,410.0" fill="none" stroke="#747474" stroke-width="2.6" stroke-linejoin="round"/>
<path d="M696.0,440.0 C697.0,440.1 699.8,440.3 701.7,440.8 C703.6,441.3 705.5,442.1 707.4,443.0 C709.3,443.9 711.2,445.0 713.1,446.0 C715.0,447.0 716.9,448.1 718.8,449.0 C720.7,449.9 722.5,450.7 724.4,451.2 C726.3,451.7 728.2,452.0 730.1,452.0 C732.0,452.0 733.9,451.7 735.8,451.2 C737.7,450.7 739.6,449.9 741.5,449.0 C743.4,448.1 745.3,447.0 747.2,446.0 C749.1,445.0 751.0,443.9 752.9,443.0 C754.8,442.1 756.7,441.3 758.6,440.8 C760.5,440.3 762.4,440.0 764.3,440.0 C766.2,440.0 768.1,440.3 770.0,440.8 C771.9,441.3 773.8,442.1 775.7,443.0 C777.6,443.9 779.5,445.0 781.4,446.0 C783.3,447.0 785.2,448.1 787.1,449.0 C789.0,449.9 790.8,450.7 792.7,451.2 C794.6,451.7 796.5,452.0 798.4,452.0 C800.3,452.0 802.2,451.7 804.1,451.2 C806.0,450.7 807.9,449.9 809.8,449.0 C811.7,448.1 813.6,447.0 815.5,446.0 C817.4,445.0 819.3,443.9 821.2,443.0 C823.1,442.1 825.0,441.3 826.9,440.8 C828.8,440.3 830.7,440.0 832.6,440.0 C834.5,440.0 836.4,440.3 838.3,440.8 C840.2,441.3 842.0,442.1 843.9,443.0 C845.8,443.9 847.7,445.0 849.6,446.0 C851.5,447.0 853.4,448.1 855.3,449.0 C857.2,449.9 859.1,450.7 861.0,451.2 C862.9,451.7 864.8,452.0 866.7,452.0 C868.6,452.0 870.5,451.7 872.4,451.2 C874.3,450.7 876.2,449.9 878.1,449.0 C880.0,448.1 881.9,447.0 883.8,446.0 C885.7,445.0 887.6,443.9 889.5,443.0 C891.4,442.1 893.3,441.3 895.2,440.8 C897.1,440.3 899.0,440.0 900.9,440.0 C902.8,440.0 904.7,440.3 906.6,440.8 C908.5,441.3 910.3,442.1 912.2,443.0 C914.1,443.9 916.0,445.0 917.9,446.0 C919.8,447.0 921.7,448.1 923.6,449.0 C925.5,449.9 927.4,450.7 929.3,451.2 C931.2,451.7 934.0,451.9 935.0,452.0" fill="none" stroke="#747474" stroke-width="2.6" stroke-linejoin="round"/>
<path d="M696.0,488.0 C697.0,487.8 699.8,487.6 701.7,486.8 C703.6,486.1 705.5,484.8 707.4,483.5 C709.3,482.2 711.2,480.5 713.1,479.0 C715.0,477.5 716.9,475.8 718.8,474.5 C720.7,473.2 722.5,471.9 724.4,471.2 C726.3,470.4 728.2,470.0 730.1,470.0 C732.0,470.0 733.9,470.4 735.8,471.2 C737.7,471.9 739.6,473.2 741.5,474.5 C743.4,475.8 745.3,477.5 747.2,479.0 C749.1,480.5 751.0,482.2 752.9,483.5 C754.8,484.8 756.7,486.1 758.6,486.8 C760.5,487.6 762.4,488.0 764.3,488.0 C766.2,488.0 768.1,487.6 770.0,486.8 C771.9,486.1 773.8,484.8 775.7,483.5 C777.6,482.2 779.5,480.5 781.4,479.0 C783.3,477.5 785.2,475.8 787.1,474.5 C789.0,473.2 790.8,471.9 792.7,471.2 C794.6,470.4 796.5,470.0 798.4,470.0 C800.3,470.0 802.2,470.4 804.1,471.2 C806.0,471.9 807.9,473.2 809.8,474.5 C811.7,475.8 813.6,477.5 815.5,479.0 C817.4,480.5 819.3,482.2 821.2,483.5 C823.1,484.8 825.0,486.1 826.9,486.8 C828.8,487.6 830.7,488.0 832.6,488.0 C834.5,488.0 836.4,487.6 838.3,486.8 C840.2,486.1 842.0,484.8 843.9,483.5 C845.8,482.2 847.7,480.5 849.6,479.0 C851.5,477.5 853.4,475.8 855.3,474.5 C857.2,473.2 859.1,471.9 861.0,471.2 C862.9,470.4 864.8,470.0 866.7,470.0 C868.6,470.0 870.5,470.4 872.4,471.2 C874.3,471.9 876.2,473.2 878.1,474.5 C880.0,475.8 881.9,477.5 883.8,479.0 C885.7,480.5 887.6,482.2 889.5,483.5 C891.4,484.8 893.3,486.1 895.2,486.8 C897.1,487.6 899.0,488.0 900.9,488.0 C902.8,488.0 904.7,487.6 906.6,486.8 C908.5,486.1 910.3,484.8 912.2,483.5 C914.1,482.2 916.0,480.5 917.9,479.0 C919.8,477.5 921.7,475.8 923.6,474.5 C925.5,473.2 927.4,471.9 929.3,471.2 C931.2,470.4 934.0,470.2 935.0,470.0" fill="none" stroke="#747474" stroke-width="2.6" stroke-linejoin="round"/>
<path d="M696.0,428.4 C698.3,427.2 705.7,423.1 709.7,421.0 C713.6,418.9 716.5,417.2 719.9,416.0 C723.3,414.8 726.7,414.0 730.1,414.0 C733.6,414.0 737.0,414.8 740.4,416.0 C743.8,417.2 746.6,418.9 750.6,421.0 C754.6,423.1 759.7,428.4 764.3,428.4 C768.8,428.4 774.0,423.1 777.9,421.0 C781.9,418.9 784.8,417.2 788.2,416.0 C791.6,414.8 795.0,414.0 798.4,414.0 C801.8,414.0 805.3,414.8 808.7,416.0 C812.1,417.2 814.9,418.9 818.9,421.0 C822.9,423.1 828.0,428.4 832.6,428.4 C837.1,428.4 842.2,423.1 846.2,421.0 C850.2,418.9 853.1,417.2 856.5,416.0 C859.9,414.8 863.3,414.0 866.7,414.0 C870.1,414.0 873.5,414.8 877.0,416.0 C880.4,417.2 883.2,418.9 887.2,421.0 C891.2,423.1 896.3,428.4 900.9,428.4 C905.4,428.4 910.5,423.1 914.5,421.0 C918.5,418.9 921.3,417.2 924.8,416.0 C928.2,414.8 933.3,414.3 935.0,414.0" fill="none" stroke="#747474" stroke-width="2.6" stroke-linejoin="round"/>
<path d="M696.0,426.0 C698.3,427.2 705.1,431.0 709.7,433.0 C714.2,435.0 719.9,436.8 723.3,438.0 C726.7,439.2 727.9,440.0 730.1,440.0 C732.4,440.0 733.6,439.2 737.0,438.0 C740.4,436.8 746.1,435.0 750.6,433.0 C755.2,431.0 759.7,426.0 764.3,426.0 C768.8,426.0 773.4,431.0 777.9,433.0 C782.5,435.0 788.2,436.8 791.6,438.0 C795.0,439.2 796.2,440.0 798.4,440.0 C800.7,440.0 801.8,439.2 805.3,438.0 C808.7,436.8 814.4,435.0 818.9,433.0 C823.5,431.0 828.0,426.0 832.6,426.0 C837.1,426.0 841.7,431.0 846.2,433.0 C850.8,435.0 856.5,436.8 859.9,438.0 C863.3,439.2 864.4,440.0 866.7,440.0 C869.0,440.0 870.1,439.2 873.5,438.0 C877.0,436.8 882.6,435.0 887.2,433.0 C891.8,431.0 896.3,426.0 900.9,426.0 C905.4,426.0 910.0,431.0 914.5,433.0 C919.1,435.0 924.8,436.8 928.2,438.0 C931.6,439.2 933.9,439.7 935.0,440.0" fill="none" stroke="#747474" stroke-width="2.6" stroke-linejoin="round"/>
<path d="M696.0,429.9 C698.3,430.6 705.7,431.8 709.7,434.0 C713.6,436.2 716.5,440.4 719.9,443.0 C723.3,445.6 726.7,449.6 730.1,449.6 C733.6,449.6 737.0,445.6 740.4,443.0 C743.8,440.4 746.6,436.2 750.6,434.0 C754.6,431.8 759.7,429.9 764.3,429.9 C768.8,429.9 774.0,431.8 777.9,434.0 C781.9,436.2 784.8,440.4 788.2,443.0 C791.6,445.6 795.0,449.6 798.4,449.6 C801.8,449.6 805.3,445.6 808.7,443.0 C812.1,440.4 814.9,436.2 818.9,434.0 C822.9,431.8 828.0,429.9 832.6,429.9 C837.1,429.9 842.2,431.8 846.2,434.0 C850.2,436.2 853.1,440.4 856.5,443.0 C859.9,445.6 863.3,449.6 866.7,449.6 C870.1,449.6 873.5,445.6 877.0,443.0 C880.4,440.4 883.2,436.2 887.2,434.0 C891.2,431.8 896.3,429.9 900.9,429.9 C905.4,429.9 910.5,431.8 914.5,434.0 C918.5,436.2 921.3,440.4 924.8,443.0 C928.2,445.6 933.3,448.5 935.0,449.6" fill="none" stroke="#747474" stroke-width="2.6" stroke-linejoin="round"/>
<path d="M696.0,434.0 C698.3,434.7 705.7,435.8 709.7,438.0 C713.6,440.2 716.5,444.4 719.9,447.0 C723.3,449.6 726.7,453.8 730.1,453.8 C733.6,453.8 737.0,449.6 740.4,447.0 C743.8,444.4 746.6,440.2 750.6,438.0 C754.6,435.8 759.7,434.0 764.3,434.0 C768.8,434.0 774.0,435.8 777.9,438.0 C781.9,440.2 784.8,444.4 788.2,447.0 C791.6,449.6 795.0,453.8 798.4,453.8 C801.8,453.8 805.3,449.6 808.7,447.0 C812.1,444.4 814.9,440.2 818.9,438.0 C822.9,435.8 828.0,434.0 832.6,434.0 C837.1,434.0 842.2,435.8 846.2,438.0 C850.2,440.2 853.1,444.4 856.5,447.0 C859.9,449.6 863.3,453.8 866.7,453.8 C870.1,453.8 873.5,449.6 877.0,447.0 C880.4,444.4 883.2,440.2 887.2,438.0 C891.2,435.8 896.3,434.0 900.9,434.0 C905.4,434.0 910.5,435.8 914.5,438.0 C918.5,440.2 921.3,444.4 924.8,447.0 C928.2,449.6 933.3,452.7 935.0,453.8" fill="none" stroke="#747474" stroke-width="2.6" stroke-linejoin="round"/>
<path d="M696.0,438.0 C698.8,439.3 707.4,442.5 713.1,446.0 C718.8,449.5 724.5,459.0 730.1,459.0 C735.8,459.0 741.5,449.5 747.2,446.0 C752.9,442.5 758.6,438.0 764.3,438.0 C770.0,438.0 775.7,442.5 781.4,446.0 C787.0,449.5 792.7,459.0 798.4,459.0 C804.1,459.0 809.8,449.5 815.5,446.0 C821.2,442.5 826.9,438.0 832.6,438.0 C838.3,438.0 844.0,442.5 849.6,446.0 C855.3,449.5 861.0,459.0 866.7,459.0 C872.4,459.0 878.1,449.5 883.8,446.0 C889.5,442.5 895.2,438.0 900.9,438.0 C906.5,438.0 912.2,442.5 917.9,446.0 C923.6,449.5 932.2,456.8 935.0,459.0" fill="none" stroke="#747474" stroke-width="2.6" stroke-linejoin="round"/>
<path d="M696.0,458.0 C698.8,458.7 707.4,460.0 713.1,462.0 C718.8,464.0 724.5,470.0 730.1,470.0 C735.8,470.0 741.5,464.0 747.2,462.0 C752.9,460.0 758.6,458.0 764.3,458.0 C770.0,458.0 775.7,460.0 781.4,462.0 C787.0,464.0 792.7,470.0 798.4,470.0 C804.1,470.0 809.8,464.0 815.5,462.0 C821.2,460.0 826.9,458.0 832.6,458.0 C838.3,458.0 844.0,460.0 849.6,462.0 C855.3,464.0 861.0,470.0 866.7,470.0 C872.4,470.0 878.1,464.0 883.8,462.0 C889.5,460.0 895.2,458.0 900.9,458.0 C906.5,458.0 912.2,460.0 917.9,462.0 C923.6,464.0 932.2,468.7 935.0,470.0" fill="none" stroke="#747474" stroke-width="2.6" stroke-linejoin="round"/>
<path d="M696.0,462.0 C698.8,463.0 707.4,465.2 713.1,468.0 C718.8,470.8 724.5,479.0 730.1,479.0 C735.8,479.0 741.5,470.8 747.2,468.0 C752.9,465.2 758.6,462.0 764.3,462.0 C770.0,462.0 775.7,465.2 781.4,468.0 C787.0,470.8 792.7,479.0 798.4,479.0 C804.1,479.0 809.8,470.8 815.5,468.0 C821.2,465.2 826.9,462.0 832.6,462.0 C838.3,462.0 844.0,465.2 849.6,468.0 C855.3,470.8 861.0,479.0 866.7,479.0 C872.4,479.0 878.1,470.8 883.8,468.0 C889.5,465.2 895.2,462.0 900.9,462.0 C906.5,462.0 912.2,465.2 917.9,468.0 C923.6,470.8 932.2,477.2 935.0,479.0" fill="none" stroke="#747474" stroke-width="2.6" stroke-linejoin="round"/>
<path d="M696.0,466.5 C698.8,467.4 707.4,469.8 713.1,472.0 C718.8,474.2 724.5,480.0 730.1,480.0 C735.8,480.0 741.5,474.2 747.2,472.0 C752.9,469.8 758.6,466.5 764.3,466.5 C770.0,466.5 775.7,469.8 781.4,472.0 C787.0,474.2 792.7,480.0 798.4,480.0 C804.1,480.0 809.8,474.2 815.5,472.0 C821.2,469.8 826.9,466.5 832.6,466.5 C838.3,466.5 844.0,469.8 849.6,472.0 C855.3,474.2 861.0,480.0 866.7,480.0 C872.4,480.0 878.1,474.2 883.8,472.0 C889.5,469.8 895.2,466.5 900.9,466.5 C906.5,466.5 912.2,469.8 917.9,472.0 C923.6,474.2 932.2,478.7 935.0,480.0" fill="none" stroke="#747474" stroke-width="2.6" stroke-linejoin="round"/>
<path d="M696.0,490.0 C698.8,490.3 708.5,490.3 713.1,492.0 C717.6,493.7 720.5,497.7 723.3,500.0 C726.2,502.3 727.9,505.9 730.1,505.9 C732.4,505.9 734.1,502.3 737.0,500.0 C739.8,497.7 742.7,493.7 747.2,492.0 C751.8,490.3 758.6,490.0 764.3,490.0 C770.0,490.0 776.8,490.3 781.4,492.0 C785.9,493.7 788.8,497.7 791.6,500.0 C794.4,502.3 796.2,505.9 798.4,505.9 C800.7,505.9 802.4,502.3 805.3,500.0 C808.1,497.7 810.9,493.7 815.5,492.0 C820.1,490.3 826.9,490.0 832.6,490.0 C838.3,490.0 845.1,490.3 849.6,492.0 C854.2,493.7 857.0,497.7 859.9,500.0 C862.7,502.3 864.4,505.9 866.7,505.9 C869.0,505.9 870.7,502.3 873.5,500.0 C876.4,497.7 879.2,493.7 883.8,492.0 C888.3,490.3 895.2,490.0 900.9,490.0 C906.5,490.0 913.4,490.3 917.9,492.0 C922.5,493.7 925.3,497.7 928.2,500.0 C931.0,502.3 933.9,504.9 935.0,505.9" fill="none" stroke="#747474" stroke-width="2.6" stroke-linejoin="round"/>
<path d="M696.0,511.5 C698.8,511.9 707.4,512.4 713.1,514.0 C718.8,515.6 724.5,521.0 730.1,521.0 C735.8,521.0 741.5,515.6 747.2,514.0 C752.9,512.4 758.6,511.5 764.3,511.5 C770.0,511.5 775.7,512.4 781.4,514.0 C787.0,515.6 792.7,521.0 798.4,521.0 C804.1,521.0 809.8,515.6 815.5,514.0 C821.2,512.4 826.9,511.5 832.6,511.5 C838.3,511.5 844.0,512.4 849.6,514.0 C855.3,515.6 861.0,521.0 866.7,521.0 C872.4,521.0 878.1,515.6 883.8,514.0 C889.5,512.4 895.2,511.5 900.9,511.5 C906.5,511.5 912.2,512.4 917.9,514.0 C923.6,515.6 932.2,519.8 935.0,521.0" fill="none" stroke="#747474" stroke-width="2.6" stroke-linejoin="round"/>
<path d="M696.0,518.6 C696.9,519.5 699.4,522.1 701.1,524.0 C702.8,525.9 703.7,529.7 706.2,530.0 C708.8,530.3 712.5,527.3 716.5,526.0 C720.5,524.7 725.6,522.0 730.1,522.0 C734.7,522.0 739.8,524.7 743.8,526.0 C747.8,527.3 751.5,530.3 754.0,530.0 C756.6,529.7 757.5,525.9 759.2,524.0 C760.9,522.1 762.6,518.6 764.3,518.6 C766.0,518.6 767.7,522.1 769.4,524.0 C771.1,525.9 772.0,529.7 774.5,530.0 C777.1,530.3 780.8,527.3 784.8,526.0 C788.8,524.7 793.9,522.0 798.4,522.0 C803.0,522.0 808.1,524.7 812.1,526.0 C816.1,527.3 819.8,530.3 822.3,530.0 C824.9,529.7 825.7,525.9 827.5,524.0 C829.2,522.1 830.9,518.6 832.6,518.6 C834.3,518.6 836.0,522.1 837.7,524.0 C839.4,525.9 840.3,529.7 842.8,530.0 C845.4,530.3 849.1,527.3 853.1,526.0 C857.0,524.7 862.2,522.0 866.7,522.0 C871.3,522.0 876.4,524.7 880.4,526.0 C884.4,527.3 888.1,530.3 890.6,530.0 C893.2,529.7 894.0,525.9 895.7,524.0 C897.4,522.1 899.2,518.6 900.9,518.6 C902.6,518.6 904.3,522.1 906.0,524.0 C907.7,525.9 908.5,529.7 911.1,530.0 C913.7,530.3 917.4,527.3 921.3,526.0 C925.3,524.7 932.7,522.7 935.0,522.0" fill="none" stroke="#747474" stroke-width="2.6" stroke-linejoin="round"/>
<path d="M696.0,520.5 C696.9,521.4 699.4,524.1 701.1,526.0 C702.8,527.9 703.7,531.5 706.2,532.0 C708.8,532.5 712.5,530.2 716.5,529.0 C720.5,527.8 725.6,525.0 730.1,525.0 C734.7,525.0 739.8,527.8 743.8,529.0 C747.8,530.2 751.5,532.5 754.0,532.0 C756.6,531.5 757.5,527.9 759.2,526.0 C760.9,524.1 762.6,520.5 764.3,520.5 C766.0,520.5 767.7,524.1 769.4,526.0 C771.1,527.9 772.0,531.5 774.5,532.0 C777.1,532.5 780.8,530.2 784.8,529.0 C788.8,527.8 793.9,525.0 798.4,525.0 C803.0,525.0 808.1,527.8 812.1,529.0 C816.1,530.2 819.8,532.5 822.3,532.0 C824.9,531.5 825.7,527.9 827.5,526.0 C829.2,524.1 830.9,520.5 832.6,520.5 C834.3,520.5 836.0,524.1 837.7,526.0 C839.4,527.9 840.3,531.5 842.8,532.0 C845.4,532.5 849.1,530.2 853.1,529.0 C857.0,527.8 862.2,525.0 866.7,525.0 C871.3,525.0 876.4,527.8 880.4,529.0 C884.4,530.2 888.1,532.5 890.6,532.0 C893.2,531.5 894.0,527.9 895.7,526.0 C897.4,524.1 899.2,520.5 900.9,520.5 C902.6,520.5 904.3,524.1 906.0,526.0 C907.7,527.9 908.5,531.5 911.1,532.0 C913.7,532.5 917.4,530.2 921.3,529.0 C925.3,527.8 932.7,525.7 935.0,525.0" fill="none" stroke="#747474" stroke-width="2.6" stroke-linejoin="round"/>
<path d="M696.0,543.9 C698.3,543.1 705.1,541.0 709.7,539.0 C714.2,537.0 719.9,533.5 723.3,532.0 C726.7,530.5 727.9,530.0 730.1,530.0 C732.4,530.0 733.6,530.5 737.0,532.0 C740.4,533.5 746.1,537.0 750.6,539.0 C755.2,541.0 759.7,543.9 764.3,543.9 C768.8,543.9 773.4,541.0 777.9,539.0 C782.5,537.0 788.2,533.5 791.6,532.0 C795.0,530.5 796.2,530.0 798.4,530.0 C800.7,530.0 801.8,530.5 805.3,532.0 C808.7,533.5 814.4,537.0 818.9,539.0 C823.5,541.0 828.0,543.9 832.6,543.9 C837.1,543.9 841.7,541.0 846.2,539.0 C850.8,537.0 856.5,533.5 859.9,532.0 C863.3,530.5 864.4,530.0 866.7,530.0 C869.0,530.0 870.1,530.5 873.5,532.0 C877.0,533.5 882.6,537.0 887.2,539.0 C891.8,541.0 896.3,543.9 900.9,543.9 C905.4,543.9 910.0,541.0 914.5,539.0 C919.1,537.0 924.8,533.5 928.2,532.0 C931.6,530.5 933.9,530.3 935.0,530.0" fill="none" stroke="#747474" stroke-width="2.6" stroke-linejoin="round"/>
<path d="M696.0,553.7 C698.3,552.8 705.1,550.3 709.7,548.0 C714.2,545.7 719.9,542.0 723.3,540.0 C726.7,538.0 727.9,536.0 730.1,536.0 C732.4,536.0 733.6,538.0 737.0,540.0 C740.4,542.0 746.1,545.7 750.6,548.0 C755.2,550.3 759.7,553.7 764.3,553.7 C768.8,553.7 773.4,550.3 777.9,548.0 C782.5,545.7 788.2,542.0 791.6,540.0 C795.0,538.0 796.2,536.0 798.4,536.0 C800.7,536.0 801.8,538.0 805.3,540.0 C808.7,542.0 814.4,545.7 818.9,548.0 C823.5,550.3 828.0,553.7 832.6,553.7 C837.1,553.7 841.7,550.3 846.2,548.0 C850.8,545.7 856.5,542.0 859.9,540.0 C863.3,538.0 864.4,536.0 866.7,536.0 C869.0,536.0 870.1,538.0 873.5,540.0 C877.0,542.0 882.6,545.7 887.2,548.0 C891.8,550.3 896.3,553.7 900.9,553.7 C905.4,553.7 910.0,550.3 914.5,548.0 C919.1,545.7 924.8,542.0 928.2,540.0 C931.6,538.0 933.9,536.7 935.0,536.0" fill="none" stroke="#747474" stroke-width="2.6" stroke-linejoin="round"/>
<path d="M696.0,556.0 C698.8,555.3 707.4,555.2 713.1,552.0 C718.8,548.8 724.5,537.0 730.1,537.0 C735.8,537.0 741.5,548.8 747.2,552.0 C752.9,555.2 758.6,556.0 764.3,556.0 C770.0,556.0 775.7,555.2 781.4,552.0 C787.0,548.8 792.7,537.0 798.4,537.0 C804.1,537.0 809.8,548.8 815.5,552.0 C821.2,555.2 826.9,556.0 832.6,556.0 C838.3,556.0 844.0,555.2 849.6,552.0 C855.3,548.8 861.0,537.0 866.7,537.0 C872.4,537.0 878.1,548.8 883.8,552.0 C889.5,555.2 895.2,556.0 900.9,556.0 C906.5,556.0 912.2,555.2 917.9,552.0 C923.6,548.8 932.2,539.5 935.0,537.0" fill="none" stroke="#747474" stroke-width="2.6" stroke-linejoin="round"/>
<path d="M696.0,560.0 C698.8,561.0 707.4,563.5 713.1,566.0 C718.8,568.5 724.5,574.9 730.1,574.9 C735.8,574.9 741.5,568.5 747.2,566.0 C752.9,563.5 758.6,560.0 764.3,560.0 C770.0,560.0 775.7,563.5 781.4,566.0 C787.0,568.5 792.7,574.9 798.4,574.9 C804.1,574.9 809.8,568.5 815.5,566.0 C821.2,563.5 826.9,560.0 832.6,560.0 C838.3,560.0 844.0,563.5 849.6,566.0 C855.3,568.5 861.0,574.9 866.7,574.9 C872.4,574.9 878.1,568.5 883.8,566.0 C889.5,563.5 895.2,560.0 900.9,560.0 C906.5,560.0 912.2,563.5 917.9,566.0 C923.6,568.5 932.2,573.4 935.0,574.9" fill="none" stroke="#747474" stroke-width="2.6" stroke-linejoin="round"/>
<path d="M696.0,585.0 C698.8,584.2 707.4,581.7 713.1,580.0 C718.8,578.3 724.5,574.9 730.1,574.9 C735.8,574.9 741.5,578.3 747.2,580.0 C752.9,581.7 758.6,585.0 764.3,585.0 C770.0,585.0 775.7,581.7 781.4,580.0 C787.0,578.3 792.7,574.9 798.4,574.9 C804.1,574.9 809.8,578.3 815.5,580.0 C821.2,581.7 826.9,585.0 832.6,585.0 C838.3,585.0 844.0,581.7 849.6,580.0 C855.3,578.3 861.0,574.9 866.7,574.9 C872.4,574.9 878.1,578.3 883.8,580.0 C889.5,581.7 895.2,585.0 900.9,585.0 C906.5,585.0 912.2,581.7 917.9,580.0 C923.6,578.3 932.2,575.8 935.0,574.9" fill="none" stroke="#747474" stroke-width="2.6" stroke-linejoin="round"/>
<path d="M696.0,587.5 C698.8,588.2 707.4,590.8 713.1,592.0 C718.8,593.2 724.5,594.5 730.1,594.5 C735.8,594.5 741.5,593.2 747.2,592.0 C752.9,590.8 758.6,587.5 764.3,587.5 C770.0,587.5 775.7,590.8 781.4,592.0 C787.0,593.2 792.7,594.5 798.4,594.5 C804.1,594.5 809.8,593.2 815.5,592.0 C821.2,590.8 826.9,587.5 832.6,587.5 C838.3,587.5 844.0,590.8 849.6,592.0 C855.3,593.2 861.0,594.5 866.7,594.5 C872.4,594.5 878.1,593.2 883.8,592.0 C889.5,590.8 895.2,587.5 900.9,587.5 C906.5,587.5 912.2,590.8 917.9,592.0 C923.6,593.2 932.2,594.1 935.0,594.5" fill="none" stroke="#747474" stroke-width="2.6" stroke-linejoin="round"/>
<path d="M696.0,594.0 C698.8,594.7 707.4,596.3 713.1,598.0 C718.8,599.7 724.5,604.0 730.1,604.0 C735.8,604.0 741.5,599.7 747.2,598.0 C752.9,596.3 758.6,594.0 764.3,594.0 C770.0,594.0 775.7,596.3 781.4,598.0 C787.0,599.7 792.7,604.0 798.4,604.0 C804.1,604.0 809.8,599.7 815.5,598.0 C821.2,596.3 826.9,594.0 832.6,594.0 C838.3,594.0 844.0,596.3 849.6,598.0 C855.3,599.7 861.0,604.0 866.7,604.0 C872.4,604.0 878.1,599.7 883.8,598.0 C889.5,596.3 895.2,594.0 900.9,594.0 C906.5,594.0 912.2,596.3 917.9,598.0 C923.6,599.7 932.2,603.0 935.0,604.0" fill="none" stroke="#747474" stroke-width="2.6" stroke-linejoin="round"/>
<path d="M696.0,603.0 C698.8,602.5 707.4,600.8 713.1,600.0 C718.8,599.2 724.5,598.0 730.1,598.0 C735.8,598.0 741.5,599.2 747.2,600.0 C752.9,600.8 758.6,603.0 764.3,603.0 C770.0,603.0 775.7,600.8 781.4,600.0 C787.0,599.2 792.7,598.0 798.4,598.0 C804.1,598.0 809.8,599.2 815.5,600.0 C821.2,600.8 826.9,603.0 832.6,603.0 C838.3,603.0 844.0,600.8 849.6,600.0 C855.3,599.2 861.0,598.0 866.7,598.0 C872.4,598.0 878.1,599.2 883.8,600.0 C889.5,600.8 895.2,603.0 900.9,603.0 C906.5,603.0 912.2,600.8 917.9,600.0 C923.6,599.2 932.2,598.3 935.0,598.0" fill="none" stroke="#747474" stroke-width="2.6" stroke-linejoin="round"/>
<path d="M696.0,197.1 C697.4,196.3 701.7,194.3 704.5,192.3 C707.4,190.3 710.2,186.8 713.1,185.2 C715.9,183.6 718.8,182.8 721.6,183.0 C724.5,183.2 727.3,186.4 730.1,186.4 C733.0,186.4 735.8,183.2 738.7,183.0 C741.5,182.8 744.4,183.6 747.2,185.2 C750.1,186.8 752.9,190.3 755.8,192.3 C758.6,194.3 761.4,197.1 764.3,197.1 C767.1,197.1 770.0,194.3 772.8,192.3 C775.7,190.3 778.5,186.8 781.4,185.2 C784.2,183.6 787.0,182.8 789.9,183.0 C792.7,183.2 795.6,186.4 798.4,186.4 C801.3,186.4 804.1,183.2 807.0,183.0 C809.8,182.8 812.7,183.6 815.5,185.2 C818.3,186.8 821.2,190.3 824.0,192.3 C826.9,194.3 829.7,197.1 832.6,197.1 C835.4,197.1 838.3,194.3 841.1,192.3 C844.0,190.3 846.8,186.8 849.6,185.2 C852.5,183.6 855.3,182.8 858.2,183.0 C861.0,183.2 863.9,186.4 866.7,186.4 C869.6,186.4 872.4,183.2 875.3,183.0 C878.1,182.8 880.9,183.6 883.8,185.2 C886.6,186.8 889.5,190.3 892.3,192.3 C895.2,194.3 898.0,197.1 900.9,197.1 C903.7,197.1 906.5,194.3 909.4,192.3 C912.2,190.3 915.1,186.8 917.9,185.2 C920.8,183.6 923.6,182.8 926.5,183.0 C929.3,183.2 933.6,185.8 935.0,186.4" fill="none" stroke="#747474" stroke-width="4.2" stroke-linejoin="round"/>
<path d="M696.0,504.5 C697.4,503.6 701.7,500.6 704.5,499.0 C707.4,497.4 710.2,494.4 713.1,494.6 C715.9,494.8 718.8,497.9 721.6,500.0 C724.5,502.1 727.3,507.3 730.1,507.3 C733.0,507.3 735.8,502.1 738.7,500.0 C741.5,497.9 744.4,494.8 747.2,494.6 C750.1,494.4 752.9,497.4 755.8,499.0 C758.6,500.6 761.4,504.5 764.3,504.5 C767.1,504.5 770.0,500.6 772.8,499.0 C775.7,497.4 778.5,494.4 781.4,494.6 C784.2,494.8 787.0,497.9 789.9,500.0 C792.7,502.1 795.6,507.3 798.4,507.3 C801.3,507.3 804.1,502.1 807.0,500.0 C809.8,497.9 812.7,494.8 815.5,494.6 C818.3,494.4 821.2,497.4 824.0,499.0 C826.9,500.6 829.7,504.5 832.6,504.5 C835.4,504.5 838.3,500.6 841.1,499.0 C844.0,497.4 846.8,494.4 849.6,494.6 C852.5,494.8 855.3,497.9 858.2,500.0 C861.0,502.1 863.9,507.3 866.7,507.3 C869.6,507.3 872.4,502.1 875.3,500.0 C878.1,497.9 880.9,494.8 883.8,494.6 C886.6,494.4 889.5,497.4 892.3,499.0 C895.2,500.6 898.0,504.5 900.9,504.5 C903.7,504.5 906.5,500.6 909.4,499.0 C912.2,497.4 915.1,494.4 917.9,494.6 C920.8,494.8 923.6,497.9 926.5,500.0 C929.3,502.1 933.6,506.1 935.0,507.3" fill="none" stroke="#747474" stroke-width="4.2" stroke-linejoin="round"/>
</g>
<text x="472.6" y="81.9" font-size="34" text-anchor="start" font-weight="normal" font-style="normal" fill="#00b050" font-family='"Liberation Sans", sans-serif' >T</text>
<text x="454.5" y="184.9" font-size="34" text-anchor="start" font-weight="normal" font-style="normal" fill="#00b050" font-family='"Liberation Sans", sans-serif' >B</text>
<text x="449.9" y="223.6" font-size="34" text-anchor="start" font-weight="normal" font-style="normal" fill="#00b050" font-family='"Liberation Sans", sans-serif' >2</text>
<text x="479.6" y="287.9" font-size="34" text-anchor="start" font-weight="normal" font-style="normal" fill="#00b050" font-family='"Liberation Sans", sans-serif' >3</text>
<text x="570.9" y="94.1" font-size="34" text-anchor="start" font-weight="normal" font-style="normal" fill="#00b050" font-family='"Liberation Sans", sans-serif' >1</text>
<line x1="696" y1="48" x2="696" y2="608.5" stroke="#000" stroke-width="1.6" />
<line x1="730" y1="48" x2="730" y2="608.5" stroke="#000" stroke-width="2" stroke-dasharray="8.5 8.9"/>
<line x1="448.5" y1="116.5" x2="935" y2="116.5" stroke="#000" stroke-width="2" stroke-dasharray="8.5 8.5" stroke-dashoffset="-9"/>
<rect x="448.5" y="48" width="486.5" height="560.5" fill="none" stroke="#000" stroke-width="2.2" />
<line x1="461.5" y1="608.5" x2="461.5" y2="600.5" stroke="#000" stroke-width="1.8" />
<line x1="495" y1="608.5" x2="495" y2="600.5" stroke="#000" stroke-width="1.8" />
<line x1="528.5" y1="608.5" x2="528.5" y2="592.5" stroke="#000" stroke-width="1.8" />
<line x1="562" y1="608.5" x2="562" y2="600.5" stroke="#000" stroke-width="1.8" />
<line x1="595.5" y1="608.5" x2="595.5" y2="600.5" stroke="#000" stroke-width="1.8" />
<line x1="629" y1="608.5" x2="629" y2="600.5" stroke="#000" stroke-width="1.8" />
<line x1="662.5" y1="608.5" x2="662.5" y2="600.5" stroke="#000" stroke-width="1.8" />
<line x1="696" y1="608.5" x2="696" y2="592.5" stroke="#000" stroke-width="1.8" />
<line x1="729.5" y1="608.5" x2="729.5" y2="600.5" stroke="#000" stroke-width="1.8" />
<line x1="763" y1="608.5" x2="763" y2="600.5" stroke="#000" stroke-width="1.8" />
<line x1="796.5" y1="608.5" x2="796.5" y2="600.5" stroke="#000" stroke-width="1.8" />
<line x1="830" y1="608.5" x2="830" y2="600.5" stroke="#000" stroke-width="1.8" />
<line x1="863.5" y1="608.5" x2="863.5" y2="592.5" stroke="#000" stroke-width="1.8" />
<line x1="897" y1="608.5" x2="897" y2="600.5" stroke="#000" stroke-width="1.8" />
<line x1="930.5" y1="608.5" x2="930.5" y2="600.5" stroke="#000" stroke-width="1.8" />
<text transform="translate(528.5,653) scale(1,1.035)" font-size="40" text-anchor="middle" font-weight="normal" font-style="normal" fill="#000" font-family='"Liberation Sans", sans-serif' >-0.5</text>
<text transform="translate(696,653) scale(1,1.035)" font-size="40" text-anchor="middle" font-weight="normal" font-style="normal" fill="#000" font-family='"Liberation Sans", sans-serif' >0.0</text>
<text transform="translate(863.5,653) scale(1,1.035)" font-size="40" text-anchor="middle" font-weight="normal" font-style="normal" fill="#000" font-family='"Liberation Sans", sans-serif' >0.5</text>
<line x1="448.5" y1="116.5" x2="464.5" y2="116.5" stroke="#000" stroke-width="1.8" />
<text transform="translate(439.5,130.5) scale(1,1.035)" font-size="40" text-anchor="end" font-weight="normal" font-style="normal" fill="#000" font-family='"Liberation Sans", sans-serif' >0.0</text>
<line x1="448.5" y1="231" x2="464.5" y2="231" stroke="#000" stroke-width="1.8" />
<text transform="translate(439.5,245) scale(1,1.035)" font-size="40" text-anchor="end" font-weight="normal" font-style="normal" fill="#000" font-family='"Liberation Sans", sans-serif' >0.5</text>
<line x1="448.5" y1="345.5" x2="464.5" y2="345.5" stroke="#000" stroke-width="1.8" />
<text transform="translate(439.5,359.5) scale(1,1.035)" font-size="40" text-anchor="end" font-weight="normal" font-style="normal" fill="#000" font-family='"Liberation Sans", sans-serif' >1.0</text>
<line x1="448.5" y1="460" x2="464.5" y2="460" stroke="#000" stroke-width="1.8" />
<text transform="translate(439.5,474) scale(1,1.035)" font-size="40" text-anchor="end" font-weight="normal" font-style="normal" fill="#000" font-family='"Liberation Sans", sans-serif' >1.5</text>
<line x1="448.5" y1="574.5" x2="464.5" y2="574.5" stroke="#000" stroke-width="1.8" />
<text transform="translate(439.5,588.5) scale(1,1.035)" font-size="40" text-anchor="end" font-weight="normal" font-style="normal" fill="#000" font-family='"Liberation Sans", sans-serif' >2.0</text>
<text x="445.6" y="35.8" font-size="47.6" text-anchor="start" font-weight="normal" font-style="normal" fill="#000" font-family='"Liberation Sans", sans-serif' >X</text>
<text x="687.2" y="33.4" font-size="47.6" text-anchor="start" font-weight="normal" font-style="normal" fill="#000" font-family='"Liberation Sans", sans-serif' >Γ</text>
<text x="723.5" y="33.4" font-size="47.6" text-anchor="start" font-weight="normal" font-style="normal" fill="#000" font-family='"Liberation Sans", sans-serif' >Z'</text>
<text x="907.8" y="33.4" font-size="47.6" text-anchor="start" font-weight="normal" font-style="normal" fill="#000" font-family='"Liberation Sans", sans-serif' >Z</text>
<text transform="translate(375.5,62.7) scale(1,1.07)" font-size="54" text-anchor="start" font-weight="bold" font-style="normal" fill="#000" font-family='"Liberation Sans", sans-serif' >a</text>
<text x="639.3" y="712" font-size="40" text-anchor="start" font-weight="normal" font-style="italic" fill="#000" font-family='"Liberation Sans", sans-serif' >k</text>
<line x1="666.2" y1="702.5" x2="666.2" y2="727.5" stroke="#000" stroke-width="2.2" />
<line x1="673.4" y1="702.5" x2="673.4" y2="727.5" stroke="#000" stroke-width="2.2" />
<text x="681.3" y="712" font-size="40" text-anchor="start" font-weight="normal" font-style="normal" fill="#000" font-family='"Liberation Sans", sans-serif' >(</text>
<text x="697.7" y="712" font-size="40" text-anchor="start" font-weight="normal" font-style="normal" fill="#000" font-family='"Liberation Sans", sans-serif' >Å</text>
<text x="719.8" y="691.8" font-size="28" text-anchor="start" font-weight="normal" font-style="normal" fill="#000" font-family='"Liberation Sans", sans-serif' >-1</text>
<text x="745.8" y="712" font-size="40" text-anchor="start" font-weight="normal" font-style="normal" fill="#000" font-family='"Liberation Sans", sans-serif' >)</text>
<text transform="translate(44,302.5) rotate(-90)" font-size="40.5" text-anchor="middle" font-family='"Liberation Sans", sans-serif'><tspan font-style="italic">E</tspan> (eV)</text>
<line x1="160" y1="134.8" x2="357.5" y2="134.8" stroke="#000" stroke-width="1.8" stroke-dasharray="8 6"/>
<polyline points="160,64.4 225.9,126 234.2,135.5 294.7,212.5" fill="none" stroke="#5dbf4b" stroke-width="3.2" stroke-linejoin="round" />
<polyline points="160,64.4 225.9,126 234.2,135.5 294.7,212.5" fill="none" stroke="#000" stroke-width="2.5" stroke-linejoin="round" stroke-dasharray="7 5"/>
<polyline points="236.6,47.8 300.6,133.1 355.1,212.5" fill="none" stroke="#5dbf4b" stroke-width="3.2" stroke-linejoin="round" />
<polyline points="236.6,47.8 300.6,133.1 355.1,212.5" fill="none" stroke="#000" stroke-width="2.5" stroke-linejoin="round" stroke-dasharray="7 5"/>
<rect x="160" y="47.3" width="197.5" height="165.2" fill="none" stroke="#000" stroke-width="2.0" />
<line x1="160" y1="90.9" x2="174" y2="90.9" stroke="#000" stroke-width="1.6" />
<line x1="160" y1="113.1" x2="168" y2="113.1" stroke="#000" stroke-width="1.6" />
<line x1="160" y1="157.5" x2="168" y2="157.5" stroke="#000" stroke-width="1.6" />
<line x1="160" y1="179.7" x2="174" y2="179.7" stroke="#000" stroke-width="1.6" />
<line x1="160" y1="201.9" x2="168" y2="201.9" stroke="#000" stroke-width="1.6" />
<line x1="167.9" y1="212.5" x2="167.9" y2="198.5" stroke="#000" stroke-width="1.6" />
<line x1="199.4" y1="212.5" x2="199.4" y2="204.5" stroke="#000" stroke-width="1.6" />
<line x1="230.9" y1="212.5" x2="230.9" y2="204.5" stroke="#000" stroke-width="1.6" />
<line x1="262.4" y1="212.5" x2="262.4" y2="204.5" stroke="#000" stroke-width="1.6" />
<line x1="293.9" y1="212.5" x2="293.9" y2="204.5" stroke="#000" stroke-width="1.6" />
<line x1="325.4" y1="212.5" x2="325.4" y2="198.5" stroke="#000" stroke-width="1.6" />
<text x="151" y="101.5" font-size="33.5" text-anchor="end" font-weight="normal" font-style="normal" fill="#000" font-family='"Liberation Sans", sans-serif' >-0.02</text>
<text x="151" y="190.3" font-size="33.5" text-anchor="end" font-weight="normal" font-style="normal" fill="#000" font-family='"Liberation Sans", sans-serif' >0.02</text>
<text x="167.9" y="250.8" font-size="33.5" text-anchor="middle" font-weight="normal" font-style="normal" fill="#000" font-family='"Liberation Sans", sans-serif' >-0.7</text>
<text x="325.5" y="250.8" font-size="33.5" text-anchor="middle" font-weight="normal" font-style="normal" fill="#000" font-family='"Liberation Sans", sans-serif' >-0.675</text>
<text x="334" y="92" font-size="40" text-anchor="start" font-weight="normal" font-style="italic" fill="#000" font-family='"Liberation Serif", serif' >i</text>
<line x1="157.7" y1="329" x2="359.8" y2="329" stroke="#000" stroke-width="1.8" stroke-dasharray="8 6"/>
<polyline points="157.7,270.2 330.2,388.8" fill="none" stroke="#5dbf4b" stroke-width="3.2" stroke-linejoin="round" />
<polyline points="157.7,270.2 330.2,388.8" fill="none" stroke="#000" stroke-width="2.5" stroke-linejoin="round" stroke-dasharray="7 5"/>
<polyline points="176.1,270.2 357.5,388.8" fill="none" stroke="#5dbf4b" stroke-width="3.2" stroke-linejoin="round" />
<polyline points="176.1,270.2 357.5,388.8" fill="none" stroke="#000" stroke-width="2.5" stroke-linejoin="round" stroke-dasharray="7 5"/>
<rect x="157.7" y="269.8" width="202.1" height="119" fill="none" stroke="#000" stroke-width="2.0" />
<line x1="157.7" y1="281.6" x2="165.7" y2="281.6" stroke="#000" stroke-width="1.6" />
<line x1="157.7" y1="293.5" x2="165.7" y2="293.5" stroke="#000" stroke-width="1.6" />
<line x1="157.7" y1="305.3" x2="165.7" y2="305.3" stroke="#000" stroke-width="1.6" />
<line x1="157.7" y1="317.2" x2="165.7" y2="317.2" stroke="#000" stroke-width="1.6" />
<line x1="157.7" y1="341.4" x2="165.7" y2="341.4" stroke="#000" stroke-width="1.6" />
<line x1="157.7" y1="353.2" x2="165.7" y2="353.2" stroke="#000" stroke-width="1.6" />
<line x1="157.7" y1="364.6" x2="165.7" y2="364.6" stroke="#000" stroke-width="1.6" />
<line x1="157.7" y1="376.4" x2="165.7" y2="376.4" stroke="#000" stroke-width="1.6" />
<line x1="195.1" y1="388.8" x2="195.1" y2="374.8" stroke="#000" stroke-width="1.6" />
<line x1="236.1" y1="388.8" x2="236.1" y2="380.8" stroke="#000" stroke-width="1.6" />
<line x1="276.9" y1="388.8" x2="276.9" y2="380.8" stroke="#000" stroke-width="1.6" />
<line x1="317.9" y1="388.8" x2="317.9" y2="374.8" stroke="#000" stroke-width="1.6" />
<text x="148.5" y="280.5" font-size="33.5" text-anchor="end" font-weight="normal" font-style="normal" fill="#000" font-family='"Liberation Sans", sans-serif' >-0.01</text>
<text x="148.5" y="339.6" font-size="33.5" text-anchor="end" font-weight="normal" font-style="normal" fill="#000" font-family='"Liberation Sans", sans-serif' >0.0</text>
<text x="148.5" y="399" font-size="33.5" text-anchor="end" font-weight="normal" font-style="normal" fill="#000" font-family='"Liberation Sans", sans-serif' >0.01</text>
<text x="194.5" y="425" font-size="33.5" text-anchor="middle" font-weight="normal" font-style="normal" fill="#000" font-family='"Liberation Sans", sans-serif' >-0.635</text>
<text x="318.4" y="425" font-size="33.5" text-anchor="middle" font-weight="normal" font-style="normal" fill="#000" font-family='"Liberation Sans", sans-serif' >-0.632</text>
<text x="323" y="307.7" font-size="40" text-anchor="start" font-weight="normal" font-style="italic" fill="#000" font-family='"Liberation Serif", serif' >ii</text>
<line x1="160" y1="518.2" x2="366" y2="518.2" stroke="#000" stroke-width="1.8" stroke-dasharray="8 6"/>
<polyline points="160.8,602.6 271,442.2" fill="none" stroke="#5dbf4b" stroke-width="3.2" stroke-linejoin="round" />
<polyline points="160.8,602.6 271,442.2" fill="none" stroke="#000" stroke-width="2.5" stroke-linejoin="round" stroke-dasharray="7 5"/>
<polyline points="278.6,605.9 362.3,442.2" fill="none" stroke="#5dbf4b" stroke-width="3.2" stroke-linejoin="round" />
<polyline points="278.6,605.9 362.3,442.2" fill="none" stroke="#000" stroke-width="2.5" stroke-linejoin="round" stroke-dasharray="7 5"/>
<rect x="160" y="440.7" width="206" height="165.2" fill="none" stroke="#000" stroke-width="2.0" />
<line x1="160" y1="475.4" x2="168" y2="475.4" stroke="#000" stroke-width="1.6" />
<line x1="160" y1="560.3" x2="168" y2="560.3" stroke="#000" stroke-width="1.6" />
<line x1="160" y1="602.6" x2="174" y2="602.6" stroke="#000" stroke-width="1.6" />
<line x1="196" y1="605.9" x2="196" y2="597.9" stroke="#000" stroke-width="1.6" />
<line x1="233.8" y1="605.9" x2="233.8" y2="591.9" stroke="#000" stroke-width="1.6" />
<line x1="271" y1="605.9" x2="271" y2="597.9" stroke="#000" stroke-width="1.6" />
<line x1="308.1" y1="605.9" x2="308.1" y2="597.9" stroke="#000" stroke-width="1.6" />
<line x1="345.9" y1="605.9" x2="345.9" y2="591.9" stroke="#000" stroke-width="1.6" />
<text x="150.5" y="528.3" font-size="33.5" text-anchor="end" font-weight="normal" font-style="normal" fill="#000" font-family='"Liberation Sans", sans-serif' >0.0</text>
<text x="150.5" y="612.7" font-size="33.5" text-anchor="end" font-weight="normal" font-style="normal" fill="#000" font-family='"Liberation Sans", sans-serif' >0.02</text>
<text x="233.2" y="642.9" font-size="33.5" text-anchor="middle" font-weight="normal" font-style="normal" fill="#000" font-family='"Liberation Sans", sans-serif' >-0.53</text>
<text x="345.3" y="642.9" font-size="33.5" text-anchor="middle" font-weight="normal" font-style="normal" fill="#000" font-family='"Liberation Sans", sans-serif' >-0.52</text>
<text x="323" y="585" font-size="40" text-anchor="start" font-weight="normal" font-style="italic" fill="#000" font-family='"Liberation Serif", serif' >iii</text>
<line x1="1140.4" y1="54.7" x2="1140.4" y2="225.6" stroke="#000" stroke-width="1.6" />
<polyline points="1026.5,54.7 1040.2,88 1063,141.2 1088.8,171.6 1114.6,187.7 1140.4,192.2" fill="none" stroke="#5dbf4b" stroke-width="3.2" stroke-linejoin="round" />
<polyline points="1026.5,54.7 1040.2,88 1063,141.2 1088.8,171.6 1114.6,187.7 1140.4,192.2" fill="none" stroke="#000" stroke-width="2.5" stroke-linejoin="round" stroke-dasharray="7 5"/>
<polyline points="1017.4,54.7 1037.2,97.2 1063,156.4 1088.8,189.8 1114.6,206.5 1140.4,210.1" fill="none" stroke="#5dbf4b" stroke-width="3.2" stroke-linejoin="round" />
<polyline points="1017.4,54.7 1037.2,97.2 1063,156.4 1088.8,189.8 1114.6,206.5 1140.4,210.1" fill="none" stroke="#000" stroke-width="2.5" stroke-linejoin="round" stroke-dasharray="7 5"/>
<polyline points="1140.4,191.3 1164.7,170 1189,133.6 1214.8,94.1 1239.1,72.9 1263.4,59.2" fill="none" stroke="#5dbf4b" stroke-width="2.6" stroke-linejoin="round" stroke-dasharray="7.5 5.5"/>
<polyline points="1140.4,210.1 1164.7,194.3 1189,176.1 1214.8,136.7 1239.1,100.2 1263.4,74.4" fill="none" stroke="#5dbf4b" stroke-width="2.6" stroke-linejoin="round" stroke-dasharray="7.5 5.5"/>
<polyline points="1140.4,192.2 1164.7,185.2 1214.8,118.4 1239.1,95.7 1263.4,62.3" fill="none" stroke="#000" stroke-width="2.6" stroke-linejoin="round" />
<polyline points="1140.4,210.1 1164.7,201 1189,173.1 1239.1,100.2 1263.4,101.7" fill="none" stroke="#000" stroke-width="2.6" stroke-linejoin="round" />
<rect x="1017.4" y="54.7" width="246" height="170.9" fill="none" stroke="#000" stroke-width="2.0" />
<line x1="1017.4" y1="63.8" x2="1025.6" y2="63.8" stroke="#000" stroke-width="1.6" />
<line x1="1017.4" y1="111.8" x2="1025.6" y2="111.8" stroke="#000" stroke-width="1.6" />
<line x1="1017.4" y1="130.6" x2="1025.6" y2="130.6" stroke="#000" stroke-width="1.6" />
<line x1="1017.4" y1="149.7" x2="1025.6" y2="149.7" stroke="#000" stroke-width="1.6" />
<line x1="1017.4" y1="168.8" x2="1025.6" y2="168.8" stroke="#000" stroke-width="1.6" />
<line x1="1017.4" y1="207.4" x2="1025.6" y2="207.4" stroke="#000" stroke-width="1.6" />
<line x1="1017.4" y1="92.6" x2="1031.4" y2="92.6" stroke="#000" stroke-width="1.6" />
<line x1="1017.4" y1="188.3" x2="1031.4" y2="188.3" stroke="#000" stroke-width="1.6" />
<line x1="1058.4" y1="225.6" x2="1058.4" y2="217.1" stroke="#000" stroke-width="1.6" />
<line x1="1099.4" y1="225.6" x2="1099.4" y2="217.1" stroke="#000" stroke-width="1.6" />
<line x1="1181.4" y1="225.6" x2="1181.4" y2="217.1" stroke="#000" stroke-width="1.6" />
<line x1="1222.4" y1="225.6" x2="1222.4" y2="217.1" stroke="#000" stroke-width="1.6" />
<text x="1009" y="103.2" font-size="33.5" text-anchor="end" font-weight="normal" font-style="normal" fill="#000" font-family='"Liberation Sans", sans-serif' >0.30</text>
<text x="1009" y="198.9" font-size="33.5" text-anchor="end" font-weight="normal" font-style="normal" fill="#000" font-family='"Liberation Sans", sans-serif' >0.35</text>
<text x="1017.4" y="264.2" font-size="33.5" text-anchor="middle" font-weight="normal" font-style="normal" fill="#000" font-family='"Liberation Sans", sans-serif' >-0.06</text>
<text x="1262.6" y="264.2" font-size="33.5" text-anchor="middle" font-weight="normal" font-style="normal" fill="#000" font-family='"Liberation Sans", sans-serif' >0.06</text>
<text x="1216" y="202" font-size="40" text-anchor="start" font-weight="normal" font-style="italic" fill="#000" font-family='"Liberation Serif", serif' >iv</text>
<line x1="1143" y1="280.2" x2="1143" y2="604" stroke="#000" stroke-width="1.6" />
<polyline points="1020.3,378.3 1039.6,359 1065.5,312.3 1091,337.8 1115.9,365.9 1143,370.5" fill="none" stroke="#5dbf4b" stroke-width="3.2" stroke-linejoin="round" />
<polyline points="1020.3,378.3 1039.6,359 1065.5,312.3 1091,337.8 1115.9,365.9 1143,370.5" fill="none" stroke="#000" stroke-width="2.5" stroke-linejoin="round" stroke-dasharray="7 5"/>
<polyline points="1020.3,403.8 1039.6,367.4 1065.5,340.3 1091,362.7 1115.9,391.4 1143,400.7" fill="none" stroke="#5dbf4b" stroke-width="3.2" stroke-linejoin="round" />
<polyline points="1020.3,403.8 1039.6,367.4 1065.5,340.3 1091,362.7 1115.9,391.4 1143,400.7" fill="none" stroke="#000" stroke-width="2.5" stroke-linejoin="round" stroke-dasharray="7 5"/>
<polyline points="1020.3,450 1039.6,405.7 1065.5,403.2 1091,414.1 1115.9,434.4 1143,447.7" fill="none" stroke="#5dbf4b" stroke-width="3.2" stroke-linejoin="round" />
<polyline points="1020.3,450 1039.6,405.7 1065.5,403.2 1091,414.1 1115.9,434.4 1143,447.7" fill="none" stroke="#000" stroke-width="2.5" stroke-linejoin="round" stroke-dasharray="7 5"/>
<polyline points="1020.3,473.3 1039.6,444.3 1065.5,442.1 1091,455.5 1115.9,488.8 1143,506.9" fill="none" stroke="#5dbf4b" stroke-width="3.2" stroke-linejoin="round" />
<polyline points="1020.3,473.3 1039.6,444.3 1065.5,442.1 1091,455.5 1115.9,488.8 1143,506.9" fill="none" stroke="#000" stroke-width="2.5" stroke-linejoin="round" stroke-dasharray="7 5"/>
<polyline points="1143,370.5 1167.3,348.7 1190.6,295.8 1212.4,280.2" fill="none" stroke="#5dbf4b" stroke-width="2.6" stroke-linejoin="round" stroke-dasharray="7.5 5.5"/>
<polyline points="1143,400.7 1167.3,372.1 1190.6,337.8 1217.1,312.9 1241.4,298.9 1265.3,320.7" fill="none" stroke="#5dbf4b" stroke-width="2.6" stroke-linejoin="round" stroke-dasharray="7.5 5.5"/>
<polyline points="1143,447.7 1167.3,440.6 1190.6,459.3 1217.1,487.3 1241.4,513.7 1265.3,541.8" fill="none" stroke="#5dbf4b" stroke-width="2.6" stroke-linejoin="round" stroke-dasharray="7.5 5.5"/>
<polyline points="1143,506.9 1167.3,513.7 1179.7,546.4 1204.6,604" fill="none" stroke="#5dbf4b" stroke-width="2.6" stroke-linejoin="round" stroke-dasharray="7.5 5.5"/>
<polyline points="1143,370.5 1167.3,355 1217.1,300.5 1245.1,280.2" fill="none" stroke="#000" stroke-width="2.6" stroke-linejoin="round" />
<polyline points="1143,400.7 1167.3,393.2 1190.6,352.8 1217.1,320.1 1241.4,308.3 1265.3,340.3" fill="none" stroke="#000" stroke-width="2.6" stroke-linejoin="round" />
<polyline points="1143,447.7 1167.3,471.1 1191.6,482.6 1217.1,504.4 1241.4,527.8 1265.3,552.7" fill="none" stroke="#000" stroke-width="2.6" stroke-linejoin="round" />
<polyline points="1143,506.9 1158,549.5 1179.1,604" fill="none" stroke="#000" stroke-width="2.6" stroke-linejoin="round" />
<rect x="1020.3" y="280.2" width="245" height="323.8" fill="none" stroke="#000" stroke-width="2.0" />
<line x1="1020.3" y1="301.4" x2="1028.5" y2="301.4" stroke="#000" stroke-width="1.6" />
<line x1="1020.3" y1="323.2" x2="1028.5" y2="323.2" stroke="#000" stroke-width="1.6" />
<line x1="1020.3" y1="344.7" x2="1028.5" y2="344.7" stroke="#000" stroke-width="1.6" />
<line x1="1020.3" y1="366.5" x2="1028.5" y2="366.5" stroke="#000" stroke-width="1.6" />
<line x1="1020.3" y1="409.4" x2="1028.5" y2="409.4" stroke="#000" stroke-width="1.6" />
<line x1="1020.3" y1="431.2" x2="1028.5" y2="431.2" stroke="#000" stroke-width="1.6" />
<line x1="1020.3" y1="452.4" x2="1028.5" y2="452.4" stroke="#000" stroke-width="1.6" />
<line x1="1020.3" y1="474.2" x2="1028.5" y2="474.2" stroke="#000" stroke-width="1.6" />
<line x1="1020.3" y1="496" x2="1028.5" y2="496" stroke="#000" stroke-width="1.6" />
<line x1="1020.3" y1="517.8" x2="1028.5" y2="517.8" stroke="#000" stroke-width="1.6" />
<line x1="1020.3" y1="539.6" x2="1028.5" y2="539.6" stroke="#000" stroke-width="1.6" />
<line x1="1020.3" y1="560.7" x2="1028.5" y2="560.7" stroke="#000" stroke-width="1.6" />
<line x1="1020.3" y1="582.2" x2="1028.5" y2="582.2" stroke="#000" stroke-width="1.6" />
<line x1="1020.3" y1="387.6" x2="1034.3" y2="387.6" stroke="#000" stroke-width="1.6" />
<line x1="1060.8" y1="604" x2="1060.8" y2="595.5" stroke="#000" stroke-width="1.6" />
<line x1="1101.3" y1="604" x2="1101.3" y2="595.5" stroke="#000" stroke-width="1.6" />
<line x1="1182.8" y1="604" x2="1182.8" y2="595.5" stroke="#000" stroke-width="1.6" />
<line x1="1223.9" y1="604" x2="1223.9" y2="595.5" stroke="#000" stroke-width="1.6" />
<text x="1010" y="398.5" font-size="33.5" text-anchor="end" font-weight="normal" font-style="normal" fill="#000" font-family='"Liberation Sans", sans-serif' >1.7</text>
<text x="1010" y="611.8" font-size="33.5" text-anchor="end" font-weight="normal" font-style="normal" fill="#000" font-family='"Liberation Sans", sans-serif' >1.8</text>
<text x="1019.4" y="643" font-size="33.5" text-anchor="middle" font-weight="normal" font-style="normal" fill="#000" font-family='"Liberation Sans", sans-serif' >-0.06</text>
<text x="1264.5" y="643" font-size="33.5" text-anchor="middle" font-weight="normal" font-style="normal" fill="#000" font-family='"Liberation Sans", sans-serif' >0.06</text>
<text x="1219" y="580.7" font-size="40" text-anchor="start" font-weight="normal" font-style="italic" fill="#000" font-family='"Liberation Serif", serif' >v</text>
<rect x="454.3" y="106.2" width="21.3" height="19.2" fill="none" stroke="#3b4cb4" stroke-width="1.4" />
<rect x="478.5" y="111.3" width="12.9" height="11" fill="none" stroke="#3b4cb4" stroke-width="1.4" />
<rect x="510.3" y="107.1" width="17.4" height="17.4" fill="none" stroke="#3b4cb4" stroke-width="1.4" />
<rect x="677" y="178.5" width="35.5" height="27.8" fill="none" stroke="#d8453b" stroke-width="1.4" />
<rect x="677.2" y="489.6" width="36.7" height="46.5" fill="none" stroke="#d8453b" stroke-width="1.4" />
<line x1="455.1" y1="124.5" x2="365.7" y2="168.8" stroke="#000" stroke-width="2.0" />
<path d="M357.6,172.8 L368.8,161.7 L367,168.1 L373.3,170.6 Z" fill="#000"/>
<line x1="484.5" y1="122.1" x2="370.6" y2="272.3" stroke="#000" stroke-width="2.0" />
<path d="M365.2,279.5 L370.3,264.5 L371.5,271.1 L378.2,270.6 Z" fill="#000"/>
<line x1="510.5" y1="124" x2="372.7" y2="458.3" stroke="#000" stroke-width="2.0" />
<path d="M369.3,466.6 L370.4,450.8 L373.3,456.9 L379.6,454.6 Z" fill="#000"/>
<line x1="713" y1="185" x2="1004.2" y2="123.4" stroke="#000" stroke-width="2.0" />
<path d="M1013,121.5 L999.4,129.5 L1002.7,123.7 L997.3,119.7 Z" fill="#000"/>
<line x1="714" y1="494.5" x2="1008.3" y2="462.7" stroke="#000" stroke-width="2.0" />
<path d="M1017.2,461.7 L1002.8,468.3 L1006.8,462.8 L1001.7,458.3 Z" fill="#000"/>
<defs><clipPath id="cb"><rect x="151.5" y="824" width="500.7" height="408"/></clipPath>
<filter id="bl1_5" filterUnits="userSpaceOnUse" x="0" y="0" width="1350" height="1349"><feGaussianBlur stdDeviation="1.5"/></filter>
<filter id="bl2_5" filterUnits="userSpaceOnUse" x="0" y="0" width="1350" height="1349"><feGaussianBlur stdDeviation="2.5"/></filter>
<filter id="bl3_5" filterUnits="userSpaceOnUse" x="0" y="0" width="1350" height="1349"><feGaussianBlur stdDeviation="3.5"/></filter>
<filter id="bl5" filterUnits="userSpaceOnUse" x="0" y="0" width="1350" height="1349"><feGaussianBlur stdDeviation="5"/></filter>
<filter id="bl7" filterUnits="userSpaceOnUse" x="0" y="0" width="1350" height="1349"><feGaussianBlur stdDeviation="7"/></filter>
<filter id="bl10" filterUnits="userSpaceOnUse" x="0" y="0" width="1350" height="1349"><feGaussianBlur stdDeviation="10"/></filter>
<linearGradient id="gtop" x1="0" y1="0" x2="0" y2="1"><stop offset="0" stop-color="#f8f8fc"/><stop offset="1" stop-color="#f4f3fa"/></linearGradient>
<linearGradient id="cbar_b" x1="0" y1="0" x2="0" y2="1"><stop offset="0" stop-color="#46137f"/><stop offset="0.3" stop-color="#56289a"/><stop offset="0.55" stop-color="#6b52a6"/><stop offset="0.75" stop-color="#8a84bf"/><stop offset="0.9" stop-color="#c8c6e2"/><stop offset="1" stop-color="#fafafc"/></linearGradient>
</defs>
<g clip-path="url(#cb)">
<rect x="151.5" y="824" width="500.7" height="408" fill="#d3d1ea"/>
<path d="M152,1000 C200,985 240,968 280,955" fill="none" stroke="#e6e5f3" stroke-width="10" stroke-opacity="0.6" stroke-linecap="round" filter="url(#bl5)"/>
<path d="M152,1050 C200,1035 250,1015 300,995 C330,985 360,982 400,985" fill="none" stroke="#e6e5f3" stroke-width="14" stroke-opacity="0.7" stroke-linecap="round" filter="url(#bl5)"/>
<path d="M160,1095 C200,1075 250,1050 290,1045 C330,1045 370,1050 403,1055" fill="none" stroke="#e6e5f3" stroke-width="12" stroke-opacity="0.6" stroke-linecap="round" filter="url(#bl5)"/>
<path d="M280,1140 C300,1110 330,1090 360,1085 C380,1083 395,1085 403,1087" fill="none" stroke="#e6e5f3" stroke-width="10" stroke-opacity="0.6" stroke-linecap="round" filter="url(#bl5)"/>
<path d="M310,1232 C330,1190 350,1150 380,1130 C390,1125 398,1122 403,1120" fill="none" stroke="#e6e5f3" stroke-width="14" stroke-opacity="0.8" stroke-linecap="round" filter="url(#bl5)"/>
<path d="M360,1232 C375,1200 390,1170 403,1150" fill="none" stroke="#e6e5f3" stroke-width="24" stroke-opacity="0.8" stroke-linecap="round" filter="url(#bl7)"/>
<path d="M150,1080 C200,1090 260,1110 300,1150 C320,1180 335,1210 345,1240 L150,1240 Z" fill="#7d72b8" fill-opacity="0.45" filter="url(#bl10)"/>
<path d="M150,990 C180,1000 200,1020 210,1060 L150,1080 Z" fill="#8a80c0" fill-opacity="0.35" filter="url(#bl10)"/>
<path d="M158,1000 C156,1080 156,1160 158,1232" fill="none" stroke="#8a80c0" stroke-width="18" stroke-opacity="0.8" stroke-linecap="round" filter="url(#bl7)"/>
<path d="M214,846 C205,868 195,885 188,895 C178,915 170,945 162,975 C158,985 155,992 152,998" fill="none" stroke="#7a6cb8" stroke-width="26" stroke-opacity="0.95" stroke-linecap="round" filter="url(#bl5)"/>
<path d="M226,985 C236,945 248,905 260,888 C270,878 280,900 289,930" fill="none" stroke="#a49dd2" stroke-width="12" stroke-opacity="0.9" stroke-linecap="round" filter="url(#bl3_5)"/>
<path d="M234,995 C244,955 255,920 266,905 C275,895 283,915 292,940" fill="none" stroke="#a49dd2" stroke-width="10" stroke-opacity="0.9" stroke-linecap="round" filter="url(#bl3_5)"/>
<path d="M240,940 C248,925 255,915 264,912 C272,912 280,925 288,945" fill="none" stroke="#e8e7f4" stroke-width="8" stroke-opacity="0.9" stroke-linecap="round" filter="url(#bl2_5)"/>
<path d="M276,850 C284,870 292,890 298,910" fill="none" stroke="#c9c5e4" stroke-width="8" stroke-opacity="0.7" stroke-linecap="round" filter="url(#bl3_5)"/>
<path d="M150,1004 C160,1000 175,994 212,975 C230,967 250,962 289,960" fill="none" stroke="#8a80c0" stroke-width="18" stroke-opacity="0.9" stroke-linecap="round" filter="url(#bl5)"/>
<path d="M150,1039 C165,1035 187,1029 224,1012 C240,1005 262,997 299,982 C310,978 318,976 324,975" fill="none" stroke="#8f86c3" stroke-width="14" stroke-opacity="0.85" stroke-linecap="round" filter="url(#bl5)"/>
<path d="M150,1074 C170,1066 200,1054 249,1032 C265,1025 287,1017 324,1007 C340,1004 352,1004 361,1004" fill="none" stroke="#8f86c3" stroke-width="14" stroke-opacity="0.8" stroke-linecap="round" filter="url(#bl5)"/>
<path d="M187,1111 C210,1095 237,1079 274,1059 C295,1048 310,1042 324,1039 C345,1034 362,1031 374,1031 C390,1032 398,1034 403,1036" fill="none" stroke="#786cb6" stroke-width="16" stroke-opacity="0.95" stroke-linecap="round" filter="url(#bl3_5)"/>
<path d="M150,1120 C165,1115 180,1112 190,1110" fill="none" stroke="#8a80c0" stroke-width="14" stroke-opacity="0.8" stroke-linecap="round" filter="url(#bl5)"/>
<path d="M237,1148 C255,1132 274,1116 311,1089 C328,1078 340,1072 349,1071 C365,1069 380,1069 386,1069 C395,1070 400,1072 403,1074" fill="none" stroke="#786cb6" stroke-width="16" stroke-opacity="0.95" stroke-linecap="round" filter="url(#bl3_5)"/>
<path d="M372,1078 C385,1078 395,1080 403,1082" fill="none" stroke="#5c3fa0" stroke-width="22" stroke-opacity="0.85" stroke-linecap="round" filter="url(#bl5)"/>
<path d="M262,1232 C275,1210 287,1192 299,1173 C315,1150 325,1140 336,1131 C350,1119 362,1111 374,1106 C385,1101 395,1099 403,1099" fill="none" stroke="#7d72b8" stroke-width="14" stroke-opacity="0.9" stroke-linecap="round" filter="url(#bl3_5)"/>
<path d="M330,1232 C345,1215 360,1200 375,1190 C388,1182 398,1178 403,1177" fill="none" stroke="#8a80c0" stroke-width="10" stroke-opacity="0.8" stroke-linecap="round" filter="url(#bl3_5)"/>
<path d="M150,1140 C170,1140 190,1145 212,1152 C228,1157 240,1165 250,1175" fill="none" stroke="#6a55ab" stroke-width="24" stroke-opacity="0.9" stroke-linecap="round" filter="url(#bl5)"/>
<path d="M150,1190 C170,1183 190,1178 210,1183 C230,1190 250,1205 262,1220 C268,1226 272,1230 274,1232" fill="none" stroke="#6a55ab" stroke-width="22" stroke-opacity="0.85" stroke-linecap="round" filter="url(#bl5)"/>
<path d="M150,1225 C170,1222 200,1222 230,1228" fill="none" stroke="#7466b3" stroke-width="16" stroke-opacity="0.8" stroke-linecap="round" filter="url(#bl5)"/>
<path d="M195,1232 C205,1210 220,1190 240,1170" fill="none" stroke="#8a80c0" stroke-width="14" stroke-opacity="0.6" stroke-linecap="round" filter="url(#bl5)"/>
<path d="M302,938 C330,937 370,939 403,941" fill="none" stroke="#6a4cad" stroke-width="42" stroke-opacity="1.0" stroke-linecap="round" filter="url(#bl5)"/>
<ellipse cx="403" cy="928" rx="55" ry="14" fill="#6a4cad" filter="url(#bl5)"/>
<path d="M305,943 C320,944 335,945 350,947" fill="none" stroke="#52309a" stroke-width="16" stroke-opacity="0.9" stroke-linecap="round" filter="url(#bl5)"/>
<path d="M350,953 C370,955 388,957 403,957" fill="none" stroke="#4a1a8a" stroke-width="22" stroke-opacity="0.95" stroke-linecap="round" filter="url(#bl5)"/>
<path d="M403,941 C440,939 480,938 520,940 C545,942 560,944 580,946" fill="none" stroke="#6a4cad" stroke-width="40" stroke-opacity="1.0" stroke-linecap="round" filter="url(#bl5)"/>
<path d="M403,957 C420,957 440,956 455,954" fill="none" stroke="#4a1a8a" stroke-width="22" stroke-opacity="0.9" stroke-linecap="round" filter="url(#bl5)"/>
<path d="M570,945 C590,940 610,935 640,935" fill="none" stroke="#8f83c4" stroke-width="24" stroke-opacity="0.85" stroke-linecap="round" filter="url(#bl5)"/>
<path d="M545,945 C560,935 575,935 585,945 C575,958 560,958 545,950" fill="none" stroke="#7a6cb8" stroke-width="5" stroke-opacity="0.6" stroke-linecap="round" filter="url(#bl2_5)"/>
<path d="M410,1000 C440,1000 470,1005 490,1015" fill="none" stroke="#e6e5f3" stroke-width="30" stroke-opacity="0.7" stroke-linecap="round" filter="url(#bl7)"/>
<path d="M415,1140 C430,1150 445,1170 455,1200" fill="none" stroke="#e6e5f3" stroke-width="22" stroke-opacity="0.8" stroke-linecap="round" filter="url(#bl7)"/>
<path d="M540,1000 C560,1020 580,1050 595,1080" fill="none" stroke="#e6e5f3" stroke-width="22" stroke-opacity="0.5" stroke-linecap="round" filter="url(#bl7)"/>
<path d="M403,1032 C430,1030 470,1036 510,1052 C545,1070 575,1100 600,1135 C610,1150 615,1160 620,1170" fill="none" stroke="#7d72b8" stroke-width="16" stroke-opacity="0.9" stroke-linecap="round" filter="url(#bl3_5)"/>
<path d="M403,1074 C425,1080 450,1095 470,1115 C490,1140 510,1170 525,1200 C532,1215 537,1225 540,1232" fill="none" stroke="#6e62b2" stroke-width="16" stroke-opacity="0.95" stroke-linecap="round" filter="url(#bl3_5)"/>
<path d="M403,1072 C415,1074 430,1080 440,1088" fill="none" stroke="#5c3fa0" stroke-width="24" stroke-opacity="0.85" stroke-linecap="round" filter="url(#bl5)"/>
<path d="M403,1098 C425,1103 445,1115 465,1138 C480,1160 492,1190 505,1232" fill="none" stroke="#8078bb" stroke-width="11" stroke-opacity="0.85" stroke-linecap="round" filter="url(#bl2_5)"/>
<path d="M412,1178 C428,1185 445,1195 460,1210 C468,1218 473,1226 477,1232" fill="none" stroke="#8078bb" stroke-width="10" stroke-opacity="0.75" stroke-linecap="round" filter="url(#bl2_5)"/>
<path d="M468,962 C485,980 505,1000 525,1022 C545,1045 565,1075 585,1110 C595,1130 603,1150 608,1165" fill="none" stroke="#8078bb" stroke-width="12" stroke-opacity="0.85" stroke-linecap="round" filter="url(#bl3_5)"/>
<path d="M505,962 C525,985 545,1010 562,1040 C575,1062 588,1090 598,1110" fill="none" stroke="#8a80c0" stroke-width="10" stroke-opacity="0.6" stroke-linecap="round" filter="url(#bl3_5)"/>
<path d="M638,950 C634,1000 628,1060 620,1110 C614,1150 608,1190 604,1232" fill="none" stroke="#5c3fa0" stroke-width="16" stroke-opacity="0.9" stroke-linecap="round" filter="url(#bl2_5)"/>
<path d="M630,1000 C626,1050 620,1100 612,1150" fill="none" stroke="#7466b3" stroke-width="18" stroke-opacity="0.6" stroke-linecap="round" filter="url(#bl5)"/>
<path d="M616,1130 C608,1165 600,1200 596,1232" fill="none" stroke="#5236a0" stroke-width="30" stroke-opacity="0.9" stroke-linecap="round" filter="url(#bl5)"/>
<path d="M580,1170 C586,1190 592,1210 596,1232" fill="none" stroke="#6a55ab" stroke-width="24" stroke-opacity="0.8" stroke-linecap="round" filter="url(#bl5)"/>
<path d="M140,810 L670,810 L670,920 C630,922 600,918 560,912 C500,906 450,906 400,908 C360,908 320,912 296,915 L245,930 L150,990 L140,990 Z" fill="#f8f8fb" filter="url(#bl5)"/>
<clipPath id="cb2"><rect x="140" y="848" width="200" height="200"/></clipPath><g clip-path="url(#cb2)">
<path d="M222,840 L150,998" fill="none" stroke="#8a80c0" stroke-width="28" stroke-opacity="0.9" stroke-linecap="round" filter="url(#bl5)"/>
<path d="M219,843 L155,985" fill="none" stroke="#6a55ab" stroke-width="12" stroke-opacity="0.85" stroke-linecap="round" filter="url(#bl3_5)"/>
</g>
<path d="M230,980 C238,945 248,905 260,888 C270,878 280,900 289,930" fill="none" stroke="#aaa4d4" stroke-width="10" stroke-opacity="0.8" stroke-linecap="round" filter="url(#bl3_5)"/>
<path d="M236,990 C246,955 255,920 266,905 C275,895 283,915 292,940" fill="none" stroke="#aaa4d4" stroke-width="8" stroke-opacity="0.8" stroke-linecap="round" filter="url(#bl3_5)"/>
<path d="M276,850 C284,870 292,890 298,910" fill="none" stroke="#d0cce8" stroke-width="7" stroke-opacity="0.8" stroke-linecap="round" filter="url(#bl3_5)"/>
<path d="M642,905 L670,905 L670,1240 L606,1240 C612,1180 626,1080 642,950 Z" fill="#fbfbfd" filter="url(#bl1_5)"/>
</g>
<path d="M213,852 C195,892 172,942 156,976 C152,986 160,996 168,996 C175,996 179,990 182,984 C196,945 212,895 226,852" stroke="#fff" stroke-width="1.3" fill="none" stroke-dasharray="4 3"/>
<path d="M241,922 C248,905 255,893 262,892 C270,892 278,905 285,918" stroke="#fff" stroke-width="1.3" fill="none" stroke-dasharray="4 3"/>
<path d="M238,940 C246,922 255,906 264,905 C272,905 280,915 288,928" stroke="#fff" stroke-width="1.3" fill="none" stroke-dasharray="4 3"/>
<path d="M236,955 C244,935 254,918 265,915 C273,915 281,925 290,938" stroke="#fff" stroke-width="1.3" fill="none" stroke-dasharray="4 3"/>
<path d="M285,861 C290,875 296,890 302,905" stroke="#fff" stroke-width="1.3" fill="none" stroke-dasharray="4 3"/>
<path d="M351,960 C360,942 375,925 388,915" stroke="#fff" stroke-width="1.3" fill="none" stroke-dasharray="4 3"/>
<path d="M420,916 C435,925 450,942 461,958" stroke="#fff" stroke-width="1.3" fill="none" stroke-dasharray="4 3"/>
<path d="M542,948 C550,940 560,935 572,935" stroke="#fff" stroke-width="1.3" fill="none" stroke-dasharray="4 3"/>
<path d="M542,948 C550,956 560,960 572,960" stroke="#fff" stroke-width="1.3" fill="none" stroke-dasharray="4 3"/>
<path d="M273,1059 C295,1045 320,1032 340,1030 C345,1030 350,1030 352,1031" stroke="#fff" stroke-width="1.3" fill="none" stroke-dasharray="4 3"/>
<path d="M311,1092 C320,1080 333,1067 350,1059" stroke="#fff" stroke-width="1.3" fill="none" stroke-dasharray="4 3"/>
<path d="M333,1148 C340,1135 348,1125 354,1118" stroke="#fff" stroke-width="1.3" fill="none" stroke-dasharray="4 3"/>
<path d="M338,1222 C348,1212 360,1205 368,1198" stroke="#fff" stroke-width="1.3" fill="none" stroke-dasharray="4 3"/>
<line x1="403.6" y1="824" x2="403.6" y2="1232" stroke="#000" stroke-width="2" />
<line x1="151.5" y1="849.9" x2="652.2" y2="849.9" stroke="#000" stroke-width="1.6" stroke-dasharray="5.3 3.2"/>
<rect x="151.5" y="824" width="500.7" height="408" fill="none" stroke="#000" stroke-width="2.2" />
<line x1="162.1" y1="1232" x2="162.1" y2="1224" stroke="#000" stroke-width="2" />
<line x1="196.6" y1="1232" x2="196.6" y2="1224" stroke="#000" stroke-width="2" />
<line x1="231.1" y1="1232" x2="231.1" y2="1217" stroke="#000" stroke-width="2" />
<line x1="265.6" y1="1232" x2="265.6" y2="1224" stroke="#000" stroke-width="2" />
<line x1="300.1" y1="1232" x2="300.1" y2="1224" stroke="#000" stroke-width="2" />
<line x1="334.6" y1="1232" x2="334.6" y2="1224" stroke="#000" stroke-width="2" />
<line x1="369.1" y1="1232" x2="369.1" y2="1224" stroke="#000" stroke-width="2" />
<line x1="403.6" y1="1232" x2="403.6" y2="1217" stroke="#000" stroke-width="2" />
<line x1="438.1" y1="1232" x2="438.1" y2="1224" stroke="#000" stroke-width="2" />
<line x1="472.6" y1="1232" x2="472.6" y2="1224" stroke="#000" stroke-width="2" />
<line x1="507.1" y1="1232" x2="507.1" y2="1224" stroke="#000" stroke-width="2" />
<line x1="541.6" y1="1232" x2="541.6" y2="1224" stroke="#000" stroke-width="2" />
<line x1="576.1" y1="1232" x2="576.1" y2="1217" stroke="#000" stroke-width="2" />
<line x1="610.6" y1="1232" x2="610.6" y2="1224" stroke="#000" stroke-width="2" />
<line x1="645.1" y1="1232" x2="645.1" y2="1224" stroke="#000" stroke-width="2" />
<line x1="151.5" y1="849.9" x2="166.5" y2="849.9" stroke="#000" stroke-width="2" />
<text x="140.5" y="866.4" font-size="40" text-anchor="end" font-weight="normal" font-style="normal" fill="#000" font-family='"Liberation Sans", sans-serif' letter-spacing="2" >0.0</text>
<line x1="151.5" y1="938.9" x2="166.5" y2="938.9" stroke="#000" stroke-width="2" />
<text x="140.5" y="955.4" font-size="40" text-anchor="end" font-weight="normal" font-style="normal" fill="#000" font-family='"Liberation Sans", sans-serif' letter-spacing="2" >0.5</text>
<line x1="151.5" y1="1027.9" x2="166.5" y2="1027.9" stroke="#000" stroke-width="2" />
<text x="140.5" y="1044.4" font-size="40" text-anchor="end" font-weight="normal" font-style="normal" fill="#000" font-family='"Liberation Sans", sans-serif' letter-spacing="2" >1.0</text>
<line x1="151.5" y1="1116.9" x2="166.5" y2="1116.9" stroke="#000" stroke-width="2" />
<text x="140.5" y="1133.4" font-size="40" text-anchor="end" font-weight="normal" font-style="normal" fill="#000" font-family='"Liberation Sans", sans-serif' letter-spacing="2" >1.5</text>
<line x1="151.5" y1="1205.9" x2="166.5" y2="1205.9" stroke="#000" stroke-width="2" />
<text x="140.5" y="1222.4" font-size="40" text-anchor="end" font-weight="normal" font-style="normal" fill="#000" font-family='"Liberation Sans", sans-serif' letter-spacing="2" >2.0</text>
<text x="232" y="1284.5" font-size="40" text-anchor="middle" font-weight="normal" font-style="normal" fill="#000" font-family='"Liberation Sans", sans-serif' letter-spacing="2" >0.5</text>
<text x="401.3" y="1284.5" font-size="40" text-anchor="middle" font-weight="normal" font-style="normal" fill="#000" font-family='"Liberation Sans", sans-serif' >0.0</text>
<text x="576.5" y="1284.5" font-size="40" text-anchor="middle" font-weight="normal" font-style="normal" fill="#000" font-family='"Liberation Sans", sans-serif' letter-spacing="2" >0.5</text>
<text transform="translate(158.5,808.2) scale(1,1.04)" font-size="48" text-anchor="start" font-weight="normal" font-style="normal" fill="#000" font-family='"Liberation Sans", sans-serif' >X</text>
<text transform="translate(401,806.7) scale(1,1.03)" font-size="48" text-anchor="start" font-weight="normal" font-style="normal" fill="#000" font-family='"Liberation Sans", sans-serif' >Γ</text>
<text x="616.7" y="807.8" font-size="48" text-anchor="start" font-weight="normal" font-style="normal" fill="#000" font-family='"Liberation Sans", sans-serif' >Z</text>
<text transform="translate(6.4,847) scale(1,0.985)" font-size="58" text-anchor="start" font-weight="bold" font-style="normal" fill="#000" font-family='"Liberation Sans", sans-serif' >b</text>
<text transform="translate(30.5,1017) rotate(-90)" font-size="40.5" text-anchor="middle" font-family='"Liberation Sans", sans-serif'><tspan font-style="italic">E</tspan> (eV)</text>
<rect x="682.5" y="939.5" width="18.5" height="259" fill="url(#cbar_b)" stroke="#000" stroke-width="1.6"/>
<text x="664.5" y="925.2" font-size="28.5" text-anchor="start" font-weight="normal" font-style="normal" fill="#000" font-family='"Liberation Sans", sans-serif' >max</text>
<text x="668.3" y="1229.2" font-size="28.5" text-anchor="start" font-weight="normal" font-style="normal" fill="#000" font-family='"Liberation Sans", sans-serif' >min</text>
<text transform="translate(716.5,936.5) rotate(90)" font-size="30.2" font-family='"Liberation Sans", sans-serif'>Intensity (arb. units)</text>
<line x1="564.7" y1="862" x2="564.7" y2="913" stroke="#e85d12" stroke-width="4.2"/>
<path d="M564.7,847.5 L574.2,866 L555.2,866 Z" fill="#e85d12"/>
<path d="M564.7,927.6 L574.2,909 L555.2,909 Z" fill="#e85d12"/>
<text transform="translate(283.4,881) scale(1,1.06)" font-size="27.5" text-anchor="start" font-weight="normal" font-style="normal" fill="#000" font-family='"Liberation Sans", sans-serif' >1</text>
<text transform="translate(167.6,911.2) scale(1,1.06)" font-size="27.5" text-anchor="start" font-weight="normal" font-style="normal" fill="#000" font-family='"Liberation Sans", sans-serif' >2</text>
<text transform="translate(189.8,995.7) scale(1,1.06)" font-size="27.5" text-anchor="start" font-weight="normal" font-style="normal" fill="#000" font-family='"Liberation Sans", sans-serif' >3</text>
<text transform="translate(235.1,887.5) scale(1,1.06)" font-size="27.5" text-anchor="start" font-weight="normal" font-style="normal" fill="#000" font-family='"Liberation Sans", sans-serif' >4</text>
<text transform="translate(339.1,906) scale(1,1.06)" font-size="27.5" text-anchor="start" font-weight="normal" font-style="normal" fill="#000" font-family='"Liberation Sans", sans-serif' >5</text>
<text transform="translate(375.1,956.5) scale(1,1.06)" font-size="27.5" text-anchor="start" font-weight="normal" font-style="normal" fill="#000" font-family='"Liberation Sans", sans-serif' >6</text>
<text transform="translate(224.6,950.5) scale(1,1.06)" font-size="27.5" text-anchor="start" font-weight="normal" font-style="normal" fill="#000" font-family='"Liberation Sans", sans-serif' >7</text>
<text transform="translate(228.9,993.8) scale(1,1.06)" font-size="27.5" text-anchor="start" font-weight="normal" font-style="normal" fill="#000" font-family='"Liberation Sans", sans-serif' >8</text>
<text transform="translate(325.2,1019) scale(1,1.06)" font-size="27.5" text-anchor="start" font-weight="normal" font-style="normal" fill="#000" font-family='"Liberation Sans", sans-serif' >9</text>
<text transform="translate(271.8,1103.3) scale(1,1.06)" font-size="27.5" text-anchor="start" font-weight="normal" font-style="normal" fill="#000" font-family='"Liberation Sans", sans-serif' >10</text>
<text transform="translate(302.8,1143) scale(1,1.06)" font-size="27.5" text-anchor="start" font-weight="normal" font-style="normal" fill="#000" font-family='"Liberation Sans", sans-serif' >11</text>
<text transform="translate(334.9,1188.3) scale(1,1.06)" font-size="27.5" text-anchor="start" font-weight="normal" font-style="normal" fill="#000" font-family='"Liberation Sans", sans-serif' >12</text>
<text transform="translate(521.2,923.3) scale(1,1.06)" font-size="27.5" text-anchor="start" font-weight="normal" font-style="normal" fill="#000" font-family='"Liberation Sans", sans-serif' >13</text>
<text transform="translate(511.4,987.5) scale(1,1.06)" font-size="27.5" text-anchor="start" font-weight="normal" font-style="normal" fill="#000" font-family='"Liberation Sans", sans-serif' >14</text>
<text transform="translate(410.7,960.1) scale(1,1.06)" font-size="27.5" text-anchor="start" font-weight="normal" font-style="normal" fill="#000" font-family='"Liberation Sans", sans-serif' >15</text>
<text transform="translate(432.9,1023) scale(1,1.06)" font-size="27.5" text-anchor="start" font-weight="normal" font-style="normal" fill="#000" font-family='"Liberation Sans", sans-serif' >16</text>
<text transform="translate(446.4,1099.6) scale(1,1.06)" font-size="27.5" text-anchor="start" font-weight="normal" font-style="normal" fill="#000" font-family='"Liberation Sans", sans-serif' >17</text>
<text transform="translate(485.4,1168.5) scale(1,1.06)" font-size="27.5" text-anchor="start" font-weight="normal" font-style="normal" fill="#000" font-family='"Liberation Sans", sans-serif' >18</text>
<text transform="translate(430.5,1184.6) scale(1,1.06)" font-size="27.5" text-anchor="start" font-weight="normal" font-style="normal" fill="#000" font-family='"Liberation Sans", sans-serif' >19</text>
<defs><clipPath id="cc"><rect x="769.3" y="823.8" width="490.7" height="408.2"/></clipPath>
<linearGradient id="cbar_c" x1="0" y1="0" x2="0" y2="1"><stop offset="0" stop-color="#050000"/><stop offset="0.12" stop-color="#2a0a05"/><stop offset="0.25" stop-color="#4a1a08"/><stop offset="0.38" stop-color="#704010"/><stop offset="0.5" stop-color="#86582a"/><stop offset="0.62" stop-color="#987050"/><stop offset="0.75" stop-color="#b09080"/><stop offset="0.87" stop-color="#d4bcb4"/><stop offset="1" stop-color="#faf8f0"/></linearGradient>
<filter id="cblur" filterUnits="userSpaceOnUse" x="0" y="0" width="1350" height="1349"><feGaussianBlur stdDeviation="1.6"/></filter>
</defs>
<g clip-path="url(#cc)">
<defs><g id="dk"><ellipse rx="2.7" ry="5" fill="#b87a45" fill-opacity="0.8"/><ellipse rx="1.7" ry="3.9" fill="#050100"/></g><g id="df"><ellipse rx="1.8" ry="3.8" fill="#b88058" fill-opacity="0.17"/></g></defs>
<use href="#df" x="879.1" y="852.2"/>
<use href="#df" x="883.2" y="856.9"/>
<use href="#df" x="887.4" y="862.8"/>
<use href="#df" x="891.6" y="870.7"/>
<use href="#df" x="895.7" y="881.6"/>
<use href="#df" x="899.9" y="896.2"/>
<use href="#df" x="904.0" y="909.3"/>
<use href="#df" x="908.2" y="923.3"/>
<use href="#df" x="912.3" y="938.8"/>
<use href="#df" x="916.5" y="957.0"/>
<use href="#df" x="887.4" y="888.3"/>
<use href="#df" x="891.6" y="892.9"/>
<use href="#df" x="895.7" y="899.9"/>
<use href="#df" x="899.9" y="909.6"/>
<use href="#df" x="904.0" y="922.9"/>
<use href="#df" x="883.2" y="826.7"/>
<use href="#df" x="887.4" y="838.3"/>
<use href="#df" x="891.6" y="850.6"/>
<use href="#df" x="895.7" y="863.1"/>
<use href="#df" x="991.2" y="829.3"/>
<use href="#df" x="995.3" y="833.9"/>
<use href="#df" x="999.5" y="837.6"/>
<use href="#df" x="1003.6" y="839.5"/>
<use href="#df" x="1007.8" y="840.0"/>
<use href="#df" x="1011.9" y="840.0"/>
<use href="#df" x="1016.1" y="839.6"/>
<use href="#df" x="1020.2" y="838.7"/>
<use href="#df" x="1024.4" y="836.6"/>
<use href="#df" x="1028.5" y="833.0"/>
<use href="#df" x="1032.7" y="829.6"/>
<use href="#df" x="1036.8" y="827.4"/>
<use href="#df" x="908.2" y="998.2"/>
<use href="#df" x="912.3" y="995.9"/>
<use href="#df" x="916.5" y="993.6"/>
<use href="#df" x="920.6" y="991.2"/>
<use href="#df" x="924.8" y="988.6"/>
<use href="#df" x="928.9" y="985.8"/>
<use href="#df" x="933.1" y="982.7"/>
<use href="#df" x="937.2" y="979.4"/>
<use href="#df" x="941.4" y="975.9"/>
<use href="#df" x="945.5" y="972.4"/>
<use href="#df" x="949.7" y="968.8"/>
<use href="#df" x="953.8" y="965.2"/>
<use href="#df" x="958.0" y="961.7"/>
<use href="#df" x="962.1" y="958.3"/>
<use href="#df" x="966.2" y="954.9"/>
<use href="#df" x="970.4" y="951.6"/>
<use href="#df" x="974.6" y="948.2"/>
<use href="#df" x="978.7" y="944.9"/>
<use href="#df" x="982.9" y="941.7"/>
<use href="#df" x="987.0" y="938.5"/>
<use href="#df" x="991.2" y="935.3"/>
<use href="#df" x="995.3" y="932.2"/>
<use href="#df" x="999.5" y="929.1"/>
<use href="#df" x="1003.6" y="926.0"/>
<use href="#df" x="862.5" y="1047.4"/>
<use href="#df" x="866.7" y="1043.1"/>
<use href="#df" x="870.8" y="1038.8"/>
<use href="#df" x="875.0" y="1034.7"/>
<use href="#df" x="879.1" y="1030.8"/>
<use href="#df" x="883.2" y="1027.2"/>
<use href="#df" x="887.4" y="1023.8"/>
<use href="#df" x="891.6" y="1020.5"/>
<use href="#df" x="895.7" y="1017.2"/>
<use href="#df" x="899.9" y="1014.0"/>
<use href="#df" x="904.0" y="1010.8"/>
<use href="#df" x="1032.7" y="958.5"/>
<use href="#df" x="1036.8" y="956.0"/>
<use href="#df" x="1041.0" y="953.5"/>
<use href="#df" x="1045.1" y="951.1"/>
<use href="#df" x="1049.2" y="948.9"/>
<use href="#df" x="1053.4" y="947.0"/>
<use href="#df" x="1057.6" y="945.6"/>
<use href="#df" x="1061.7" y="944.8"/>
<use href="#df" x="1065.9" y="944.6"/>
<use href="#df" x="1070.0" y="944.8"/>
<use href="#df" x="1074.2" y="945.5"/>
<use href="#df" x="1078.3" y="946.4"/>
<use href="#df" x="1082.5" y="947.6"/>
<use href="#df" x="1086.6" y="948.9"/>
<use href="#df" x="1090.8" y="950.3"/>
<use href="#df" x="1094.9" y="951.9"/>
<use href="#df" x="1099.1" y="953.8"/>
<use href="#df" x="1103.2" y="955.9"/>
<use href="#df" x="1107.4" y="958.2"/>
<use href="#df" x="1111.5" y="960.5"/>
<use href="#df" x="1115.7" y="962.7"/>
<use href="#df" x="1119.8" y="964.9"/>
<use href="#df" x="1124.0" y="967.0"/>
<use href="#df" x="1128.1" y="969.1"/>
<use href="#df" x="1132.2" y="971.1"/>
<use href="#df" x="1136.4" y="973.2"/>
<use href="#df" x="1140.6" y="975.3"/>
<use href="#df" x="1144.7" y="977.4"/>
<use href="#df" x="1148.9" y="979.4"/>
<use href="#df" x="1124.0" y="984.0"/>
<use href="#df" x="1128.1" y="988.1"/>
<use href="#df" x="1132.2" y="992.2"/>
<use href="#df" x="1136.4" y="996.4"/>
<use href="#df" x="1140.6" y="1000.6"/>
<use href="#df" x="1144.7" y="1004.8"/>
<use href="#df" x="1148.9" y="1009.1"/>
<use href="#df" x="1153.0" y="1013.4"/>
<use href="#df" x="1157.2" y="1017.4"/>
<use href="#df" x="1161.3" y="1021.2"/>
<use href="#df" x="1165.5" y="1025.0"/>
<use href="#df" x="1169.6" y="1028.7"/>
<use href="#df" x="1173.8" y="1032.0"/>
<use href="#df" x="1177.9" y="1034.3"/>
<use href="#df" x="1182.1" y="1035.4"/>
<use href="#df" x="1186.2" y="1035.4"/>
<use href="#df" x="1190.4" y="1034.6"/>
<use href="#df" x="1194.5" y="1033.0"/>
<use href="#df" x="1198.7" y="1030.8"/>
<use href="#df" x="1202.8" y="1027.9"/>
<use href="#df" x="1207.0" y="1024.0"/>
<use href="#df" x="1211.1" y="1019.4"/>
<use href="#df" x="1215.2" y="1014.7"/>
<use href="#df" x="1219.4" y="1010.5"/>
<use href="#df" x="1223.6" y="1007.0"/>
<use href="#df" x="1227.7" y="1003.9"/>
<use href="#df" x="1231.9" y="1000.8"/>
<use href="#df" x="1236.0" y="997.9"/>
<use href="#df" x="1061.7" y="1031.7"/>
<use href="#df" x="1065.9" y="1035.9"/>
<use href="#df" x="1070.0" y="1040.0"/>
<use href="#df" x="1074.2" y="1044.2"/>
<use href="#df" x="1078.3" y="1048.3"/>
<use href="#df" x="1082.5" y="1052.5"/>
<use href="#df" x="1086.6" y="1056.8"/>
<use href="#df" x="1090.8" y="1061.1"/>
<use href="#df" x="1094.9" y="1065.3"/>
<use href="#df" x="1099.1" y="1069.2"/>
<use href="#df" x="1103.2" y="1072.7"/>
<use href="#df" x="1107.4" y="1075.9"/>
<use href="#df" x="1111.5" y="1078.9"/>
<use href="#df" x="1115.7" y="1081.9"/>
<use href="#df" x="1119.8" y="1084.9"/>
<use href="#df" x="1190.4" y="959.7"/>
<use href="#df" x="1194.5" y="956.6"/>
<use href="#df" x="1198.7" y="953.5"/>
<use href="#df" x="1202.8" y="950.4"/>
<use href="#df" x="1207.0" y="947.3"/>
<use href="#df" x="1211.1" y="944.2"/>
<use href="#df" x="1215.2" y="940.9"/>
<use href="#df" x="1219.4" y="937.7"/>
<use href="#df" x="1223.6" y="934.5"/>
<use href="#df" x="1227.7" y="931.5"/>
<use href="#df" x="1231.9" y="928.9"/>
<use href="#df" x="1236.0" y="926.6"/>
<use href="#df" x="1240.2" y="924.6"/>
<use href="#df" x="1244.3" y="922.6"/>
<use href="#df" x="1248.5" y="920.7"/>
<use href="#df" x="775.4" y="1129.9"/>
<use href="#df" x="779.5" y="1129.1"/>
<use href="#df" x="783.7" y="1128.2"/>
<use href="#df" x="787.8" y="1127.4"/>
<use href="#df" x="792.0" y="1126.5"/>
<use href="#df" x="796.1" y="1125.7"/>
<use href="#df" x="800.2" y="1125.0"/>
<use href="#df" x="804.4" y="1124.2"/>
<use href="#df" x="808.6" y="1123.4"/>
<use href="#df" x="812.7" y="1122.7"/>
<use href="#df" x="816.9" y="1121.9"/>
<use href="#df" x="821.0" y="1121.3"/>
<use href="#df" x="825.2" y="1120.6"/>
<use href="#df" x="829.3" y="1120.1"/>
<use href="#df" x="833.5" y="1119.6"/>
<use href="#df" x="837.6" y="1119.2"/>
<use href="#df" x="841.8" y="1118.8"/>
<use href="#df" x="845.9" y="1118.5"/>
<use href="#df" x="850.1" y="1118.3"/>
<use href="#df" x="854.2" y="1118.1"/>
<use href="#df" x="858.4" y="1118.0"/>
<use href="#df" x="862.5" y="1118.0"/>
<use href="#df" x="866.7" y="1118.2"/>
<use href="#df" x="870.8" y="1118.4"/>
<use href="#df" x="875.0" y="1118.7"/>
<use href="#df" x="879.1" y="1119.1"/>
<use href="#df" x="883.2" y="1119.4"/>
<use href="#df" x="887.4" y="1119.8"/>
<use href="#df" x="775.4" y="1150.0"/>
<use href="#df" x="779.5" y="1149.7"/>
<use href="#df" x="783.7" y="1149.3"/>
<use href="#df" x="787.8" y="1149.0"/>
<use href="#df" x="792.0" y="1148.7"/>
<use href="#df" x="796.1" y="1148.3"/>
<use href="#df" x="800.2" y="1148.0"/>
<use href="#df" x="804.4" y="1147.6"/>
<use href="#df" x="808.6" y="1147.2"/>
<use href="#df" x="812.7" y="1146.9"/>
<use href="#df" x="816.9" y="1146.5"/>
<use href="#df" x="821.0" y="1146.1"/>
<use href="#df" x="825.2" y="1145.6"/>
<use href="#df" x="829.3" y="1145.1"/>
<use href="#df" x="833.5" y="1144.5"/>
<use href="#df" x="837.6" y="1143.9"/>
<use href="#df" x="841.8" y="1143.2"/>
<use href="#df" x="845.9" y="1142.5"/>
<use href="#df" x="850.1" y="1141.8"/>
<use href="#df" x="854.2" y="1141.0"/>
<use href="#df" x="858.4" y="1140.3"/>
<use href="#df" x="792.0" y="1059.0"/>
<use href="#df" x="796.1" y="1056.7"/>
<use href="#df" x="800.2" y="1054.4"/>
<use href="#df" x="804.4" y="1052.1"/>
<use href="#df" x="808.6" y="1050.0"/>
<use href="#df" x="812.7" y="1048.0"/>
<use href="#df" x="816.9" y="1046.2"/>
<use href="#df" x="821.0" y="1044.7"/>
<use href="#df" x="825.2" y="1043.6"/>
<use href="#df" x="829.3" y="1042.7"/>
<use href="#df" x="833.5" y="1042.0"/>
<use href="#df" x="837.6" y="1041.5"/>
<use href="#df" x="841.8" y="1041.0"/>
<use href="#df" x="845.9" y="1040.5"/>
<use href="#df" x="1231.9" y="878.8"/>
<use href="#df" x="1236.0" y="876.1"/>
<use href="#df" x="1240.2" y="873.3"/>
<use href="#df" x="1244.3" y="870.5"/>
<use href="#df" x="1248.5" y="867.5"/>
<use href="#df" x="1252.6" y="864.2"/>
<use href="#df" x="1256.8" y="861.0"/>
<use href="#df" x="1103.2" y="878.8"/>
<use href="#df" x="1107.4" y="877.3"/>
<use href="#df" x="1111.5" y="875.7"/>
<use href="#df" x="1115.7" y="874.2"/>
<use href="#df" x="1119.8" y="872.8"/>
<use href="#df" x="1124.0" y="871.5"/>
<use href="#df" x="1128.1" y="870.4"/>
<use href="#df" x="1132.2" y="869.6"/>
<use href="#df" x="1136.4" y="868.9"/>
<use href="#df" x="1140.6" y="868.5"/>
<use href="#df" x="1144.7" y="868.1"/>
<use href="#df" x="1148.9" y="868.0"/>
<use href="#df" x="1153.0" y="867.9"/>
<use href="#df" x="1157.2" y="867.9"/>
<use href="#df" x="1161.3" y="868.1"/>
<use href="#df" x="1165.5" y="868.3"/>
<use href="#df" x="1169.6" y="868.7"/>
<use href="#df" x="1173.8" y="869.2"/>
<use href="#df" x="1177.9" y="869.8"/>
<use href="#df" x="1182.1" y="870.5"/>
<use href="#df" x="1186.2" y="871.3"/>
<use href="#df" x="1190.4" y="872.1"/>
<use href="#df" x="1194.5" y="873.0"/>
<use href="#df" x="1198.7" y="874.0"/>
<use href="#df" x="1202.8" y="875.1"/>
<use href="#df" x="1207.0" y="876.3"/>
<use href="#df" x="1211.1" y="877.5"/>
<use href="#df" x="1215.2" y="878.7"/>
<use href="#df" x="1219.4" y="879.8"/>
<use href="#dk" x="771.2" y="943.3"/>
<use href="#dk" x="775.4" y="947.9"/>
<use href="#dk" x="779.5" y="948.2"/>
<use href="#dk" x="783.7" y="944.2"/>
<use href="#dk" x="787.8" y="939.0"/>
<use href="#dk" x="792.0" y="933.1"/>
<use href="#dk" x="796.1" y="926.9"/>
<use href="#dk" x="800.2" y="920.4"/>
<use href="#dk" x="804.4" y="913.6"/>
<use href="#dk" x="808.6" y="906.5"/>
<use href="#dk" x="812.7" y="899.1"/>
<use href="#dk" x="816.9" y="891.7"/>
<use href="#dk" x="821.0" y="884.2"/>
<use href="#dk" x="825.2" y="876.6"/>
<use href="#dk" x="829.3" y="869.0"/>
<use href="#dk" x="833.5" y="861.6"/>
<use href="#dk" x="837.6" y="854.0"/>
<use href="#dk" x="841.8" y="845.0"/>
<use href="#dk" x="845.9" y="835.5"/>
<use href="#dk" x="850.1" y="826.1"/>
<use href="#dk" x="771.2" y="961.8"/>
<use href="#dk" x="775.4" y="965.3"/>
<use href="#dk" x="779.5" y="969.3"/>
<use href="#dk" x="783.7" y="972.9"/>
<use href="#dk" x="787.8" y="975.6"/>
<use href="#dk" x="792.0" y="974.3"/>
<use href="#dk" x="796.1" y="970.2"/>
<use href="#dk" x="800.2" y="965.0"/>
<use href="#dk" x="804.4" y="958.3"/>
<use href="#dk" x="808.6" y="949.9"/>
<use href="#dk" x="812.7" y="941.1"/>
<use href="#dk" x="816.9" y="932.9"/>
<use href="#dk" x="821.0" y="924.8"/>
<use href="#dk" x="825.2" y="916.1"/>
<use href="#dk" x="829.3" y="906.7"/>
<use href="#dk" x="833.5" y="896.5"/>
<use href="#dk" x="837.6" y="883.9"/>
<use href="#dk" x="841.8" y="865.8"/>
<use href="#dk" x="845.9" y="847.7"/>
<use href="#dk" x="850.1" y="831.9"/>
<use href="#dk" x="875.0" y="851.0"/>
<use href="#dk" x="870.8" y="854.2"/>
<use href="#dk" x="866.7" y="861.2"/>
<use href="#dk" x="862.5" y="869.7"/>
<use href="#dk" x="858.4" y="878.5"/>
<use href="#dk" x="854.2" y="887.6"/>
<use href="#dk" x="850.1" y="897.0"/>
<use href="#dk" x="845.9" y="907.2"/>
<use href="#dk" x="841.8" y="917.2"/>
<use href="#dk" x="837.6" y="927.0"/>
<use href="#dk" x="833.5" y="936.6"/>
<use href="#dk" x="829.3" y="946.2"/>
<use href="#dk" x="825.2" y="955.7"/>
<use href="#dk" x="821.0" y="965.1"/>
<use href="#dk" x="816.9" y="974.2"/>
<use href="#dk" x="812.7" y="983.2"/>
<use href="#dk" x="808.6" y="992.0"/>
<use href="#dk" x="804.4" y="1001.0"/>
<use href="#dk" x="800.2" y="1010.0"/>
<use href="#dk" x="796.1" y="1019.0"/>
<use href="#dk" x="792.0" y="1027.8"/>
<use href="#dk" x="787.8" y="1036.4"/>
<use href="#dk" x="783.7" y="1044.6"/>
<use href="#dk" x="779.5" y="1052.4"/>
<use href="#dk" x="775.4" y="1059.1"/>
<use href="#dk" x="771.2" y="1064.9"/>
<use href="#dk" x="891.6" y="887.8"/>
<use href="#dk" x="887.4" y="885.9"/>
<use href="#dk" x="883.2" y="885.7"/>
<use href="#dk" x="879.1" y="889.9"/>
<use href="#dk" x="875.0" y="895.8"/>
<use href="#dk" x="870.8" y="902.5"/>
<use href="#dk" x="866.7" y="909.3"/>
<use href="#dk" x="862.5" y="916.4"/>
<use href="#dk" x="858.4" y="923.8"/>
<use href="#dk" x="854.2" y="931.4"/>
<use href="#dk" x="850.1" y="939.2"/>
<use href="#dk" x="845.9" y="947.6"/>
<use href="#dk" x="841.8" y="956.0"/>
<use href="#dk" x="837.6" y="964.0"/>
<use href="#dk" x="833.5" y="971.8"/>
<use href="#dk" x="829.3" y="979.4"/>
<use href="#dk" x="825.2" y="986.9"/>
<use href="#dk" x="821.0" y="994.1"/>
<use href="#dk" x="816.9" y="1001.1"/>
<use href="#dk" x="812.7" y="1008.0"/>
<use href="#dk" x="808.6" y="1014.6"/>
<use href="#dk" x="804.4" y="1021.0"/>
<use href="#dk" x="800.2" y="1027.6"/>
<use href="#dk" x="796.1" y="1034.6"/>
<use href="#dk" x="792.0" y="1041.8"/>
<use href="#dk" x="787.8" y="1048.5"/>
<use href="#dk" x="783.7" y="1054.7"/>
<use href="#dk" x="779.5" y="1060.7"/>
<use href="#dk" x="775.4" y="1066.4"/>
<use href="#dk" x="771.2" y="1072.0"/>
<use href="#dk" x="899.9" y="911.8"/>
<use href="#dk" x="891.6" y="906.1"/>
<use href="#dk" x="887.4" y="909.7"/>
<use href="#dk" x="883.2" y="914.7"/>
<use href="#dk" x="879.1" y="919.3"/>
<use href="#dk" x="875.0" y="924.2"/>
<use href="#dk" x="870.8" y="930.0"/>
<use href="#dk" x="866.7" y="936.3"/>
<use href="#dk" x="862.5" y="943.1"/>
<use href="#dk" x="858.4" y="950.1"/>
<use href="#dk" x="854.2" y="957.5"/>
<use href="#dk" x="850.1" y="965.4"/>
<use href="#dk" x="845.9" y="974.0"/>
<use href="#dk" x="841.8" y="983.3"/>
<use href="#dk" x="837.6" y="993.0"/>
<use href="#dk" x="833.5" y="1003.1"/>
<use href="#dk" x="829.3" y="1012.6"/>
<use href="#dk" x="825.2" y="1021.1"/>
<use href="#dk" x="816.9" y="1036.9"/>
<use href="#dk" x="812.7" y="1043.9"/>
<use href="#dk" x="808.6" y="1049.7"/>
<use href="#dk" x="804.4" y="1054.7"/>
<use href="#dk" x="800.2" y="1059.7"/>
<use href="#dk" x="796.1" y="1064.9"/>
<use href="#dk" x="792.0" y="1070.0"/>
<use href="#dk" x="787.8" y="1075.0"/>
<use href="#dk" x="783.7" y="1079.4"/>
<use href="#dk" x="779.5" y="1083.2"/>
<use href="#dk" x="775.4" y="1086.7"/>
<use href="#dk" x="771.2" y="1090.2"/>
<use href="#dk" x="899.9" y="887.0"/>
<use href="#dk" x="904.0" y="885.4"/>
<use href="#dk" x="908.2" y="883.8"/>
<use href="#dk" x="912.3" y="882.3"/>
<use href="#dk" x="916.5" y="880.9"/>
<use href="#dk" x="920.6" y="879.5"/>
<use href="#dk" x="924.8" y="878.2"/>
<use href="#dk" x="928.9" y="877.0"/>
<use href="#dk" x="933.1" y="876.0"/>
<use href="#dk" x="937.2" y="875.3"/>
<use href="#dk" x="941.4" y="874.8"/>
<use href="#dk" x="945.5" y="874.5"/>
<use href="#dk" x="949.7" y="874.2"/>
<use href="#dk" x="953.8" y="873.9"/>
<use href="#dk" x="958.0" y="873.7"/>
<use href="#dk" x="962.1" y="873.4"/>
<use href="#dk" x="966.2" y="873.3"/>
<use href="#dk" x="970.4" y="873.2"/>
<use href="#dk" x="974.6" y="873.3"/>
<use href="#dk" x="978.7" y="873.5"/>
<use href="#dk" x="982.9" y="873.7"/>
<use href="#dk" x="987.0" y="874.0"/>
<use href="#dk" x="991.2" y="874.2"/>
<use href="#dk" x="995.3" y="874.4"/>
<use href="#dk" x="999.5" y="874.7"/>
<use href="#dk" x="1003.6" y="874.9"/>
<use href="#dk" x="1007.8" y="875.1"/>
<use href="#dk" x="1011.9" y="875.3"/>
<use href="#dk" x="1011.9" y="876.0"/>
<use href="#dk" x="1007.8" y="877.3"/>
<use href="#dk" x="1003.6" y="878.8"/>
<use href="#dk" x="999.5" y="880.9"/>
<use href="#dk" x="995.3" y="883.7"/>
<use href="#dk" x="991.2" y="887.2"/>
<use href="#dk" x="987.0" y="891.0"/>
<use href="#dk" x="982.9" y="895.1"/>
<use href="#dk" x="978.7" y="899.5"/>
<use href="#dk" x="974.6" y="904.1"/>
<use href="#dk" x="970.4" y="909.0"/>
<use href="#dk" x="966.2" y="914.1"/>
<use href="#dk" x="962.1" y="919.4"/>
<use href="#dk" x="958.0" y="924.8"/>
<use href="#dk" x="953.8" y="930.5"/>
<use href="#dk" x="949.7" y="936.3"/>
<use href="#dk" x="945.5" y="942.3"/>
<use href="#dk" x="941.4" y="948.3"/>
<use href="#dk" x="937.2" y="954.3"/>
<use href="#dk" x="933.1" y="960.5"/>
<use href="#dk" x="928.9" y="966.9"/>
<use href="#dk" x="924.8" y="973.9"/>
<use href="#dk" x="920.6" y="981.7"/>
<use href="#dk" x="916.5" y="988.8"/>
<use href="#dk" x="912.3" y="995.1"/>
<use href="#dk" x="908.2" y="1001.1"/>
<use href="#dk" x="904.0" y="1006.9"/>
<use href="#dk" x="899.9" y="1012.5"/>
<use href="#dk" x="891.6" y="1023.9"/>
<use href="#dk" x="887.4" y="1028.9"/>
<use href="#dk" x="883.2" y="1032.4"/>
<use href="#dk" x="879.1" y="1035.1"/>
<use href="#dk" x="875.0" y="1037.8"/>
<use href="#dk" x="870.8" y="1040.9"/>
<use href="#dk" x="866.7" y="1044.8"/>
<use href="#dk" x="862.5" y="1049.7"/>
<use href="#dk" x="858.4" y="1055.1"/>
<use href="#dk" x="854.2" y="1060.9"/>
<use href="#dk" x="850.1" y="1066.5"/>
<use href="#dk" x="845.9" y="1072.2"/>
<use href="#dk" x="841.8" y="1078.4"/>
<use href="#dk" x="837.6" y="1083.3"/>
<use href="#dk" x="833.5" y="1085.8"/>
<use href="#dk" x="829.3" y="1086.1"/>
<use href="#dk" x="825.2" y="1086.0"/>
<use href="#dk" x="816.9" y="1088.3"/>
<use href="#dk" x="812.7" y="1090.5"/>
<use href="#dk" x="808.6" y="1092.7"/>
<use href="#dk" x="804.4" y="1094.9"/>
<use href="#dk" x="800.2" y="1096.8"/>
<use href="#dk" x="796.1" y="1098.8"/>
<use href="#dk" x="792.0" y="1100.7"/>
<use href="#dk" x="787.8" y="1102.4"/>
<use href="#dk" x="783.7" y="1103.4"/>
<use href="#dk" x="779.5" y="1103.0"/>
<use href="#dk" x="775.4" y="1101.2"/>
<use href="#dk" x="1011.9" y="993.4"/>
<use href="#dk" x="1007.8" y="993.1"/>
<use href="#dk" x="1003.6" y="992.8"/>
<use href="#dk" x="999.5" y="992.5"/>
<use href="#dk" x="995.3" y="992.2"/>
<use href="#dk" x="991.2" y="991.9"/>
<use href="#dk" x="987.0" y="991.5"/>
<use href="#dk" x="982.9" y="991.2"/>
<use href="#dk" x="978.7" y="990.8"/>
<use href="#dk" x="974.6" y="990.3"/>
<use href="#dk" x="970.4" y="989.9"/>
<use href="#dk" x="966.2" y="989.5"/>
<use href="#dk" x="962.1" y="989.1"/>
<use href="#dk" x="958.0" y="988.6"/>
<use href="#dk" x="953.8" y="988.2"/>
<use href="#dk" x="949.7" y="987.8"/>
<use href="#dk" x="945.5" y="987.2"/>
<use href="#dk" x="941.4" y="986.7"/>
<use href="#dk" x="937.2" y="986.3"/>
<use href="#dk" x="933.1" y="986.1"/>
<use href="#dk" x="928.9" y="986.2"/>
<use href="#dk" x="924.8" y="986.4"/>
<use href="#dk" x="920.6" y="986.8"/>
<use href="#dk" x="916.5" y="987.5"/>
<use href="#dk" x="912.3" y="988.6"/>
<use href="#dk" x="908.2" y="990.0"/>
<use href="#dk" x="904.0" y="991.7"/>
<use href="#dk" x="899.9" y="993.6"/>
<use href="#dk" x="891.6" y="997.4"/>
<use href="#dk" x="887.4" y="999.3"/>
<use href="#dk" x="883.2" y="1001.3"/>
<use href="#dk" x="879.1" y="1003.6"/>
<use href="#dk" x="875.0" y="1006.1"/>
<use href="#dk" x="870.8" y="1008.8"/>
<use href="#dk" x="866.7" y="1011.7"/>
<use href="#dk" x="862.5" y="1014.7"/>
<use href="#dk" x="858.4" y="1017.9"/>
<use href="#dk" x="854.2" y="1021.1"/>
<use href="#dk" x="850.1" y="1024.7"/>
<use href="#dk" x="845.9" y="1028.5"/>
<use href="#dk" x="841.8" y="1032.7"/>
<use href="#dk" x="837.6" y="1037.1"/>
<use href="#dk" x="833.5" y="1041.5"/>
<use href="#dk" x="829.3" y="1045.7"/>
<use href="#dk" x="825.2" y="1049.5"/>
<use href="#dk" x="821.0" y="1053.1"/>
<use href="#dk" x="816.9" y="1056.6"/>
<use href="#dk" x="812.7" y="1059.7"/>
<use href="#dk" x="808.6" y="1062.5"/>
<use href="#dk" x="804.4" y="1065.2"/>
<use href="#dk" x="800.2" y="1067.8"/>
<use href="#dk" x="796.1" y="1070.6"/>
<use href="#dk" x="792.0" y="1073.4"/>
<use href="#dk" x="787.8" y="1076.1"/>
<use href="#dk" x="783.7" y="1078.9"/>
<use href="#dk" x="779.5" y="1081.7"/>
<use href="#dk" x="775.4" y="1084.4"/>
<use href="#dk" x="771.2" y="1087.2"/>
<use href="#dk" x="978.7" y="1015.3"/>
<use href="#dk" x="982.9" y="1014.5"/>
<use href="#dk" x="987.0" y="1013.8"/>
<use href="#dk" x="991.2" y="1013.4"/>
<use href="#dk" x="995.3" y="1013.2"/>
<use href="#dk" x="999.5" y="1013.0"/>
<use href="#dk" x="1003.6" y="1012.9"/>
<use href="#dk" x="1007.8" y="1012.8"/>
<use href="#dk" x="1011.9" y="1012.7"/>
<use href="#dk" x="1011.9" y="995.9"/>
<use href="#dk" x="1007.8" y="995.8"/>
<use href="#dk" x="1003.6" y="995.7"/>
<use href="#dk" x="999.5" y="995.7"/>
<use href="#dk" x="995.3" y="996.0"/>
<use href="#dk" x="991.2" y="996.4"/>
<use href="#dk" x="987.0" y="996.9"/>
<use href="#dk" x="982.9" y="997.5"/>
<use href="#dk" x="978.7" y="998.4"/>
<use href="#dk" x="974.6" y="999.4"/>
<use href="#dk" x="970.4" y="1000.6"/>
<use href="#dk" x="966.2" y="1002.1"/>
<use href="#dk" x="962.1" y="1003.8"/>
<use href="#dk" x="958.0" y="1005.7"/>
<use href="#dk" x="953.8" y="1007.8"/>
<use href="#dk" x="949.7" y="1010.2"/>
<use href="#dk" x="945.5" y="1012.9"/>
<use href="#dk" x="941.4" y="1015.8"/>
<use href="#dk" x="937.2" y="1019.2"/>
<use href="#dk" x="933.1" y="1023.0"/>
<use href="#dk" x="928.9" y="1027.4"/>
<use href="#dk" x="924.8" y="1032.7"/>
<use href="#dk" x="920.6" y="1038.6"/>
<use href="#dk" x="916.5" y="1044.5"/>
<use href="#dk" x="912.3" y="1050.0"/>
<use href="#dk" x="908.2" y="1055.3"/>
<use href="#dk" x="904.0" y="1060.6"/>
<use href="#dk" x="899.9" y="1066.0"/>
<use href="#dk" x="891.6" y="1077.8"/>
<use href="#dk" x="887.4" y="1084.2"/>
<use href="#dk" x="883.2" y="1090.6"/>
<use href="#dk" x="879.1" y="1096.8"/>
<use href="#dk" x="875.0" y="1102.4"/>
<use href="#dk" x="870.8" y="1107.6"/>
<use href="#dk" x="866.7" y="1112.6"/>
<use href="#dk" x="862.5" y="1117.3"/>
<use href="#dk" x="858.4" y="1121.9"/>
<use href="#dk" x="854.2" y="1126.4"/>
<use href="#dk" x="850.1" y="1130.7"/>
<use href="#dk" x="845.9" y="1134.9"/>
<use href="#dk" x="841.8" y="1138.8"/>
<use href="#dk" x="837.6" y="1142.6"/>
<use href="#dk" x="833.5" y="1146.3"/>
<use href="#dk" x="829.3" y="1149.8"/>
<use href="#dk" x="825.2" y="1153.0"/>
<use href="#dk" x="816.9" y="1157.9"/>
<use href="#dk" x="812.7" y="1159.8"/>
<use href="#dk" x="808.6" y="1161.3"/>
<use href="#dk" x="804.4" y="1162.5"/>
<use href="#dk" x="800.2" y="1163.6"/>
<use href="#dk" x="796.1" y="1164.4"/>
<use href="#dk" x="792.0" y="1164.8"/>
<use href="#dk" x="787.8" y="1165.0"/>
<use href="#dk" x="783.7" y="1164.9"/>
<use href="#dk" x="779.5" y="1164.3"/>
<use href="#dk" x="775.4" y="1163.4"/>
<use href="#dk" x="771.2" y="1162.3"/>
<use href="#dk" x="1011.9" y="1015.4"/>
<use href="#dk" x="1007.8" y="1017.1"/>
<use href="#dk" x="1003.6" y="1019.1"/>
<use href="#dk" x="999.5" y="1021.4"/>
<use href="#dk" x="995.3" y="1024.4"/>
<use href="#dk" x="991.2" y="1028.2"/>
<use href="#dk" x="987.0" y="1032.6"/>
<use href="#dk" x="982.9" y="1037.3"/>
<use href="#dk" x="978.7" y="1042.3"/>
<use href="#dk" x="974.6" y="1047.5"/>
<use href="#dk" x="970.4" y="1052.9"/>
<use href="#dk" x="966.2" y="1058.4"/>
<use href="#dk" x="962.1" y="1064.3"/>
<use href="#dk" x="958.0" y="1070.6"/>
<use href="#dk" x="953.8" y="1077.4"/>
<use href="#dk" x="949.7" y="1084.8"/>
<use href="#dk" x="945.5" y="1093.4"/>
<use href="#dk" x="941.4" y="1102.9"/>
<use href="#dk" x="937.2" y="1112.0"/>
<use href="#dk" x="933.1" y="1120.9"/>
<use href="#dk" x="928.9" y="1129.9"/>
<use href="#dk" x="924.8" y="1139.5"/>
<use href="#dk" x="920.6" y="1149.6"/>
<use href="#dk" x="916.5" y="1160.0"/>
<use href="#dk" x="912.3" y="1171.0"/>
<use href="#dk" x="908.2" y="1178.3"/>
<use href="#dk" x="904.0" y="1183.7"/>
<use href="#dk" x="899.9" y="1187.1"/>
<use href="#dk" x="895.7" y="1189.1"/>
<use href="#dk" x="891.6" y="1190.3"/>
<use href="#dk" x="887.4" y="1191.1"/>
<use href="#dk" x="883.2" y="1191.7"/>
<use href="#dk" x="879.1" y="1192.1"/>
<use href="#dk" x="875.0" y="1192.1"/>
<use href="#dk" x="870.8" y="1191.8"/>
<use href="#dk" x="866.7" y="1191.4"/>
<use href="#dk" x="862.5" y="1191.1"/>
<use href="#dk" x="858.4" y="1191.1"/>
<use href="#dk" x="854.2" y="1191.5"/>
<use href="#dk" x="850.1" y="1192.2"/>
<use href="#dk" x="845.9" y="1193.2"/>
<use href="#dk" x="841.8" y="1194.3"/>
<use href="#dk" x="837.6" y="1195.6"/>
<use href="#dk" x="833.5" y="1197.1"/>
<use href="#dk" x="829.3" y="1198.8"/>
<use href="#dk" x="825.2" y="1200.6"/>
<use href="#dk" x="816.9" y="1204.0"/>
<use href="#dk" x="812.7" y="1205.7"/>
<use href="#dk" x="808.6" y="1207.4"/>
<use href="#dk" x="804.4" y="1209.0"/>
<use href="#dk" x="800.2" y="1210.5"/>
<use href="#dk" x="796.1" y="1211.9"/>
<use href="#dk" x="792.0" y="1213.1"/>
<use href="#dk" x="787.8" y="1214.3"/>
<use href="#dk" x="783.7" y="1215.3"/>
<use href="#dk" x="779.5" y="1216.2"/>
<use href="#dk" x="775.4" y="1217.0"/>
<use href="#dk" x="771.2" y="1217.8"/>
<use href="#dk" x="1011.9" y="1122.4"/>
<use href="#dk" x="1007.8" y="1122.9"/>
<use href="#dk" x="1003.6" y="1123.4"/>
<use href="#dk" x="999.5" y="1123.9"/>
<use href="#dk" x="995.3" y="1124.6"/>
<use href="#dk" x="991.2" y="1125.3"/>
<use href="#dk" x="987.0" y="1126.3"/>
<use href="#dk" x="982.9" y="1127.7"/>
<use href="#dk" x="978.7" y="1129.3"/>
<use href="#dk" x="974.6" y="1131.2"/>
<use href="#dk" x="970.4" y="1133.2"/>
<use href="#dk" x="966.2" y="1135.5"/>
<use href="#dk" x="962.1" y="1138.0"/>
<use href="#dk" x="958.0" y="1140.6"/>
<use href="#dk" x="953.8" y="1143.2"/>
<use href="#dk" x="949.7" y="1145.7"/>
<use href="#dk" x="945.5" y="1148.2"/>
<use href="#dk" x="941.4" y="1150.7"/>
<use href="#dk" x="937.2" y="1153.2"/>
<use href="#dk" x="933.1" y="1155.7"/>
<use href="#dk" x="928.9" y="1158.1"/>
<use href="#dk" x="924.8" y="1160.5"/>
<use href="#dk" x="920.6" y="1163.0"/>
<use href="#dk" x="916.5" y="1165.5"/>
<use href="#dk" x="912.3" y="1168.3"/>
<use href="#dk" x="908.2" y="1171.7"/>
<use href="#dk" x="904.0" y="1175.1"/>
<use href="#dk" x="899.9" y="1178.4"/>
<use href="#dk" x="891.6" y="1180.5"/>
<use href="#dk" x="887.4" y="1180.6"/>
<use href="#dk" x="883.2" y="1180.5"/>
<use href="#dk" x="879.1" y="1180.2"/>
<use href="#dk" x="875.0" y="1179.7"/>
<use href="#dk" x="870.8" y="1179.0"/>
<use href="#dk" x="866.7" y="1178.0"/>
<use href="#dk" x="862.5" y="1177.0"/>
<use href="#dk" x="858.4" y="1176.2"/>
<use href="#dk" x="854.2" y="1175.5"/>
<use href="#dk" x="850.1" y="1174.9"/>
<use href="#dk" x="845.9" y="1174.4"/>
<use href="#dk" x="841.8" y="1174.3"/>
<use href="#dk" x="837.6" y="1174.5"/>
<use href="#dk" x="833.5" y="1175.0"/>
<use href="#dk" x="829.3" y="1175.9"/>
<use href="#dk" x="825.2" y="1176.9"/>
<use href="#dk" x="816.9" y="1179.1"/>
<use href="#dk" x="812.7" y="1180.3"/>
<use href="#dk" x="808.6" y="1181.6"/>
<use href="#dk" x="804.4" y="1183.0"/>
<use href="#dk" x="800.2" y="1184.4"/>
<use href="#dk" x="796.1" y="1185.9"/>
<use href="#dk" x="792.0" y="1187.4"/>
<use href="#dk" x="787.8" y="1189.0"/>
<use href="#dk" x="783.7" y="1190.5"/>
<use href="#dk" x="779.5" y="1191.9"/>
<use href="#dk" x="775.4" y="1193.2"/>
<use href="#dk" x="771.2" y="1194.6"/>
<use href="#dk" x="1011.9" y="1202.5"/>
<use href="#dk" x="1007.8" y="1202.6"/>
<use href="#dk" x="1003.6" y="1202.8"/>
<use href="#dk" x="999.5" y="1203.1"/>
<use href="#dk" x="995.3" y="1203.4"/>
<use href="#dk" x="991.2" y="1203.9"/>
<use href="#dk" x="987.0" y="1204.5"/>
<use href="#dk" x="982.9" y="1205.2"/>
<use href="#dk" x="978.7" y="1206.0"/>
<use href="#dk" x="974.6" y="1206.8"/>
<use href="#dk" x="970.4" y="1207.6"/>
<use href="#dk" x="966.2" y="1208.5"/>
<use href="#dk" x="962.1" y="1209.4"/>
<use href="#dk" x="958.0" y="1210.3"/>
<use href="#dk" x="953.8" y="1211.2"/>
<use href="#dk" x="949.7" y="1212.2"/>
<use href="#dk" x="945.5" y="1213.2"/>
<use href="#dk" x="941.4" y="1214.2"/>
<use href="#dk" x="937.2" y="1215.3"/>
<use href="#dk" x="933.1" y="1216.3"/>
<use href="#dk" x="928.9" y="1217.4"/>
<use href="#dk" x="924.8" y="1218.5"/>
<use href="#dk" x="920.6" y="1219.5"/>
<use href="#dk" x="916.5" y="1220.5"/>
<use href="#dk" x="912.3" y="1221.4"/>
<use href="#dk" x="908.2" y="1222.3"/>
<use href="#dk" x="904.0" y="1223.2"/>
<use href="#dk" x="899.9" y="1224.0"/>
<use href="#dk" x="895.7" y="1224.8"/>
<use href="#dk" x="891.6" y="1225.6"/>
<use href="#dk" x="887.4" y="1226.4"/>
<use href="#dk" x="883.2" y="1227.2"/>
<use href="#dk" x="879.1" y="1228.1"/>
<use href="#dk" x="875.0" y="1228.9"/>
<use href="#dk" x="870.8" y="1229.9"/>
<use href="#dk" x="866.7" y="1230.9"/>
<use href="#dk" x="862.5" y="1231.9"/>
<use href="#dk" x="858.4" y="1233.0"/>
<use href="#dk" x="1016.1" y="1202.5"/>
<use href="#dk" x="1020.2" y="1203.2"/>
<use href="#dk" x="1024.4" y="1203.9"/>
<use href="#dk" x="1028.5" y="1204.6"/>
<use href="#dk" x="1032.7" y="1205.3"/>
<use href="#dk" x="1036.8" y="1206.0"/>
<use href="#dk" x="1041.0" y="1206.7"/>
<use href="#dk" x="1045.1" y="1207.4"/>
<use href="#dk" x="1049.2" y="1208.2"/>
<use href="#dk" x="1053.4" y="1208.9"/>
<use href="#dk" x="1057.6" y="1209.7"/>
<use href="#dk" x="1061.7" y="1210.6"/>
<use href="#dk" x="1065.9" y="1211.4"/>
<use href="#dk" x="1070.0" y="1212.2"/>
<use href="#dk" x="1074.2" y="1213.1"/>
<use href="#dk" x="1078.3" y="1213.9"/>
<use href="#dk" x="1082.5" y="1214.8"/>
<use href="#dk" x="1086.6" y="1215.6"/>
<use href="#dk" x="1090.8" y="1216.4"/>
<use href="#dk" x="1094.9" y="1217.3"/>
<use href="#dk" x="1099.1" y="1218.1"/>
<use href="#dk" x="1103.2" y="1218.9"/>
<use href="#dk" x="1107.4" y="1219.7"/>
<use href="#dk" x="1111.5" y="1220.6"/>
<use href="#dk" x="1115.7" y="1221.4"/>
<use href="#dk" x="1119.8" y="1222.2"/>
<use href="#dk" x="1124.0" y="1223.1"/>
<use href="#dk" x="1128.1" y="1223.9"/>
<use href="#dk" x="1132.2" y="1224.7"/>
<use href="#dk" x="1136.4" y="1225.5"/>
<use href="#dk" x="1140.6" y="1226.3"/>
<use href="#dk" x="1144.7" y="1227.1"/>
<use href="#dk" x="1148.9" y="1228.0"/>
<use href="#dk" x="1153.0" y="1229.0"/>
<use href="#dk" x="1157.2" y="1230.2"/>
<use href="#dk" x="1161.3" y="1231.6"/>
<use href="#dk" x="771.2" y="1012.3"/>
<use href="#dk" x="775.4" y="1012.8"/>
<use href="#dk" x="779.5" y="1013.4"/>
<use href="#dk" x="783.7" y="1014.2"/>
<use href="#dk" x="787.8" y="1015.2"/>
<use href="#dk" x="792.0" y="1016.5"/>
<use href="#dk" x="796.1" y="1018.7"/>
<use href="#dk" x="800.2" y="1022.5"/>
<use href="#dk" x="804.4" y="1028.8"/>
<use href="#dk" x="808.6" y="1037.2"/>
<use href="#dk" x="812.7" y="1045.5"/>
<use href="#dk" x="816.9" y="1053.4"/>
<use href="#dk" x="821.0" y="1058.2"/>
<use href="#dk" x="825.2" y="1061.1"/>
<use href="#dk" x="829.3" y="1062.1"/>
<use href="#dk" x="833.5" y="1061.2"/>
<use href="#dk" x="837.6" y="1059.2"/>
<use href="#dk" x="841.8" y="1057.0"/>
<use href="#dk" x="845.9" y="1054.4"/>
<use href="#dk" x="850.1" y="1051.5"/>
<use href="#dk" x="854.2" y="1048.5"/>
<use href="#dk" x="771.2" y="1121.5"/>
<use href="#dk" x="775.4" y="1124.3"/>
<use href="#dk" x="779.5" y="1127.5"/>
<use href="#dk" x="783.7" y="1131.7"/>
<use href="#dk" x="787.8" y="1136.7"/>
<use href="#dk" x="792.0" y="1143.3"/>
<use href="#dk" x="796.1" y="1151.2"/>
<use href="#dk" x="800.2" y="1160.6"/>
<use href="#dk" x="804.4" y="1173.7"/>
<use href="#dk" x="808.6" y="1192.7"/>
<use href="#dk" x="812.7" y="1211.0"/>
<use href="#dk" x="816.9" y="1227.4"/>
<use href="#dk" x="771.2" y="1170.2"/>
<use href="#dk" x="775.4" y="1170.4"/>
<use href="#dk" x="779.5" y="1170.9"/>
<use href="#dk" x="783.7" y="1171.6"/>
<use href="#dk" x="787.8" y="1173.0"/>
<use href="#dk" x="792.0" y="1174.9"/>
<use href="#dk" x="796.1" y="1177.3"/>
<use href="#dk" x="800.2" y="1180.2"/>
<use href="#dk" x="804.4" y="1183.7"/>
<use href="#dk" x="808.6" y="1187.8"/>
<use href="#dk" x="812.7" y="1192.4"/>
<use href="#dk" x="816.9" y="1197.2"/>
<use href="#dk" x="821.0" y="1202.5"/>
<use href="#dk" x="825.2" y="1208.1"/>
<use href="#dk" x="829.3" y="1214.0"/>
<use href="#dk" x="833.5" y="1220.5"/>
<use href="#dk" x="837.6" y="1227.7"/>
<use href="#dk" x="771.2" y="1222.3"/>
<use href="#dk" x="775.4" y="1222.9"/>
<use href="#dk" x="779.5" y="1223.5"/>
<use href="#dk" x="783.7" y="1224.1"/>
<use href="#dk" x="787.8" y="1224.7"/>
<use href="#dk" x="792.0" y="1225.3"/>
<use href="#dk" x="796.1" y="1225.9"/>
<use href="#dk" x="800.2" y="1226.4"/>
<use href="#dk" x="804.4" y="1227.0"/>
<use href="#dk" x="808.6" y="1227.7"/>
<use href="#dk" x="812.7" y="1228.6"/>
<use href="#dk" x="816.9" y="1229.7"/>
<use href="#dk" x="821.0" y="1230.8"/>
<use href="#dk" x="771.2" y="1139.9"/>
<use href="#dk" x="775.4" y="1139.7"/>
<use href="#dk" x="779.5" y="1139.4"/>
<use href="#dk" x="783.7" y="1139.0"/>
<use href="#dk" x="787.8" y="1138.5"/>
<use href="#dk" x="792.0" y="1137.5"/>
<use href="#dk" x="796.1" y="1136.0"/>
<use href="#dk" x="800.2" y="1134.3"/>
<use href="#dk" x="804.4" y="1132.4"/>
<use href="#dk" x="808.6" y="1130.6"/>
<use href="#dk" x="812.7" y="1128.9"/>
<use href="#dk" x="816.9" y="1127.3"/>
<use href="#dk" x="821.0" y="1125.7"/>
<use href="#dk" x="825.2" y="1124.1"/>
<use href="#dk" x="829.3" y="1122.3"/>
<use href="#dk" x="833.5" y="1120.4"/>
<use href="#dk" x="837.6" y="1118.4"/>
<use href="#dk" x="841.8" y="1116.4"/>
<use href="#dk" x="845.9" y="1114.2"/>
<use href="#dk" x="850.1" y="1112.0"/>
<use href="#dk" x="854.2" y="1109.6"/>
<use href="#dk" x="858.4" y="1107.1"/>
<use href="#dk" x="862.5" y="1104.6"/>
<use href="#dk" x="866.7" y="1102.1"/>
<use href="#dk" x="1016.1" y="875.4"/>
<use href="#dk" x="1020.2" y="875.1"/>
<use href="#dk" x="1024.4" y="874.7"/>
<use href="#dk" x="1028.5" y="874.4"/>
<use href="#dk" x="1032.7" y="874.1"/>
<use href="#dk" x="1036.8" y="873.8"/>
<use href="#dk" x="1041.0" y="873.7"/>
<use href="#dk" x="1045.1" y="873.7"/>
<use href="#dk" x="1049.2" y="873.7"/>
<use href="#dk" x="1053.4" y="873.7"/>
<use href="#dk" x="1057.6" y="873.8"/>
<use href="#dk" x="1061.7" y="874.1"/>
<use href="#dk" x="1065.9" y="874.3"/>
<use href="#dk" x="1070.0" y="874.7"/>
<use href="#dk" x="1074.2" y="875.2"/>
<use href="#dk" x="1078.3" y="875.7"/>
<use href="#dk" x="1082.5" y="876.3"/>
<use href="#dk" x="1086.6" y="877.0"/>
<use href="#dk" x="1090.8" y="877.8"/>
<use href="#dk" x="1094.9" y="878.9"/>
<use href="#dk" x="1099.1" y="880.2"/>
<use href="#dk" x="1103.2" y="881.8"/>
<use href="#dk" x="1107.4" y="883.6"/>
<use href="#dk" x="1111.5" y="885.6"/>
<use href="#dk" x="1115.7" y="887.8"/>
<use href="#dk" x="1119.8" y="890.1"/>
<use href="#dk" x="1124.0" y="892.6"/>
<use href="#dk" x="1128.1" y="895.4"/>
<use href="#dk" x="1132.2" y="898.5"/>
<use href="#dk" x="1136.4" y="901.6"/>
<use href="#dk" x="1140.6" y="904.4"/>
<use href="#dk" x="1144.7" y="907.5"/>
<use href="#dk" x="1148.9" y="910.4"/>
<use href="#dk" x="1153.0" y="912.4"/>
<use href="#dk" x="1157.2" y="912.2"/>
<use href="#dk" x="1161.3" y="909.2"/>
<use href="#dk" x="1165.5" y="906.2"/>
<use href="#dk" x="1169.6" y="902.8"/>
<use href="#dk" x="1173.8" y="901.4"/>
<use href="#dk" x="1177.9" y="903.3"/>
<use href="#dk" x="1182.1" y="907.3"/>
<use href="#dk" x="1186.2" y="913.4"/>
<use href="#dk" x="1190.4" y="918.8"/>
<use href="#dk" x="1194.5" y="924.0"/>
<use href="#dk" x="1198.7" y="927.7"/>
<use href="#dk" x="1202.8" y="929.7"/>
<use href="#dk" x="1207.0" y="930.8"/>
<use href="#dk" x="1211.1" y="931.8"/>
<use href="#dk" x="1215.2" y="932.7"/>
<use href="#dk" x="1219.4" y="933.5"/>
<use href="#dk" x="1223.6" y="934.2"/>
<use href="#dk" x="1227.7" y="935.3"/>
<use href="#dk" x="1231.9" y="936.3"/>
<use href="#dk" x="1236.0" y="937.4"/>
<use href="#dk" x="1240.2" y="938.7"/>
<use href="#dk" x="1244.3" y="940.3"/>
<use href="#dk" x="1248.5" y="943.4"/>
<use href="#dk" x="1252.6" y="948.7"/>
<use href="#dk" x="1256.8" y="953.8"/>
<use href="#dk" x="1016.1" y="881.4"/>
<use href="#dk" x="1020.2" y="883.1"/>
<use href="#dk" x="1024.4" y="884.8"/>
<use href="#dk" x="1028.5" y="886.8"/>
<use href="#dk" x="1032.7" y="889.2"/>
<use href="#dk" x="1036.8" y="892.2"/>
<use href="#dk" x="1041.0" y="895.4"/>
<use href="#dk" x="1045.1" y="898.8"/>
<use href="#dk" x="1049.2" y="902.6"/>
<use href="#dk" x="1053.4" y="906.8"/>
<use href="#dk" x="1057.6" y="911.5"/>
<use href="#dk" x="1061.7" y="916.3"/>
<use href="#dk" x="1065.9" y="920.9"/>
<use href="#dk" x="1070.0" y="925.0"/>
<use href="#dk" x="1074.2" y="928.9"/>
<use href="#dk" x="1078.3" y="932.5"/>
<use href="#dk" x="1082.5" y="935.6"/>
<use href="#dk" x="1086.6" y="938.2"/>
<use href="#dk" x="1090.8" y="940.4"/>
<use href="#dk" x="1094.9" y="942.3"/>
<use href="#dk" x="1099.1" y="944.0"/>
<use href="#dk" x="1103.2" y="945.6"/>
<use href="#dk" x="1107.4" y="947.0"/>
<use href="#dk" x="1111.5" y="948.5"/>
<use href="#dk" x="1115.7" y="949.8"/>
<use href="#dk" x="1119.8" y="951.0"/>
<use href="#dk" x="1124.0" y="952.1"/>
<use href="#dk" x="1128.1" y="953.0"/>
<use href="#dk" x="1132.2" y="954.0"/>
<use href="#dk" x="1136.4" y="955.0"/>
<use href="#dk" x="1140.6" y="956.2"/>
<use href="#dk" x="1144.7" y="957.9"/>
<use href="#dk" x="1148.9" y="960.2"/>
<use href="#dk" x="1153.0" y="963.1"/>
<use href="#dk" x="1157.2" y="965.9"/>
<use href="#dk" x="1161.3" y="968.2"/>
<use href="#dk" x="1165.5" y="969.7"/>
<use href="#dk" x="1169.6" y="970.8"/>
<use href="#dk" x="1173.8" y="971.8"/>
<use href="#dk" x="1177.9" y="973.0"/>
<use href="#dk" x="1182.1" y="974.8"/>
<use href="#dk" x="1186.2" y="977.1"/>
<use href="#dk" x="1190.4" y="979.9"/>
<use href="#dk" x="1194.5" y="983.0"/>
<use href="#dk" x="1198.7" y="987.1"/>
<use href="#dk" x="1202.8" y="991.8"/>
<use href="#dk" x="1207.0" y="995.6"/>
<use href="#dk" x="1211.1" y="998.1"/>
<use href="#dk" x="1215.2" y="1000.2"/>
<use href="#dk" x="1219.4" y="1002.0"/>
<use href="#dk" x="1223.6" y="1003.9"/>
<use href="#dk" x="1227.7" y="1006.2"/>
<use href="#dk" x="1231.9" y="1008.6"/>
<use href="#dk" x="1236.0" y="1011.1"/>
<use href="#dk" x="1240.2" y="1013.7"/>
<use href="#dk" x="1244.3" y="1016.2"/>
<use href="#dk" x="1248.5" y="1018.6"/>
<use href="#dk" x="1252.6" y="1020.9"/>
<use href="#dk" x="1256.8" y="1023.2"/>
<use href="#dk" x="1153.0" y="933.6"/>
<use href="#dk" x="1157.2" y="931.8"/>
<use href="#dk" x="1161.3" y="930.8"/>
<use href="#dk" x="1165.5" y="930.8"/>
<use href="#dk" x="1169.6" y="931.1"/>
<use href="#dk" x="1173.8" y="930.9"/>
<use href="#dk" x="1177.9" y="930.5"/>
<use href="#dk" x="1182.1" y="929.0"/>
<use href="#dk" x="1186.2" y="923.2"/>
<use href="#dk" x="1190.4" y="916.2"/>
<use href="#dk" x="1153.0" y="952.3"/>
<use href="#dk" x="1157.2" y="951.4"/>
<use href="#dk" x="1161.3" y="950.9"/>
<use href="#dk" x="1165.5" y="950.8"/>
<use href="#dk" x="1169.6" y="950.8"/>
<use href="#dk" x="1173.8" y="951.2"/>
<use href="#dk" x="1177.9" y="951.7"/>
<use href="#dk" x="1182.1" y="953.0"/>
<use href="#dk" x="1186.2" y="956.2"/>
<use href="#dk" x="1198.7" y="907.9"/>
<use href="#dk" x="1202.8" y="903.7"/>
<use href="#dk" x="1207.0" y="901.0"/>
<use href="#dk" x="1211.1" y="899.8"/>
<use href="#dk" x="1215.2" y="900.1"/>
<use href="#dk" x="1219.4" y="902.5"/>
<use href="#dk" x="1223.6" y="906.0"/>
<use href="#dk" x="1227.7" y="908.9"/>
<use href="#dk" x="1231.9" y="911.8"/>
<use href="#dk" x="1236.0" y="913.0"/>
<use href="#dk" x="1240.2" y="912.1"/>
<use href="#dk" x="1244.3" y="910.3"/>
<use href="#dk" x="1190.4" y="954.6"/>
<use href="#dk" x="1194.5" y="950.0"/>
<use href="#dk" x="1198.7" y="946.0"/>
<use href="#dk" x="1202.8" y="943.3"/>
<use href="#dk" x="1207.0" y="941.3"/>
<use href="#dk" x="1211.1" y="940.1"/>
<use href="#dk" x="1215.2" y="940.0"/>
<use href="#dk" x="1219.4" y="941.4"/>
<use href="#dk" x="1223.6" y="944.3"/>
<use href="#dk" x="1227.7" y="948.8"/>
<use href="#dk" x="1231.9" y="954.8"/>
<use href="#dk" x="1236.0" y="962.4"/>
<use href="#dk" x="1240.2" y="971.2"/>
<use href="#dk" x="1244.3" y="979.6"/>
<use href="#dk" x="1248.5" y="988.0"/>
<use href="#dk" x="1252.6" y="996.2"/>
<use href="#dk" x="1256.8" y="1004.0"/>
<use href="#dk" x="1016.1" y="993.6"/>
<use href="#dk" x="1020.2" y="992.2"/>
<use href="#dk" x="1024.4" y="990.7"/>
<use href="#dk" x="1028.5" y="989.4"/>
<use href="#dk" x="1032.7" y="988.2"/>
<use href="#dk" x="1036.8" y="987.1"/>
<use href="#dk" x="1041.0" y="986.1"/>
<use href="#dk" x="1045.1" y="985.3"/>
<use href="#dk" x="1049.2" y="984.8"/>
<use href="#dk" x="1053.4" y="984.7"/>
<use href="#dk" x="1057.6" y="984.7"/>
<use href="#dk" x="1061.7" y="985.1"/>
<use href="#dk" x="1065.9" y="985.9"/>
<use href="#dk" x="1070.0" y="987.2"/>
<use href="#dk" x="1074.2" y="989.1"/>
<use href="#dk" x="1078.3" y="991.5"/>
<use href="#dk" x="1082.5" y="994.2"/>
<use href="#dk" x="1086.6" y="997.4"/>
<use href="#dk" x="1090.8" y="1001.1"/>
<use href="#dk" x="1094.9" y="1005.5"/>
<use href="#dk" x="1099.1" y="1010.6"/>
<use href="#dk" x="1103.2" y="1016.4"/>
<use href="#dk" x="1107.4" y="1024.8"/>
<use href="#dk" x="1111.5" y="1035.0"/>
<use href="#dk" x="1115.7" y="1045.3"/>
<use href="#dk" x="1119.8" y="1052.2"/>
<use href="#dk" x="1124.0" y="1058.4"/>
<use href="#dk" x="1128.1" y="1064.2"/>
<use href="#dk" x="1132.2" y="1069.8"/>
<use href="#dk" x="1136.4" y="1075.3"/>
<use href="#dk" x="1140.6" y="1080.7"/>
<use href="#dk" x="1144.7" y="1085.9"/>
<use href="#dk" x="1148.9" y="1090.5"/>
<use href="#dk" x="1153.0" y="1094.5"/>
<use href="#dk" x="1157.2" y="1097.8"/>
<use href="#dk" x="1161.3" y="1100.5"/>
<use href="#dk" x="1165.5" y="1102.6"/>
<use href="#dk" x="1169.6" y="1104.3"/>
<use href="#dk" x="1173.8" y="1105.7"/>
<use href="#dk" x="1177.9" y="1106.7"/>
<use href="#dk" x="1182.1" y="1107.6"/>
<use href="#dk" x="1186.2" y="1108.3"/>
<use href="#dk" x="1190.4" y="1109.0"/>
<use href="#dk" x="1194.5" y="1109.6"/>
<use href="#dk" x="1198.7" y="1110.3"/>
<use href="#dk" x="1202.8" y="1110.8"/>
<use href="#dk" x="1207.0" y="1111.0"/>
<use href="#dk" x="1211.1" y="1111.3"/>
<use href="#dk" x="1215.2" y="1111.7"/>
<use href="#dk" x="1219.4" y="1112.6"/>
<use href="#dk" x="1223.6" y="1113.8"/>
<use href="#dk" x="1227.7" y="1115.2"/>
<use href="#dk" x="1231.9" y="1116.6"/>
<use href="#dk" x="1236.0" y="1117.8"/>
<use href="#dk" x="1240.2" y="1119.1"/>
<use href="#dk" x="1244.3" y="1120.3"/>
<use href="#dk" x="1248.5" y="1121.6"/>
<use href="#dk" x="1252.6" y="1122.8"/>
<use href="#dk" x="1256.8" y="1124.0"/>
<use href="#dk" x="1016.1" y="999.9"/>
<use href="#dk" x="1020.2" y="999.5"/>
<use href="#dk" x="1024.4" y="999.0"/>
<use href="#dk" x="1028.5" y="998.6"/>
<use href="#dk" x="1032.7" y="998.3"/>
<use href="#dk" x="1036.8" y="998.1"/>
<use href="#dk" x="1041.0" y="998.0"/>
<use href="#dk" x="1045.1" y="998.0"/>
<use href="#dk" x="1049.2" y="998.1"/>
<use href="#dk" x="1053.4" y="998.3"/>
<use href="#dk" x="1057.6" y="998.7"/>
<use href="#dk" x="1061.7" y="999.3"/>
<use href="#dk" x="1065.9" y="1000.2"/>
<use href="#dk" x="1070.0" y="1001.5"/>
<use href="#dk" x="1074.2" y="1003.2"/>
<use href="#dk" x="1078.3" y="1005.3"/>
<use href="#dk" x="1082.5" y="1008.0"/>
<use href="#dk" x="1086.6" y="1011.5"/>
<use href="#dk" x="1090.8" y="1016.2"/>
<use href="#dk" x="1094.9" y="1022.2"/>
<use href="#dk" x="1099.1" y="1028.6"/>
<use href="#dk" x="1103.2" y="1035.0"/>
<use href="#dk" x="1107.4" y="1041.9"/>
<use href="#dk" x="1111.5" y="1049.1"/>
<use href="#dk" x="1115.7" y="1056.1"/>
<use href="#dk" x="1119.8" y="1063.3"/>
<use href="#dk" x="1124.0" y="1070.4"/>
<use href="#dk" x="1128.1" y="1077.2"/>
<use href="#dk" x="1132.2" y="1083.2"/>
<use href="#dk" x="1136.4" y="1088.7"/>
<use href="#dk" x="1140.6" y="1094.0"/>
<use href="#dk" x="1144.7" y="1099.0"/>
<use href="#dk" x="1148.9" y="1104.0"/>
<use href="#dk" x="1153.0" y="1109.0"/>
<use href="#dk" x="1157.2" y="1113.9"/>
<use href="#dk" x="1161.3" y="1118.4"/>
<use href="#dk" x="1165.5" y="1122.4"/>
<use href="#dk" x="1169.6" y="1125.7"/>
<use href="#dk" x="1173.8" y="1128.3"/>
<use href="#dk" x="1177.9" y="1130.3"/>
<use href="#dk" x="1182.1" y="1131.3"/>
<use href="#dk" x="1186.2" y="1130.5"/>
<use href="#dk" x="1190.4" y="1127.7"/>
<use href="#dk" x="1194.5" y="1122.8"/>
<use href="#dk" x="1198.7" y="1116.8"/>
<use href="#dk" x="1202.8" y="1110.9"/>
<use href="#dk" x="1207.0" y="1104.9"/>
<use href="#dk" x="1211.1" y="1103.1"/>
<use href="#dk" x="1215.2" y="1105.5"/>
<use href="#dk" x="1219.4" y="1109.5"/>
<use href="#dk" x="1016.1" y="1012.6"/>
<use href="#dk" x="1020.2" y="1012.5"/>
<use href="#dk" x="1024.4" y="1012.5"/>
<use href="#dk" x="1028.5" y="1012.5"/>
<use href="#dk" x="1032.7" y="1012.7"/>
<use href="#dk" x="1036.8" y="1012.9"/>
<use href="#dk" x="1041.0" y="1013.2"/>
<use href="#dk" x="1045.1" y="1013.6"/>
<use href="#dk" x="1049.2" y="1014.3"/>
<use href="#dk" x="1053.4" y="1015.1"/>
<use href="#dk" x="1057.6" y="1016.2"/>
<use href="#dk" x="1061.7" y="1017.4"/>
<use href="#dk" x="1065.9" y="1018.9"/>
<use href="#dk" x="1070.0" y="1020.6"/>
<use href="#dk" x="1074.2" y="1022.7"/>
<use href="#dk" x="1078.3" y="1025.2"/>
<use href="#dk" x="1082.5" y="1028.4"/>
<use href="#dk" x="1086.6" y="1032.8"/>
<use href="#dk" x="1090.8" y="1038.6"/>
<use href="#dk" x="1094.9" y="1044.9"/>
<use href="#dk" x="1099.1" y="1050.9"/>
<use href="#dk" x="1103.2" y="1057.3"/>
<use href="#dk" x="1016.1" y="1014.4"/>
<use href="#dk" x="1020.2" y="1015.9"/>
<use href="#dk" x="1024.4" y="1017.7"/>
<use href="#dk" x="1028.5" y="1019.3"/>
<use href="#dk" x="1032.7" y="1021.3"/>
<use href="#dk" x="1036.8" y="1024.7"/>
<use href="#dk" x="1041.0" y="1029.2"/>
<use href="#dk" x="1045.1" y="1034.2"/>
<use href="#dk" x="1049.2" y="1039.5"/>
<use href="#dk" x="1053.4" y="1044.9"/>
<use href="#dk" x="1057.6" y="1050.4"/>
<use href="#dk" x="1061.7" y="1056.1"/>
<use href="#dk" x="1065.9" y="1062.2"/>
<use href="#dk" x="1070.0" y="1068.6"/>
<use href="#dk" x="1074.2" y="1075.0"/>
<use href="#dk" x="1078.3" y="1081.3"/>
<use href="#dk" x="1082.5" y="1087.5"/>
<use href="#dk" x="1086.6" y="1093.7"/>
<use href="#dk" x="1090.8" y="1099.9"/>
<use href="#dk" x="1094.9" y="1106.1"/>
<use href="#dk" x="1099.1" y="1112.6"/>
<use href="#dk" x="1103.2" y="1119.3"/>
<use href="#dk" x="1107.4" y="1126.2"/>
<use href="#dk" x="1111.5" y="1133.1"/>
<use href="#dk" x="1115.7" y="1140.6"/>
<use href="#dk" x="1119.8" y="1148.2"/>
<use href="#dk" x="1124.0" y="1154.4"/>
<use href="#dk" x="1128.1" y="1159.4"/>
<use href="#dk" x="1132.2" y="1163.9"/>
<use href="#dk" x="1136.4" y="1167.9"/>
<use href="#dk" x="1140.6" y="1171.5"/>
<use href="#dk" x="1144.7" y="1174.6"/>
<use href="#dk" x="1148.9" y="1176.9"/>
<use href="#dk" x="1153.0" y="1178.8"/>
<use href="#dk" x="1157.2" y="1180.6"/>
<use href="#dk" x="1161.3" y="1182.5"/>
<use href="#dk" x="1165.5" y="1184.5"/>
<use href="#dk" x="1169.6" y="1186.5"/>
<use href="#dk" x="1173.8" y="1189.1"/>
<use href="#dk" x="1177.9" y="1192.6"/>
<use href="#dk" x="1182.1" y="1196.8"/>
<use href="#dk" x="1186.2" y="1201.2"/>
<use href="#dk" x="1190.4" y="1205.3"/>
<use href="#dk" x="1194.5" y="1209.2"/>
<use href="#dk" x="1198.7" y="1211.8"/>
<use href="#dk" x="1202.8" y="1211.3"/>
<use href="#dk" x="1207.0" y="1208.0"/>
<use href="#dk" x="1211.1" y="1203.8"/>
<use href="#dk" x="1215.2" y="1198.9"/>
<use href="#dk" x="1219.4" y="1193.4"/>
<use href="#dk" x="1223.6" y="1188.0"/>
<use href="#dk" x="1227.7" y="1183.0"/>
<use href="#dk" x="1231.9" y="1177.1"/>
<use href="#dk" x="1236.0" y="1166.2"/>
<use href="#dk" x="1240.2" y="1154.8"/>
<use href="#dk" x="1244.3" y="1150.9"/>
<use href="#dk" x="1248.5" y="1148.9"/>
<use href="#dk" x="1252.6" y="1148.0"/>
<use href="#dk" x="1256.8" y="1149.6"/>
<use href="#dk" x="1016.1" y="1122.2"/>
<use href="#dk" x="1020.2" y="1122.8"/>
<use href="#dk" x="1024.4" y="1123.4"/>
<use href="#dk" x="1028.5" y="1124.2"/>
<use href="#dk" x="1032.7" y="1125.4"/>
<use href="#dk" x="1036.8" y="1126.7"/>
<use href="#dk" x="1041.0" y="1128.3"/>
<use href="#dk" x="1045.1" y="1130.1"/>
<use href="#dk" x="1049.2" y="1132.0"/>
<use href="#dk" x="1053.4" y="1134.2"/>
<use href="#dk" x="1057.6" y="1136.6"/>
<use href="#dk" x="1061.7" y="1139.2"/>
<use href="#dk" x="1065.9" y="1141.8"/>
<use href="#dk" x="1070.0" y="1144.3"/>
<use href="#dk" x="1074.2" y="1146.9"/>
<use href="#dk" x="1078.3" y="1149.4"/>
<use href="#dk" x="1082.5" y="1151.9"/>
<use href="#dk" x="1086.6" y="1154.3"/>
<use href="#dk" x="1090.8" y="1156.5"/>
<use href="#dk" x="1094.9" y="1158.6"/>
<use href="#dk" x="1099.1" y="1160.5"/>
<use href="#dk" x="1103.2" y="1162.6"/>
<use href="#dk" x="1107.4" y="1164.9"/>
<use href="#dk" x="1111.5" y="1167.4"/>
<use href="#dk" x="1115.7" y="1170.1"/>
<use href="#dk" x="1119.8" y="1172.6"/>
<use href="#dk" x="1124.0" y="1174.9"/>
<use href="#dk" x="1128.1" y="1176.9"/>
<use href="#dk" x="1132.2" y="1178.8"/>
<use href="#dk" x="1136.4" y="1180.5"/>
<use href="#dk" x="1140.6" y="1181.8"/>
<use href="#dk" x="1144.7" y="1182.9"/>
<use href="#dk" x="1148.9" y="1183.9"/>
<use href="#dk" x="1153.0" y="1184.6"/>
<use href="#dk" x="1157.2" y="1184.9"/>
<use href="#dk" x="1161.3" y="1184.2"/>
<use href="#dk" x="1165.5" y="1180.2"/>
<use href="#dk" x="1169.6" y="1173.8"/>
<use href="#dk" x="1173.8" y="1170.6"/>
<use href="#dk" x="1177.9" y="1168.1"/>
<use href="#dk" x="1182.1" y="1166.2"/>
<use href="#dk" x="1186.2" y="1165.8"/>
<use href="#dk" x="1190.4" y="1167.2"/>
<use href="#dk" x="1194.5" y="1170.0"/>
<use href="#dk" x="1198.7" y="1173.5"/>
<use href="#dk" x="1202.8" y="1177.9"/>
<use href="#dk" x="1207.0" y="1183.1"/>
<use href="#dk" x="1211.1" y="1188.5"/>
<use href="#dk" x="1215.2" y="1194.4"/>
<use href="#dk" x="1219.4" y="1199.4"/>
<use href="#dk" x="1223.6" y="1203.2"/>
<use href="#dk" x="1227.7" y="1206.5"/>
<use href="#dk" x="1231.9" y="1209.0"/>
<use href="#dk" x="1236.0" y="1210.1"/>
<use href="#dk" x="1240.2" y="1209.5"/>
<use href="#dk" x="1244.3" y="1207.7"/>
<use href="#dk" x="1248.5" y="1205.7"/>
<use href="#dk" x="1252.6" y="1203.9"/>
<use href="#dk" x="1256.8" y="1201.8"/>
<use href="#dk" x="1198.7" y="1013.7"/>
<use href="#dk" x="1202.8" y="1019.5"/>
<use href="#dk" x="1207.0" y="1025.5"/>
<use href="#dk" x="1211.1" y="1031.7"/>
<use href="#dk" x="1215.2" y="1038.9"/>
<use href="#dk" x="1219.4" y="1046.0"/>
<use href="#dk" x="1223.6" y="1052.1"/>
<use href="#dk" x="1227.7" y="1057.5"/>
<use href="#dk" x="1231.9" y="1062.2"/>
<use href="#dk" x="1236.0" y="1065.8"/>
<use href="#dk" x="1240.2" y="1068.4"/>
<use href="#dk" x="1244.3" y="1069.9"/>
<use href="#dk" x="1248.5" y="1069.9"/>
<use href="#dk" x="1252.6" y="1067.3"/>
<use href="#dk" x="1256.8" y="1063.3"/>
<use href="#dk" x="1207.0" y="1003.8"/>
<use href="#dk" x="1211.1" y="1011.9"/>
<use href="#dk" x="1215.2" y="1019.9"/>
<use href="#dk" x="1219.4" y="1027.5"/>
<use href="#dk" x="1223.6" y="1034.9"/>
<use href="#dk" x="1227.7" y="1041.6"/>
<use href="#dk" x="1231.9" y="1047.5"/>
<use href="#dk" x="1236.0" y="1052.6"/>
<use href="#dk" x="1240.2" y="1057.1"/>
<use href="#dk" x="1244.3" y="1061.3"/>
<use href="#dk" x="1248.5" y="1065.1"/>
<use href="#dk" x="1252.6" y="1068.7"/>
<use href="#dk" x="1256.8" y="1072.2"/>
<use href="#dk" x="1223.6" y="1110.5"/>
<use href="#dk" x="1227.7" y="1106.6"/>
<use href="#dk" x="1231.9" y="1102.8"/>
<use href="#dk" x="1236.0" y="1099.1"/>
<use href="#dk" x="1240.2" y="1095.2"/>
<use href="#dk" x="1244.3" y="1091.7"/>
<use href="#dk" x="1248.5" y="1089.9"/>
<use href="#dk" x="1252.6" y="1090.8"/>
<use href="#dk" x="1256.8" y="1093.0"/>
<use href="#dk" x="1227.7" y="1225.2"/>
<use href="#dk" x="1231.9" y="1215.3"/>
<use href="#dk" x="1236.0" y="1206.4"/>
<use href="#dk" x="1240.2" y="1199.8"/>
<use href="#dk" x="1244.3" y="1195.3"/>
<use href="#dk" x="1248.5" y="1191.8"/>
<use href="#dk" x="1252.6" y="1189.9"/>
<use href="#dk" x="1256.8" y="1191.9"/>
<use href="#dk" x="1236.0" y="1165.9"/>
<use href="#dk" x="1240.2" y="1169.8"/>
<use href="#dk" x="1244.3" y="1174.2"/>
<use href="#dk" x="1248.5" y="1179.7"/>
<use href="#dk" x="1252.6" y="1186.1"/>
<use href="#dk" x="1256.8" y="1193.1"/>
<use href="#dk" x="1153.0" y="825.7"/>
<use href="#dk" x="1157.2" y="832.8"/>
<use href="#dk" x="1161.3" y="838.7"/>
<use href="#dk" x="1165.5" y="843.3"/>
<use href="#dk" x="1169.6" y="846.8"/>
<use href="#dk" x="1173.8" y="847.4"/>
<use href="#dk" x="1177.9" y="841.8"/>
<use href="#dk" x="1182.1" y="833.7"/>
<use href="#dk" x="1198.7" y="824.9"/>
<use href="#dk" x="1202.8" y="833.7"/>
<use href="#dk" x="1207.0" y="840.4"/>
<use href="#dk" x="1211.1" y="845.5"/>
<use href="#dk" x="1215.2" y="847.8"/>
<use href="#dk" x="1219.4" y="846.0"/>
<use href="#dk" x="1223.6" y="841.3"/>
<use href="#dk" x="1227.7" y="829.4"/>
</g>
<line x1="1015.4" y1="823.8" x2="1015.4" y2="1232" stroke="#3cb878" stroke-width="2" />
<line x1="769.3" y1="850.8" x2="1260" y2="850.8" stroke="#3cb878" stroke-width="1.6" stroke-dasharray="6.5 5"/>
<rect x="769.3" y="823.8" width="490.7" height="408.2" fill="none" stroke="#3cb878" stroke-width="2.4" />
<line x1="774.6" y1="1232" x2="774.6" y2="1224" stroke="#3cb878" stroke-width="2" />
<line x1="809" y1="1232" x2="809" y2="1224" stroke="#3cb878" stroke-width="2" />
<line x1="843.4" y1="1232" x2="843.4" y2="1218" stroke="#3cb878" stroke-width="2" />
<line x1="877.8" y1="1232" x2="877.8" y2="1224" stroke="#3cb878" stroke-width="2" />
<line x1="912.2" y1="1232" x2="912.2" y2="1224" stroke="#3cb878" stroke-width="2" />
<line x1="946.6" y1="1232" x2="946.6" y2="1224" stroke="#3cb878" stroke-width="2" />
<line x1="981" y1="1232" x2="981" y2="1224" stroke="#3cb878" stroke-width="2" />
<line x1="1015.4" y1="1232" x2="1015.4" y2="1218" stroke="#3cb878" stroke-width="2" />
<line x1="1049.8" y1="1232" x2="1049.8" y2="1224" stroke="#3cb878" stroke-width="2" />
<line x1="1084.2" y1="1232" x2="1084.2" y2="1224" stroke="#3cb878" stroke-width="2" />
<line x1="1118.6" y1="1232" x2="1118.6" y2="1224" stroke="#3cb878" stroke-width="2" />
<line x1="1153" y1="1232" x2="1153" y2="1224" stroke="#3cb878" stroke-width="2" />
<line x1="1187.4" y1="1232" x2="1187.4" y2="1218" stroke="#3cb878" stroke-width="2" />
<line x1="1221.8" y1="1232" x2="1221.8" y2="1224" stroke="#3cb878" stroke-width="2" />
<line x1="1256.2" y1="1232" x2="1256.2" y2="1224" stroke="#3cb878" stroke-width="2" />
<line x1="769.3" y1="850.8" x2="782.3" y2="850.8" stroke="#3cb878" stroke-width="2.2" />
<line x1="769.3" y1="939.8" x2="782.3" y2="939.8" stroke="#3cb878" stroke-width="2.2" />
<line x1="769.3" y1="1028.8" x2="782.3" y2="1028.8" stroke="#3cb878" stroke-width="2.2" />
<line x1="769.3" y1="1117.8" x2="782.3" y2="1117.8" stroke="#3cb878" stroke-width="2.2" />
<line x1="769.3" y1="1206.8" x2="782.3" y2="1206.8" stroke="#3cb878" stroke-width="2.2" />
<text transform="translate(843,1281.6) scale(1,1.04)" font-size="40" text-anchor="middle" font-weight="normal" font-style="normal" fill="#000" font-family='"Liberation Sans", sans-serif' letter-spacing="2" >-0.5</text>
<text transform="translate(1015,1281.6) scale(1,1.04)" font-size="40" text-anchor="middle" font-weight="normal" font-style="normal" fill="#000" font-family='"Liberation Sans", sans-serif' letter-spacing="2" >0.0</text>
<text transform="translate(1186,1281.6) scale(1,1.04)" font-size="40" text-anchor="middle" font-weight="normal" font-style="normal" fill="#000" font-family='"Liberation Sans", sans-serif' letter-spacing="2" >0.5</text>
<text transform="translate(766.9,808.9) scale(1,1.04)" font-size="48" text-anchor="start" font-weight="normal" font-style="normal" fill="#000" font-family='"Liberation Sans", sans-serif' >X</text>
<text transform="translate(1009.4,806.7) scale(1,1.03)" font-size="48" text-anchor="start" font-weight="normal" font-style="normal" fill="#000" font-family='"Liberation Sans", sans-serif' >Γ</text>
<text x="1224.3" y="808.9" font-size="48" text-anchor="start" font-weight="normal" font-style="normal" fill="#000" font-family='"Liberation Sans", sans-serif' >Z</text>
<text x="693.4" y="851.5" font-size="57" text-anchor="start" font-weight="bold" font-style="normal" fill="#000" font-family='"Liberation Sans", sans-serif' >c</text>
<rect x="1294.5" y="937.5" width="19" height="257" fill="url(#cbar_c)" stroke="#000" stroke-width="1.6"/>
<text x="1276.8" y="925.7" font-size="28.5" text-anchor="start" font-weight="normal" font-style="normal" fill="#000" font-family='"Liberation Sans", sans-serif' >max</text>
<text x="1282.8" y="1229.1" font-size="28.5" text-anchor="start" font-weight="normal" font-style="normal" fill="#000" font-family='"Liberation Sans", sans-serif' >min</text>
<text transform="translate(1329,934.5) rotate(90)" font-size="30.2" font-family='"Liberation Sans", sans-serif'>Intensity (arb. units)</text>
<text x="643.6" y="1334" font-size="40" text-anchor="start" font-weight="normal" font-style="italic" fill="#000" font-family='"Liberation Sans", sans-serif' >k</text>
<line x1="669.7" y1="1323.5" x2="669.7" y2="1352" stroke="#000" stroke-width="2.2" />
<line x1="676.9" y1="1323.5" x2="676.9" y2="1352" stroke="#000" stroke-width="2.2" />
<text x="686.2" y="1334" font-size="40" text-anchor="start" font-weight="normal" font-style="normal" fill="#000" font-family='"Liberation Sans", sans-serif' >(</text>
<text x="700.5" y="1334" font-size="40" text-anchor="start" font-weight="normal" font-style="normal" fill="#000" font-family='"Liberation Sans", sans-serif' >Å</text>
<text x="723.1" y="1307.9" font-size="28" text-anchor="start" font-weight="normal" font-style="normal" fill="#000" font-family='"Liberation Sans", sans-serif' >-1</text>
<text x="749.6" y="1334" font-size="40" text-anchor="start" font-weight="normal" font-style="normal" fill="#000" font-family='"Liberation Sans", sans-serif' >)</text>
<line x1="1173.2" y1="858" x2="1173.2" y2="890" stroke="#e85a0c" stroke-width="4.2"/>
<path d="M1173.2,844 L1182.5,862 L1163.9,862 Z" fill="#e85a0c"/>
<path d="M1173.2,902.4 L1182.5,884.5 L1163.9,884.5 Z" fill="#e85a0c"/>
<text x="894.3" y="847.8" font-size="29" text-anchor="start" font-weight="normal" font-style="normal" fill="#00b050" font-family='"Liberation Sans", sans-serif' >1</text>
<text x="780.2" y="918.1" font-size="29" text-anchor="start" font-weight="normal" font-style="normal" fill="#00b050" font-family='"Liberation Sans", sans-serif' >2</text>
<text x="808.3" y="970" font-size="29" text-anchor="start" font-weight="normal" font-style="normal" fill="#00b050" font-family='"Liberation Sans", sans-serif' >3</text>
<text x="840.2" y="879.3" font-size="29" text-anchor="start" font-weight="normal" font-style="normal" fill="#00b050" font-family='"Liberation Sans", sans-serif' >4</text>
<text x="939.7" y="868.1" font-size="29" text-anchor="start" font-weight="normal" font-style="normal" fill="#00b050" font-family='"Liberation Sans", sans-serif' >5</text>
<text x="974.6" y="936.7" font-size="29" text-anchor="start" font-weight="normal" font-style="normal" fill="#00b050" font-family='"Liberation Sans", sans-serif' >6</text>
<text x="850.5" y="920" font-size="29" text-anchor="start" font-weight="normal" font-style="normal" fill="#00b050" font-family='"Liberation Sans", sans-serif' >7</text>
<text x="871.1" y="951.5" font-size="29" text-anchor="start" font-weight="normal" font-style="normal" fill="#00b050" font-family='"Liberation Sans", sans-serif' >8</text>
<text x="941.4" y="979.3" font-size="29" text-anchor="start" font-weight="normal" font-style="normal" fill="#00b050" font-family='"Liberation Sans", sans-serif' >9</text>
<text x="916.5" y="1068.1" font-size="29" text-anchor="start" font-weight="normal" font-style="normal" fill="#00b050" font-family='"Liberation Sans", sans-serif' >10</text>
<text x="898" y="1127.4" font-size="29" text-anchor="start" font-weight="normal" font-style="normal" fill="#00b050" font-family='"Liberation Sans", sans-serif' >11</text>
<text x="944.3" y="1177.4" font-size="29" text-anchor="start" font-weight="normal" font-style="normal" fill="#00b050" font-family='"Liberation Sans", sans-serif' >12</text>
<text x="1132.8" y="891" font-size="29" text-anchor="start" font-weight="normal" font-style="normal" fill="#00b050" font-family='"Liberation Sans", sans-serif' >13</text>
<text x="1112.8" y="938.5" font-size="29" text-anchor="start" font-weight="normal" font-style="normal" fill="#00b050" font-family='"Liberation Sans", sans-serif' >14</text>
<text x="1029.5" y="934.8" font-size="29" text-anchor="start" font-weight="normal" font-style="normal" fill="#00b050" font-family='"Liberation Sans", sans-serif' >15</text>
<text x="1064.7" y="982.9" font-size="29" text-anchor="start" font-weight="normal" font-style="normal" fill="#00b050" font-family='"Liberation Sans", sans-serif' >16</text>
<text x="1109.1" y="1107" font-size="29" text-anchor="start" font-weight="normal" font-style="normal" fill="#00b050" font-family='"Liberation Sans", sans-serif' >17</text>
<text x="1122.1" y="1151.5" font-size="29" text-anchor="start" font-weight="normal" font-style="normal" fill="#00b050" font-family='"Liberation Sans", sans-serif' >18</text>
<text x="1055.4" y="1183" font-size="29" text-anchor="start" font-weight="normal" font-style="normal" fill="#00b050" font-family='"Liberation Sans", sans-serif' >19</text>
</svg>
</body></html>
